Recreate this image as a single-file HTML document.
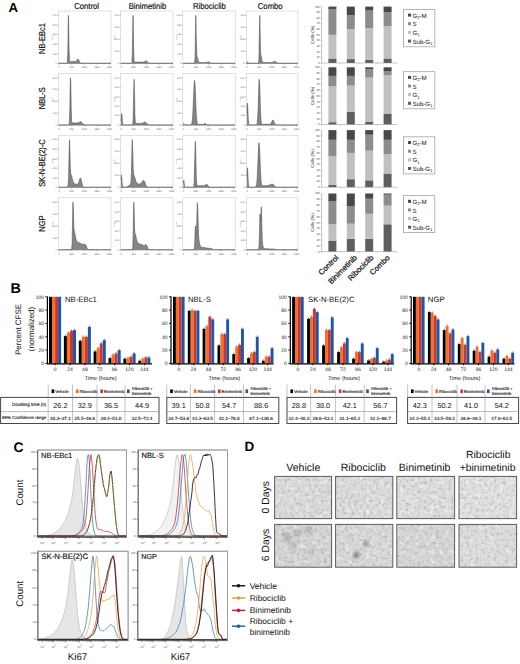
<!DOCTYPE html>
<html><head><meta charset="utf-8"><title>Figure</title>
<style>
html,body{margin:0;padding:0;background:#fff;}
body{width:520px;height:664px;overflow:hidden;}
svg{display:block;font-family:'Liberation Sans', sans-serif;text-rendering:geometricPrecision;}
</style></head><body>
<svg width="520" height="664" viewBox="0 0 520 664">
<defs>
<filter id="blur1"><feGaussianBlur stdDeviation="1.6"/></filter>
</defs>
<rect x="0" y="0" width="520" height="664" fill="#fff"/>
<text x="8.6" y="12.4" font-size="13.2" text-anchor="start" font-weight="bold" fill="#000" >A</text>
<text x="0" y="0" font-size="8.5" text-anchor="middle" font-weight="normal" fill="#111" transform="translate(86.6 8.7) scale(0.905 1)" stroke="#111" stroke-width="0.18">Control</text>
<text x="0" y="0" font-size="8.5" text-anchor="middle" font-weight="normal" fill="#111" transform="translate(147.5 8.7) scale(0.905 1)" stroke="#111" stroke-width="0.18">Binimetinib</text>
<text x="0" y="0" font-size="8.5" text-anchor="middle" font-weight="normal" fill="#111" transform="translate(209.4 8.7) scale(0.905 1)" stroke="#111" stroke-width="0.18">Ribociclib</text>
<text x="0" y="0" font-size="8.5" text-anchor="middle" font-weight="normal" fill="#111" transform="translate(270.2 8.7) scale(0.905 1)" stroke="#111" stroke-width="0.18">Combo</text>
<text x="0" y="0" font-size="8.7" text-anchor="middle" font-weight="normal" fill="#111" transform="translate(44.8 38.6) rotate(-90) scale(0.865 1)" stroke="#111" stroke-width="0.18">NB-EBc1</text>
<text x="0" y="0" font-size="8.7" text-anchor="middle" font-weight="normal" fill="#111" transform="translate(44.8 98.2) rotate(-90) scale(0.865 1)" stroke="#111" stroke-width="0.18">NBL-S</text>
<text x="0" y="0" font-size="8.7" text-anchor="middle" font-weight="normal" fill="#111" transform="translate(44.8 163) rotate(-90) scale(0.865 1)" stroke="#111" stroke-width="0.18">SK-N-BE(2)-C</text>
<text x="0" y="0" font-size="8.7" text-anchor="middle" font-weight="normal" fill="#111" transform="translate(44.8 223.6) rotate(-90) scale(0.865 1)" stroke="#111" stroke-width="0.18">NGP</text>
<rect x="58.5" y="11" width="52.5" height="52.6" fill="#fff" stroke="#c2c2c2" stroke-width="0.5"/>
<path d="M59.1 63.2 L59.1 63.2 L59.5 63.2 L60 63.2 L60.4 63.2 L60.8 63.2 L61.3 63.2 L61.7 63.2 L62.1 63.2 L62.6 63.2 L63 63.2 L63.4 63.2 L63.9 63.2 L64.3 63.2 L64.7 63.2 L65.2 63.2 L65.6 63.2 L66 63.2 L66.5 63.2 L66.9 63.2 L67.3 62.5 L67.8 53.5 L68.2 25.2 L68.4 15.4 L68.6 19.4 L69 47.3 L69.5 60.1 L69.9 61.4 L70.3 61.5 L70.8 61.5 L71.2 61.5 L71.6 61.5 L72.1 61.5 L72.5 61.5 L72.9 61.5 L73.4 61.5 L73.8 61.5 L74.2 61.5 L74.7 61.5 L75.1 61.4 L75.5 61.4 L76 61.2 L76.4 60.9 L76.8 60.4 L77.3 59.8 L77.7 59.1 L78.1 59.1 L78.3 59.2 L78.6 59.6 L79 60.6 L79.4 61.7 L79.9 62.3 L80.3 62.8 L80.7 63.1 L81.2 63.2 L81.6 63.2 L82 63.2 L82.5 63.2 L82.9 63.2 L83.3 63.2 L83.8 63.2 L84.2 63.2 L84.6 63.2 L85 63.2 L85.5 63.2 L85.9 63.2 L86.3 63.2 L86.8 63.2 L87.2 63.2 L87.6 63.2 L88.1 63.2 L88.5 63.2 L88.9 63.2 L89.4 63.2 L89.8 63.2 L90.2 63.2 L90.7 63.2 L91.1 63.2 L91.5 63.2 L92 63.2 L92.4 63.2 L92.8 63.2 L93.3 63.2 L93.7 63.2 L94.1 63.2 L94.6 63.2 L95 63.2 L95.4 63.2 L95.9 63.2 L96.3 63.2 L96.7 63.2 L97.2 63.2 L97.6 63.2 L98 63.2 L98.5 63.2 L98.9 63.2 L99.3 63.2 L99.8 63.2 L100.2 63.2 L100.6 63.2 L101.1 63.2 L101.5 63.2 L101.9 63.2 L102.3 63.2 L102.8 63.2 L103.2 63.2 L103.6 63.2 L104.1 63.2 L104.5 63.2 L104.9 63.2 L105.4 63.2 L105.8 63.2 L106.2 63.2 L106.7 63.2 L107.1 63.2 L107.5 63.2 L108 63.2 L108.4 63.2 L108.8 63.2 L109.3 63.2 L109.7 63.2 L110.1 63.2 L110.6 63.2 L111 63.2 L111 63.2 Z" fill="#858585" stroke="none"/>
<path d="M59.1 63.2 L59.5 63.2 L60 63.2 L60.4 63.2 L60.8 63.2 L61.3 63.2 L61.7 63.2 L62.1 63.2 L62.6 63.2 L63 63.2 L63.4 63.2 L63.9 63.2 L64.3 63.2 L64.7 63.2 L65.2 63.2 L65.6 63.2 L66 63.2 L66.5 63.2 L66.9 63.2 L67.3 62.5 L67.8 53.5 L68.2 25.2 L68.4 15.4 L68.6 19.4 L69 47.3 L69.5 60.1 L69.9 61.4 L70.3 61.5 L70.8 61.5 L71.2 61.5 L71.6 61.5 L72.1 61.5 L72.5 61.5 L72.9 61.5 L73.4 61.5 L73.8 61.5 L74.2 61.5 L74.7 61.5 L75.1 61.4 L75.5 61.4 L76 61.2 L76.4 60.9 L76.8 60.4 L77.3 59.8 L77.7 59.1 L78.1 59.1 L78.3 59.2 L78.6 59.6 L79 60.6 L79.4 61.7 L79.9 62.3 L80.3 62.8 L80.7 63.1 L81.2 63.2 L81.6 63.2 L82 63.2 L82.5 63.2 L82.9 63.2 L83.3 63.2 L83.8 63.2 L84.2 63.2 L84.6 63.2 L85 63.2 L85.5 63.2 L85.9 63.2 L86.3 63.2 L86.8 63.2 L87.2 63.2 L87.6 63.2 L88.1 63.2 L88.5 63.2 L88.9 63.2 L89.4 63.2 L89.8 63.2 L90.2 63.2 L90.7 63.2 L91.1 63.2 L91.5 63.2 L92 63.2 L92.4 63.2 L92.8 63.2 L93.3 63.2 L93.7 63.2 L94.1 63.2 L94.6 63.2 L95 63.2 L95.4 63.2 L95.9 63.2 L96.3 63.2 L96.7 63.2 L97.2 63.2 L97.6 63.2 L98 63.2 L98.5 63.2 L98.9 63.2 L99.3 63.2 L99.8 63.2 L100.2 63.2 L100.6 63.2 L101.1 63.2 L101.5 63.2 L101.9 63.2 L102.3 63.2 L102.8 63.2 L103.2 63.2 L103.6 63.2 L104.1 63.2 L104.5 63.2 L104.9 63.2 L105.4 63.2 L105.8 63.2 L106.2 63.2 L106.7 63.2 L107.1 63.2 L107.5 63.2 L108 63.2 L108.4 63.2 L108.8 63.2 L109.3 63.2 L109.7 63.2 L110.1 63.2 L110.6 63.2 L111 63.2" fill="none" stroke="#4d4d4d" stroke-width="0.55" stroke-linejoin="round"/>
<path d="M58.5 63.4 H111" stroke="#555" stroke-width="0.5"/>
<path d="M58.5 63.2h-1.3M58.5 53.7h-1.3M58.5 44.1h-1.3M58.5 34.6h-1.3M58.5 25h-1.3M58.5 15.4h-1.3M59.1 63.6v1.3M71.7 63.6v1.3M84.3 63.6v1.3M97 63.6v1.3M109.6 63.6v1.3" stroke="#777" stroke-width="0.4" fill="none"/>
<text x="59.1" y="68.2" font-size="2.4" text-anchor="middle" font-weight="normal" fill="#666" >0</text>
<text x="71.7" y="68.2" font-size="2.4" text-anchor="middle" font-weight="normal" fill="#666" >50K</text>
<text x="84.3" y="68.2" font-size="2.4" text-anchor="middle" font-weight="normal" fill="#666" >100K</text>
<text x="97" y="68.2" font-size="2.4" text-anchor="middle" font-weight="normal" fill="#666" >150K</text>
<text x="109.6" y="68.2" font-size="2.4" text-anchor="middle" font-weight="normal" fill="#666" >200K</text>
<text x="56.7" y="64" font-size="2.3" text-anchor="end" font-weight="normal" fill="#666" >0</text>
<text x="56.7" y="54.5" font-size="2.3" text-anchor="end" font-weight="normal" fill="#666" >200</text>
<text x="56.7" y="44.9" font-size="2.3" text-anchor="end" font-weight="normal" fill="#666" >400</text>
<text x="56.7" y="35.4" font-size="2.3" text-anchor="end" font-weight="normal" fill="#666" >600</text>
<text x="56.7" y="25.8" font-size="2.3" text-anchor="end" font-weight="normal" fill="#666" >800</text>
<text x="56.7" y="16.2" font-size="2.3" text-anchor="end" font-weight="normal" fill="#666" >1.0K</text>
<text x="52.9" y="37.3" font-size="2.0" text-anchor="middle" font-weight="normal" fill="#888" transform="rotate(-90 52.9 37.3)" >Count</text>
<rect x="120.5" y="11" width="52.5" height="52.6" fill="#fff" stroke="#c2c2c2" stroke-width="0.5"/>
<path d="M121.1 63.2 L121.1 63.2 L121.5 63.2 L122 63.2 L122.4 63.2 L122.8 63.2 L123.3 63.2 L123.7 63.2 L124.1 63.2 L124.6 63.2 L125 63.2 L125.4 63.2 L125.9 63.2 L126.3 63.2 L126.7 63.2 L127.2 63.2 L127.6 63.2 L128 63.2 L128.5 63.2 L128.9 63.2 L129.3 63.2 L129.8 63.2 L130.2 63.2 L130.6 63.2 L131 63.2 L131.5 63.2 L131.9 62.5 L132.3 53.4 L132.8 25.1 L133 15.4 L133.2 19.6 L133.6 47.9 L134.1 60.8 L134.5 62.1 L134.9 62.1 L135.4 62.1 L135.8 62.1 L136.2 62.1 L136.7 62.1 L137.1 62.1 L137.5 62.1 L138 62.1 L138.4 62.1 L138.8 62.1 L139.3 62.1 L139.7 62.1 L140.1 62.1 L140.6 62.1 L141 62.1 L141.4 62.1 L141.9 62.1 L142.3 62.1 L142.7 62.1 L143.2 62.1 L143.6 62 L144 61.9 L144.5 61.7 L144.9 61.4 L145.3 61.1 L145.8 60.8 L146.2 60.8 L146.5 61 L146.6 61 L147.1 61.5 L147.5 62 L147.9 62.4 L148.3 62.7 L148.8 62.9 L149.2 63.1 L149.6 63.2 L150.1 63.2 L150.5 63.2 L150.9 63.2 L151.4 63.2 L151.8 63.2 L152.2 63.2 L152.7 63.2 L153.1 63.2 L153.5 63.2 L154 63.2 L154.4 63.2 L154.8 63.2 L155.3 63.2 L155.7 63.2 L156.1 63.2 L156.6 63.2 L157 63.2 L157.4 63.2 L157.9 63.2 L158.3 63.2 L158.7 63.2 L159.2 63.2 L159.6 63.2 L160 63.2 L160.5 63.2 L160.9 63.2 L161.3 63.2 L161.8 63.2 L162.2 63.2 L162.6 63.2 L163.1 63.2 L163.5 63.2 L163.9 63.2 L164.3 63.2 L164.8 63.2 L165.2 63.2 L165.6 63.2 L166.1 63.2 L166.5 63.2 L166.9 63.2 L167.4 63.2 L167.8 63.2 L168.2 63.2 L168.7 63.2 L169.1 63.2 L169.5 63.2 L170 63.2 L170.4 63.2 L170.8 63.2 L171.3 63.2 L171.7 63.2 L172.1 63.2 L172.6 63.2 L173 63.2 L173 63.2 Z" fill="#858585" stroke="none"/>
<path d="M121.1 63.2 L121.5 63.2 L122 63.2 L122.4 63.2 L122.8 63.2 L123.3 63.2 L123.7 63.2 L124.1 63.2 L124.6 63.2 L125 63.2 L125.4 63.2 L125.9 63.2 L126.3 63.2 L126.7 63.2 L127.2 63.2 L127.6 63.2 L128 63.2 L128.5 63.2 L128.9 63.2 L129.3 63.2 L129.8 63.2 L130.2 63.2 L130.6 63.2 L131 63.2 L131.5 63.2 L131.9 62.5 L132.3 53.4 L132.8 25.1 L133 15.4 L133.2 19.6 L133.6 47.9 L134.1 60.8 L134.5 62.1 L134.9 62.1 L135.4 62.1 L135.8 62.1 L136.2 62.1 L136.7 62.1 L137.1 62.1 L137.5 62.1 L138 62.1 L138.4 62.1 L138.8 62.1 L139.3 62.1 L139.7 62.1 L140.1 62.1 L140.6 62.1 L141 62.1 L141.4 62.1 L141.9 62.1 L142.3 62.1 L142.7 62.1 L143.2 62.1 L143.6 62 L144 61.9 L144.5 61.7 L144.9 61.4 L145.3 61.1 L145.8 60.8 L146.2 60.8 L146.5 61 L146.6 61 L147.1 61.5 L147.5 62 L147.9 62.4 L148.3 62.7 L148.8 62.9 L149.2 63.1 L149.6 63.2 L150.1 63.2 L150.5 63.2 L150.9 63.2 L151.4 63.2 L151.8 63.2 L152.2 63.2 L152.7 63.2 L153.1 63.2 L153.5 63.2 L154 63.2 L154.4 63.2 L154.8 63.2 L155.3 63.2 L155.7 63.2 L156.1 63.2 L156.6 63.2 L157 63.2 L157.4 63.2 L157.9 63.2 L158.3 63.2 L158.7 63.2 L159.2 63.2 L159.6 63.2 L160 63.2 L160.5 63.2 L160.9 63.2 L161.3 63.2 L161.8 63.2 L162.2 63.2 L162.6 63.2 L163.1 63.2 L163.5 63.2 L163.9 63.2 L164.3 63.2 L164.8 63.2 L165.2 63.2 L165.6 63.2 L166.1 63.2 L166.5 63.2 L166.9 63.2 L167.4 63.2 L167.8 63.2 L168.2 63.2 L168.7 63.2 L169.1 63.2 L169.5 63.2 L170 63.2 L170.4 63.2 L170.8 63.2 L171.3 63.2 L171.7 63.2 L172.1 63.2 L172.6 63.2 L173 63.2" fill="none" stroke="#4d4d4d" stroke-width="0.55" stroke-linejoin="round"/>
<path d="M120.5 63.4 H173" stroke="#555" stroke-width="0.5"/>
<path d="M120.5 63.2h-1.3M120.5 51.3h-1.3M120.5 39.3h-1.3M120.5 27.4h-1.3M120.5 15.4h-1.3M121.1 63.6v1.3M133.7 63.6v1.3M146.3 63.6v1.3M159 63.6v1.3M171.6 63.6v1.3" stroke="#777" stroke-width="0.4" fill="none"/>
<text x="121.1" y="68.2" font-size="2.4" text-anchor="middle" font-weight="normal" fill="#666" >0</text>
<text x="133.7" y="68.2" font-size="2.4" text-anchor="middle" font-weight="normal" fill="#666" >50K</text>
<text x="146.3" y="68.2" font-size="2.4" text-anchor="middle" font-weight="normal" fill="#666" >100K</text>
<text x="159" y="68.2" font-size="2.4" text-anchor="middle" font-weight="normal" fill="#666" >150K</text>
<text x="171.6" y="68.2" font-size="2.4" text-anchor="middle" font-weight="normal" fill="#666" >200K</text>
<text x="118.7" y="64" font-size="2.3" text-anchor="end" font-weight="normal" fill="#666" >0</text>
<text x="118.7" y="52.1" font-size="2.3" text-anchor="end" font-weight="normal" fill="#666" >200</text>
<text x="118.7" y="40.1" font-size="2.3" text-anchor="end" font-weight="normal" fill="#666" >400</text>
<text x="118.7" y="28.2" font-size="2.3" text-anchor="end" font-weight="normal" fill="#666" >600</text>
<text x="118.7" y="16.2" font-size="2.3" text-anchor="end" font-weight="normal" fill="#666" >800</text>
<text x="114.9" y="37.3" font-size="2.0" text-anchor="middle" font-weight="normal" fill="#888" transform="rotate(-90 114.9 37.3)" >Count</text>
<rect x="182.8" y="11" width="52.4" height="52.6" fill="#fff" stroke="#c2c2c2" stroke-width="0.5"/>
<path d="M183.4 63.2 L183.4 63.2 L183.8 63.2 L184.3 63.2 L184.7 63.2 L185.1 63.2 L185.6 63.2 L186 63.2 L186.4 63.2 L186.9 63.2 L187.3 63.2 L187.7 63.2 L188.1 63.2 L188.6 63.2 L189 63.2 L189.4 63.2 L189.9 63.2 L190.3 63.2 L190.7 63.2 L191.2 63.2 L191.6 63.2 L192 63.2 L192.5 63.2 L192.9 63.2 L193.3 63.2 L193.8 63.2 L194.2 63.2 L194.6 62.9 L195.1 56.8 L195.5 31.5 L195.8 15.4 L195.9 16.2 L196.3 40.1 L196.8 55.2 L197.1 56.8 L197.2 57 L197.6 58.1 L198.1 59.9 L198.5 61.4 L198.9 62.1 L199.4 62.4 L199.8 62.5 L200.2 62.5 L200.7 62.5 L201.1 62.5 L201.5 62.5 L202 62.5 L202.4 62.5 L202.8 62.5 L203.3 62.5 L203.7 62.5 L204.1 62.5 L204.6 62.5 L205 62.5 L205.4 62.5 L205.8 62.5 L206.3 62.4 L206.7 62.3 L207.1 62.2 L207.6 62 L208 61.8 L208.4 61.7 L208.8 61.9 L208.9 61.9 L209.3 62.2 L209.7 62.6 L210.2 62.8 L210.6 63 L211 63.1 L211.5 63.2 L211.9 63.2 L212.3 63.2 L212.8 63.2 L213.2 63.2 L213.6 63.2 L214 63.2 L214.5 63.2 L214.9 63.2 L215.3 63.2 L215.8 63.2 L216.2 63.2 L216.6 63.2 L217.1 63.2 L217.5 63.2 L217.9 63.2 L218.4 63.2 L218.8 63.2 L219.2 63.2 L219.7 63.2 L220.1 63.2 L220.5 63.2 L221 63.2 L221.4 63.2 L221.8 63.2 L222.2 63.2 L222.7 63.2 L223.1 63.2 L223.5 63.2 L224 63.2 L224.4 63.2 L224.8 63.2 L225.3 63.2 L225.7 63.2 L226.1 63.2 L226.6 63.2 L227 63.2 L227.4 63.2 L227.9 63.2 L228.3 63.2 L228.7 63.2 L229.2 63.2 L229.6 63.2 L230 63.2 L230.5 63.2 L230.9 63.2 L231.3 63.2 L231.7 63.2 L232.2 63.2 L232.6 63.2 L233 63.2 L233.5 63.2 L233.9 63.2 L234.3 63.2 L234.8 63.2 L235.2 63.2 L235.2 63.2 Z" fill="#858585" stroke="none"/>
<path d="M183.4 63.2 L183.8 63.2 L184.3 63.2 L184.7 63.2 L185.1 63.2 L185.6 63.2 L186 63.2 L186.4 63.2 L186.9 63.2 L187.3 63.2 L187.7 63.2 L188.1 63.2 L188.6 63.2 L189 63.2 L189.4 63.2 L189.9 63.2 L190.3 63.2 L190.7 63.2 L191.2 63.2 L191.6 63.2 L192 63.2 L192.5 63.2 L192.9 63.2 L193.3 63.2 L193.8 63.2 L194.2 63.2 L194.6 62.9 L195.1 56.8 L195.5 31.5 L195.8 15.4 L195.9 16.2 L196.3 40.1 L196.8 55.2 L197.1 56.8 L197.2 57 L197.6 58.1 L198.1 59.9 L198.5 61.4 L198.9 62.1 L199.4 62.4 L199.8 62.5 L200.2 62.5 L200.7 62.5 L201.1 62.5 L201.5 62.5 L202 62.5 L202.4 62.5 L202.8 62.5 L203.3 62.5 L203.7 62.5 L204.1 62.5 L204.6 62.5 L205 62.5 L205.4 62.5 L205.8 62.5 L206.3 62.4 L206.7 62.3 L207.1 62.2 L207.6 62 L208 61.8 L208.4 61.7 L208.8 61.9 L208.9 61.9 L209.3 62.2 L209.7 62.6 L210.2 62.8 L210.6 63 L211 63.1 L211.5 63.2 L211.9 63.2 L212.3 63.2 L212.8 63.2 L213.2 63.2 L213.6 63.2 L214 63.2 L214.5 63.2 L214.9 63.2 L215.3 63.2 L215.8 63.2 L216.2 63.2 L216.6 63.2 L217.1 63.2 L217.5 63.2 L217.9 63.2 L218.4 63.2 L218.8 63.2 L219.2 63.2 L219.7 63.2 L220.1 63.2 L220.5 63.2 L221 63.2 L221.4 63.2 L221.8 63.2 L222.2 63.2 L222.7 63.2 L223.1 63.2 L223.5 63.2 L224 63.2 L224.4 63.2 L224.8 63.2 L225.3 63.2 L225.7 63.2 L226.1 63.2 L226.6 63.2 L227 63.2 L227.4 63.2 L227.9 63.2 L228.3 63.2 L228.7 63.2 L229.2 63.2 L229.6 63.2 L230 63.2 L230.5 63.2 L230.9 63.2 L231.3 63.2 L231.7 63.2 L232.2 63.2 L232.6 63.2 L233 63.2 L233.5 63.2 L233.9 63.2 L234.3 63.2 L234.8 63.2 L235.2 63.2" fill="none" stroke="#4d4d4d" stroke-width="0.55" stroke-linejoin="round"/>
<path d="M182.8 63.4 H235.2" stroke="#555" stroke-width="0.5"/>
<path d="M182.8 63.2h-1.3M182.8 53.7h-1.3M182.8 44.1h-1.3M182.8 34.6h-1.3M182.8 25h-1.3M182.8 15.4h-1.3M183.4 63.6v1.3M196 63.6v1.3M208.6 63.6v1.3M221.2 63.6v1.3M233.8 63.6v1.3" stroke="#777" stroke-width="0.4" fill="none"/>
<text x="183.4" y="68.2" font-size="2.4" text-anchor="middle" font-weight="normal" fill="#666" >0</text>
<text x="196" y="68.2" font-size="2.4" text-anchor="middle" font-weight="normal" fill="#666" >50K</text>
<text x="208.6" y="68.2" font-size="2.4" text-anchor="middle" font-weight="normal" fill="#666" >100K</text>
<text x="221.2" y="68.2" font-size="2.4" text-anchor="middle" font-weight="normal" fill="#666" >150K</text>
<text x="233.8" y="68.2" font-size="2.4" text-anchor="middle" font-weight="normal" fill="#666" >200K</text>
<text x="181" y="64" font-size="2.3" text-anchor="end" font-weight="normal" fill="#666" >0</text>
<text x="181" y="54.5" font-size="2.3" text-anchor="end" font-weight="normal" fill="#666" >200</text>
<text x="181" y="44.9" font-size="2.3" text-anchor="end" font-weight="normal" fill="#666" >400</text>
<text x="181" y="35.4" font-size="2.3" text-anchor="end" font-weight="normal" fill="#666" >600</text>
<text x="181" y="25.8" font-size="2.3" text-anchor="end" font-weight="normal" fill="#666" >800</text>
<text x="181" y="16.2" font-size="2.3" text-anchor="end" font-weight="normal" fill="#666" >1.0K</text>
<text x="177.2" y="37.3" font-size="2.0" text-anchor="middle" font-weight="normal" fill="#888" transform="rotate(-90 177.2 37.3)" >Count</text>
<rect x="246.4" y="11" width="51.6" height="52.6" fill="#fff" stroke="#c2c2c2" stroke-width="0.5"/>
<path d="M247 63.2 L247 62.6 L247.4 61.8 L247.5 61.7 L247.8 62.2 L248.3 63 L248.7 63.2 L249.1 63.2 L249.6 63.2 L250 63.2 L250.4 63.2 L250.8 63.2 L251.2 63.2 L251.7 63.2 L252.1 63.2 L252.5 63.2 L252.9 63.2 L253.4 63.2 L253.8 63.2 L254.2 63.2 L254.7 63.2 L255.1 63.2 L255.5 63.2 L255.9 63.2 L256.4 63.2 L256.8 63.2 L257.2 63.2 L257.6 63.2 L258.1 63.2 L258.5 63.1 L258.9 59.3 L259.3 37.8 L259.8 15.4 L260.2 34.6 L260.6 53 L261 55.3 L261.4 56.9 L261.9 59.8 L262.3 61.7 L262.7 62.3 L263.1 62.5 L263.6 62.5 L264 62.5 L264.4 62.5 L264.9 62.5 L265.3 62.5 L265.7 62.5 L266.1 62.5 L266.6 62.5 L267 62.5 L267.4 62.5 L267.8 62.5 L268.2 62.5 L268.7 62.5 L269.1 62.5 L269.5 62.5 L269.9 62.5 L270.4 62.5 L270.8 62.5 L271.2 62.4 L271.6 62.4 L272.1 62.3 L272.5 62.2 L272.9 62 L273.4 61.8 L273.8 61.5 L274.2 61.3 L274.6 61.2 L275.1 61.4 L275.5 61.6 L275.9 62 L276.3 62.3 L276.8 62.5 L277.2 62.7 L277.6 62.9 L278 63 L278.4 63.1 L278.9 63.2 L279.3 63.2 L279.7 63.2 L280.1 63.2 L280.6 63.2 L281 63.2 L281.4 63.2 L281.9 63.2 L282.3 63.2 L282.7 63.2 L283.1 63.2 L283.6 63.2 L284 63.2 L284.4 63.2 L284.8 63.2 L285.2 63.2 L285.7 63.2 L286.1 63.2 L286.5 63.2 L286.9 63.2 L287.4 63.2 L287.8 63.2 L288.2 63.2 L288.6 63.2 L289.1 63.2 L289.5 63.2 L289.9 63.2 L290.4 63.2 L290.8 63.2 L291.2 63.2 L291.6 63.2 L292.1 63.2 L292.5 63.2 L292.9 63.2 L293.3 63.2 L293.8 63.2 L294.2 63.2 L294.6 63.2 L295 63.2 L295.4 63.2 L295.9 63.2 L296.3 63.2 L296.7 63.2 L297.1 63.2 L297.6 63.2 L298 63.2 L298 63.2 Z" fill="#858585" stroke="none"/>
<path d="M247 62.6 L247.4 61.8 L247.5 61.7 L247.8 62.2 L248.3 63 L248.7 63.2 L249.1 63.2 L249.6 63.2 L250 63.2 L250.4 63.2 L250.8 63.2 L251.2 63.2 L251.7 63.2 L252.1 63.2 L252.5 63.2 L252.9 63.2 L253.4 63.2 L253.8 63.2 L254.2 63.2 L254.7 63.2 L255.1 63.2 L255.5 63.2 L255.9 63.2 L256.4 63.2 L256.8 63.2 L257.2 63.2 L257.6 63.2 L258.1 63.2 L258.5 63.1 L258.9 59.3 L259.3 37.8 L259.8 15.4 L260.2 34.6 L260.6 53 L261 55.3 L261.4 56.9 L261.9 59.8 L262.3 61.7 L262.7 62.3 L263.1 62.5 L263.6 62.5 L264 62.5 L264.4 62.5 L264.9 62.5 L265.3 62.5 L265.7 62.5 L266.1 62.5 L266.6 62.5 L267 62.5 L267.4 62.5 L267.8 62.5 L268.2 62.5 L268.7 62.5 L269.1 62.5 L269.5 62.5 L269.9 62.5 L270.4 62.5 L270.8 62.5 L271.2 62.4 L271.6 62.4 L272.1 62.3 L272.5 62.2 L272.9 62 L273.4 61.8 L273.8 61.5 L274.2 61.3 L274.6 61.2 L275.1 61.4 L275.5 61.6 L275.9 62 L276.3 62.3 L276.8 62.5 L277.2 62.7 L277.6 62.9 L278 63 L278.4 63.1 L278.9 63.2 L279.3 63.2 L279.7 63.2 L280.1 63.2 L280.6 63.2 L281 63.2 L281.4 63.2 L281.9 63.2 L282.3 63.2 L282.7 63.2 L283.1 63.2 L283.6 63.2 L284 63.2 L284.4 63.2 L284.8 63.2 L285.2 63.2 L285.7 63.2 L286.1 63.2 L286.5 63.2 L286.9 63.2 L287.4 63.2 L287.8 63.2 L288.2 63.2 L288.6 63.2 L289.1 63.2 L289.5 63.2 L289.9 63.2 L290.4 63.2 L290.8 63.2 L291.2 63.2 L291.6 63.2 L292.1 63.2 L292.5 63.2 L292.9 63.2 L293.3 63.2 L293.8 63.2 L294.2 63.2 L294.6 63.2 L295 63.2 L295.4 63.2 L295.9 63.2 L296.3 63.2 L296.7 63.2 L297.1 63.2 L297.6 63.2 L298 63.2" fill="none" stroke="#4d4d4d" stroke-width="0.55" stroke-linejoin="round"/>
<path d="M246.4 63.4 H298" stroke="#555" stroke-width="0.5"/>
<path d="M246.4 63.2h-1.3M246.4 51.3h-1.3M246.4 39.3h-1.3M246.4 27.4h-1.3M246.4 15.4h-1.3M247 63.6v1.3M259.4 63.6v1.3M271.8 63.6v1.3M284.2 63.6v1.3M296.6 63.6v1.3" stroke="#777" stroke-width="0.4" fill="none"/>
<text x="247" y="68.2" font-size="2.4" text-anchor="middle" font-weight="normal" fill="#666" >0</text>
<text x="259.4" y="68.2" font-size="2.4" text-anchor="middle" font-weight="normal" fill="#666" >50K</text>
<text x="271.8" y="68.2" font-size="2.4" text-anchor="middle" font-weight="normal" fill="#666" >100K</text>
<text x="284.2" y="68.2" font-size="2.4" text-anchor="middle" font-weight="normal" fill="#666" >150K</text>
<text x="296.6" y="68.2" font-size="2.4" text-anchor="middle" font-weight="normal" fill="#666" >200K</text>
<text x="244.6" y="64" font-size="2.3" text-anchor="end" font-weight="normal" fill="#666" >0</text>
<text x="244.6" y="52.1" font-size="2.3" text-anchor="end" font-weight="normal" fill="#666" >200</text>
<text x="244.6" y="40.1" font-size="2.3" text-anchor="end" font-weight="normal" fill="#666" >400</text>
<text x="244.6" y="28.2" font-size="2.3" text-anchor="end" font-weight="normal" fill="#666" >600</text>
<text x="244.6" y="16.2" font-size="2.3" text-anchor="end" font-weight="normal" fill="#666" >800</text>
<text x="240.8" y="37.3" font-size="2.0" text-anchor="middle" font-weight="normal" fill="#888" transform="rotate(-90 240.8 37.3)" >Count</text>
<rect x="58.5" y="73.4" width="52.5" height="51.9" fill="#fff" stroke="#c2c2c2" stroke-width="0.5"/>
<path d="M59.1 125 L59.1 125 L59.5 125 L60 125 L60.4 125 L60.8 125 L61.3 125 L61.7 125 L62.1 125 L62.6 125 L63 125 L63.4 125 L63.9 125 L64.3 125 L64.7 125 L65.2 125 L65.6 125 L66 125 L66.5 125 L66.9 124.9 L67.3 124.9 L67.8 124.9 L68.2 124.9 L68.6 124.9 L69 124.6 L69.5 121 L69.9 104.7 L70.3 81.2 L70.5 77.8 L70.8 83.7 L71.2 107.3 L71.6 120.4 L72.1 122.8 L72.5 122.9 L72.9 122.9 L73.4 122.9 L73.8 122.9 L74.2 122.9 L74.7 122.9 L75.1 122.9 L75.5 122.9 L76 122.9 L76.4 122.9 L76.8 122.9 L77.3 122.9 L77.7 122.8 L78.1 122.8 L78.6 122.7 L79 122.5 L79.4 122.3 L79.9 122 L80.3 121.8 L80.7 121.6 L81.2 121.8 L81.4 122.1 L81.6 122.3 L82 123 L82.5 123.7 L82.9 124 L83.3 124.2 L83.8 124.5 L84.2 124.6 L84.6 124.8 L85 124.9 L85.5 124.9 L85.9 124.9 L86.3 124.9 L86.8 124.9 L87.2 124.9 L87.6 124.9 L88.1 124.9 L88.5 124.9 L88.9 124.9 L89.4 124.9 L89.8 124.9 L90.2 124.9 L90.7 124.9 L91.1 124.9 L91.5 124.9 L92 124.9 L92.4 124.9 L92.8 124.9 L93.3 124.9 L93.7 124.9 L94.1 125 L94.6 125 L95 125 L95.4 125 L95.9 125 L96.3 125 L96.7 125 L97.2 125 L97.6 125 L98 125 L98.5 125 L98.9 125 L99.3 125 L99.8 125 L100.2 125 L100.6 125 L101.1 125 L101.5 125 L101.9 125 L102.3 125 L102.8 125 L103.2 125 L103.6 125 L104.1 125 L104.5 125 L104.9 125 L105.4 125 L105.8 125 L106.2 125 L106.7 125 L107.1 125 L107.5 125 L108 125 L108.4 125 L108.8 125 L109.3 125 L109.7 125 L110.1 125 L110.6 125 L111 125 L111 125 Z" fill="#858585" stroke="none"/>
<path d="M59.1 125 L59.5 125 L60 125 L60.4 125 L60.8 125 L61.3 125 L61.7 125 L62.1 125 L62.6 125 L63 125 L63.4 125 L63.9 125 L64.3 125 L64.7 125 L65.2 125 L65.6 125 L66 125 L66.5 125 L66.9 124.9 L67.3 124.9 L67.8 124.9 L68.2 124.9 L68.6 124.9 L69 124.6 L69.5 121 L69.9 104.7 L70.3 81.2 L70.5 77.8 L70.8 83.7 L71.2 107.3 L71.6 120.4 L72.1 122.8 L72.5 122.9 L72.9 122.9 L73.4 122.9 L73.8 122.9 L74.2 122.9 L74.7 122.9 L75.1 122.9 L75.5 122.9 L76 122.9 L76.4 122.9 L76.8 122.9 L77.3 122.9 L77.7 122.8 L78.1 122.8 L78.6 122.7 L79 122.5 L79.4 122.3 L79.9 122 L80.3 121.8 L80.7 121.6 L81.2 121.8 L81.4 122.1 L81.6 122.3 L82 123 L82.5 123.7 L82.9 124 L83.3 124.2 L83.8 124.5 L84.2 124.6 L84.6 124.8 L85 124.9 L85.5 124.9 L85.9 124.9 L86.3 124.9 L86.8 124.9 L87.2 124.9 L87.6 124.9 L88.1 124.9 L88.5 124.9 L88.9 124.9 L89.4 124.9 L89.8 124.9 L90.2 124.9 L90.7 124.9 L91.1 124.9 L91.5 124.9 L92 124.9 L92.4 124.9 L92.8 124.9 L93.3 124.9 L93.7 124.9 L94.1 125 L94.6 125 L95 125 L95.4 125 L95.9 125 L96.3 125 L96.7 125 L97.2 125 L97.6 125 L98 125 L98.5 125 L98.9 125 L99.3 125 L99.8 125 L100.2 125 L100.6 125 L101.1 125 L101.5 125 L101.9 125 L102.3 125 L102.8 125 L103.2 125 L103.6 125 L104.1 125 L104.5 125 L104.9 125 L105.4 125 L105.8 125 L106.2 125 L106.7 125 L107.1 125 L107.5 125 L108 125 L108.4 125 L108.8 125 L109.3 125 L109.7 125 L110.1 125 L110.6 125 L111 125" fill="none" stroke="#4d4d4d" stroke-width="0.55" stroke-linejoin="round"/>
<path d="M58.5 125 H111" stroke="#555" stroke-width="0.5"/>
<path d="M58.5 125h-1.3M58.5 113.2h-1.3M58.5 101.4h-1.3M58.5 89.6h-1.3M58.5 77.8h-1.3M59.1 125.3v1.3M71.7 125.3v1.3M84.3 125.3v1.3M97 125.3v1.3M109.6 125.3v1.3" stroke="#777" stroke-width="0.4" fill="none"/>
<text x="59.1" y="129.9" font-size="2.4" text-anchor="middle" font-weight="normal" fill="#666" >0</text>
<text x="71.7" y="129.9" font-size="2.4" text-anchor="middle" font-weight="normal" fill="#666" >50K</text>
<text x="84.3" y="129.9" font-size="2.4" text-anchor="middle" font-weight="normal" fill="#666" >100K</text>
<text x="97" y="129.9" font-size="2.4" text-anchor="middle" font-weight="normal" fill="#666" >150K</text>
<text x="109.6" y="129.9" font-size="2.4" text-anchor="middle" font-weight="normal" fill="#666" >200K</text>
<text x="56.7" y="125.8" font-size="2.3" text-anchor="end" font-weight="normal" fill="#666" >0</text>
<text x="56.7" y="114" font-size="2.3" text-anchor="end" font-weight="normal" fill="#666" >200</text>
<text x="56.7" y="102.2" font-size="2.3" text-anchor="end" font-weight="normal" fill="#666" >400</text>
<text x="56.7" y="90.4" font-size="2.3" text-anchor="end" font-weight="normal" fill="#666" >600</text>
<text x="56.7" y="78.6" font-size="2.3" text-anchor="end" font-weight="normal" fill="#666" >800</text>
<text x="52.9" y="99.3" font-size="2.0" text-anchor="middle" font-weight="normal" fill="#888" transform="rotate(-90 52.9 99.3)" >Count</text>
<rect x="120.5" y="73.4" width="52.5" height="51.9" fill="#fff" stroke="#c2c2c2" stroke-width="0.5"/>
<path d="M121.1 125 L121.1 121.2 L121.5 114.5 L121.7 113.4 L122 115.2 L122.4 121.9 L122.8 124.6 L123.3 124.9 L123.7 124.9 L124.1 124.9 L124.6 124.9 L125 124.9 L125.4 125 L125.9 125 L126.3 125 L126.7 125 L127.2 125 L127.6 125 L128 125 L128.5 125 L128.9 125 L129.3 125 L129.8 125 L130.2 124.9 L130.6 124.9 L131 124.9 L131.5 124.9 L131.9 124.9 L132.3 124.9 L132.8 124 L133.2 116.8 L133.6 95.4 L134.1 79.3 L134.5 94.1 L134.9 115.3 L135.4 122.5 L135.8 123.4 L136.2 123.4 L136.7 123.4 L137.1 123.4 L137.5 123.4 L138 123.4 L138.4 123.4 L138.8 123.4 L139.3 123.4 L139.7 123.4 L140.1 123.4 L140.6 123.4 L141 123.4 L141.4 123.4 L141.9 123.3 L142.3 123.2 L142.7 123.1 L143.2 122.9 L143.6 122.6 L144 122.3 L144.5 122 L144.9 121.8 L145.3 122 L145.5 122.2 L145.8 122.5 L146.2 123 L146.6 123.6 L147.1 123.9 L147.5 124.2 L147.9 124.4 L148.3 124.6 L148.8 124.8 L149.2 124.8 L149.6 124.9 L150.1 124.9 L150.5 124.9 L150.9 124.9 L151.4 124.9 L151.8 124.9 L152.2 124.9 L152.7 124.9 L153.1 124.9 L153.5 124.9 L154 124.9 L154.4 124.9 L154.8 124.9 L155.3 124.9 L155.7 124.9 L156.1 124.9 L156.6 124.9 L157 124.9 L157.4 124.9 L157.9 124.9 L158.3 125 L158.7 125 L159.2 125 L159.6 125 L160 125 L160.5 125 L160.9 125 L161.3 125 L161.8 125 L162.2 125 L162.6 125 L163.1 125 L163.5 125 L163.9 125 L164.3 125 L164.8 125 L165.2 125 L165.6 125 L166.1 125 L166.5 125 L166.9 125 L167.4 125 L167.8 125 L168.2 125 L168.7 125 L169.1 125 L169.5 125 L170 125 L170.4 125 L170.8 125 L171.3 125 L171.7 125 L172.1 125 L172.6 125 L173 125 L173 125 Z" fill="#858585" stroke="none"/>
<path d="M121.1 121.2 L121.5 114.5 L121.7 113.4 L122 115.2 L122.4 121.9 L122.8 124.6 L123.3 124.9 L123.7 124.9 L124.1 124.9 L124.6 124.9 L125 124.9 L125.4 125 L125.9 125 L126.3 125 L126.7 125 L127.2 125 L127.6 125 L128 125 L128.5 125 L128.9 125 L129.3 125 L129.8 125 L130.2 124.9 L130.6 124.9 L131 124.9 L131.5 124.9 L131.9 124.9 L132.3 124.9 L132.8 124 L133.2 116.8 L133.6 95.4 L134.1 79.3 L134.5 94.1 L134.9 115.3 L135.4 122.5 L135.8 123.4 L136.2 123.4 L136.7 123.4 L137.1 123.4 L137.5 123.4 L138 123.4 L138.4 123.4 L138.8 123.4 L139.3 123.4 L139.7 123.4 L140.1 123.4 L140.6 123.4 L141 123.4 L141.4 123.4 L141.9 123.3 L142.3 123.2 L142.7 123.1 L143.2 122.9 L143.6 122.6 L144 122.3 L144.5 122 L144.9 121.8 L145.3 122 L145.5 122.2 L145.8 122.5 L146.2 123 L146.6 123.6 L147.1 123.9 L147.5 124.2 L147.9 124.4 L148.3 124.6 L148.8 124.8 L149.2 124.8 L149.6 124.9 L150.1 124.9 L150.5 124.9 L150.9 124.9 L151.4 124.9 L151.8 124.9 L152.2 124.9 L152.7 124.9 L153.1 124.9 L153.5 124.9 L154 124.9 L154.4 124.9 L154.8 124.9 L155.3 124.9 L155.7 124.9 L156.1 124.9 L156.6 124.9 L157 124.9 L157.4 124.9 L157.9 124.9 L158.3 125 L158.7 125 L159.2 125 L159.6 125 L160 125 L160.5 125 L160.9 125 L161.3 125 L161.8 125 L162.2 125 L162.6 125 L163.1 125 L163.5 125 L163.9 125 L164.3 125 L164.8 125 L165.2 125 L165.6 125 L166.1 125 L166.5 125 L166.9 125 L167.4 125 L167.8 125 L168.2 125 L168.7 125 L169.1 125 L169.5 125 L170 125 L170.4 125 L170.8 125 L171.3 125 L171.7 125 L172.1 125 L172.6 125 L173 125" fill="none" stroke="#4d4d4d" stroke-width="0.55" stroke-linejoin="round"/>
<path d="M120.5 125 H173" stroke="#555" stroke-width="0.5"/>
<path d="M120.5 125h-1.3M120.5 115.5h-1.3M120.5 106.1h-1.3M120.5 96.7h-1.3M120.5 87.2h-1.3M120.5 77.8h-1.3M121.1 125.3v1.3M133.7 125.3v1.3M146.3 125.3v1.3M159 125.3v1.3M171.6 125.3v1.3" stroke="#777" stroke-width="0.4" fill="none"/>
<text x="121.1" y="129.9" font-size="2.4" text-anchor="middle" font-weight="normal" fill="#666" >0</text>
<text x="133.7" y="129.9" font-size="2.4" text-anchor="middle" font-weight="normal" fill="#666" >50K</text>
<text x="146.3" y="129.9" font-size="2.4" text-anchor="middle" font-weight="normal" fill="#666" >100K</text>
<text x="159" y="129.9" font-size="2.4" text-anchor="middle" font-weight="normal" fill="#666" >150K</text>
<text x="171.6" y="129.9" font-size="2.4" text-anchor="middle" font-weight="normal" fill="#666" >200K</text>
<text x="118.7" y="125.8" font-size="2.3" text-anchor="end" font-weight="normal" fill="#666" >0</text>
<text x="118.7" y="116.3" font-size="2.3" text-anchor="end" font-weight="normal" fill="#666" >200</text>
<text x="118.7" y="106.9" font-size="2.3" text-anchor="end" font-weight="normal" fill="#666" >400</text>
<text x="118.7" y="97.5" font-size="2.3" text-anchor="end" font-weight="normal" fill="#666" >600</text>
<text x="118.7" y="88" font-size="2.3" text-anchor="end" font-weight="normal" fill="#666" >800</text>
<text x="118.7" y="78.6" font-size="2.3" text-anchor="end" font-weight="normal" fill="#666" >1.0K</text>
<text x="114.9" y="99.3" font-size="2.0" text-anchor="middle" font-weight="normal" fill="#888" transform="rotate(-90 114.9 99.3)" >Count</text>
<rect x="182.8" y="73.4" width="52.4" height="51.9" fill="#fff" stroke="#c2c2c2" stroke-width="0.5"/>
<path d="M183.4 125 L183.4 123.2 L183.8 123.9 L184.3 124.7 L184.7 124.9 L185.1 124.9 L185.6 124.9 L186 124.9 L186.4 124.9 L186.9 124.9 L187.3 124.9 L187.7 124.9 L188.1 124.9 L188.6 124.9 L189 124.9 L189.4 124.9 L189.9 124.9 L190.3 124.9 L190.7 124.9 L191.2 124.7 L191.6 124.1 L192 122.5 L192.5 118.9 L192.9 112.2 L193.3 102.4 L193.8 91.3 L194.2 82.7 L194.5 80.3 L194.6 80.5 L195.1 85.3 L195.5 95.1 L195.9 106.1 L196.3 114.8 L196.8 120.2 L197.2 122.9 L197.6 123.9 L198.1 124.3 L198.5 124.4 L198.9 124.4 L199.4 124.4 L199.8 124.4 L200.2 124.4 L200.7 124.4 L201.1 124.4 L201.5 124.4 L202 124.4 L202.4 124.4 L202.8 124.4 L203.3 124.3 L203.7 124.1 L204.1 123.8 L204.6 123.6 L205 123.6 L205.2 123.6 L205.4 123.7 L205.8 124 L206.3 124.4 L206.7 124.6 L207.1 124.8 L207.6 124.9 L208 124.9 L208.4 124.9 L208.9 124.9 L209.3 124.9 L209.7 124.9 L210.2 124.9 L210.6 124.9 L211 124.9 L211.5 124.9 L211.9 124.9 L212.3 124.9 L212.8 124.9 L213.2 124.9 L213.6 125 L214 125 L214.5 125 L214.9 125 L215.3 125 L215.8 125 L216.2 125 L216.6 125 L217.1 125 L217.5 125 L217.9 125 L218.4 125 L218.8 125 L219.2 125 L219.7 125 L220.1 125 L220.5 125 L221 125 L221.4 125 L221.8 125 L222.2 125 L222.7 125 L223.1 125 L223.5 125 L224 125 L224.4 125 L224.8 125 L225.3 125 L225.7 125 L226.1 125 L226.6 125 L227 125 L227.4 125 L227.9 125 L228.3 125 L228.7 125 L229.2 125 L229.6 125 L230 125 L230.5 125 L230.9 125 L231.3 125 L231.7 125 L232.2 125 L232.6 125 L233 125 L233.5 125 L233.9 125 L234.3 125 L234.8 125 L235.2 125 L235.2 125 Z" fill="#858585" stroke="none"/>
<path d="M183.4 123.2 L183.8 123.9 L184.3 124.7 L184.7 124.9 L185.1 124.9 L185.6 124.9 L186 124.9 L186.4 124.9 L186.9 124.9 L187.3 124.9 L187.7 124.9 L188.1 124.9 L188.6 124.9 L189 124.9 L189.4 124.9 L189.9 124.9 L190.3 124.9 L190.7 124.9 L191.2 124.7 L191.6 124.1 L192 122.5 L192.5 118.9 L192.9 112.2 L193.3 102.4 L193.8 91.3 L194.2 82.7 L194.5 80.3 L194.6 80.5 L195.1 85.3 L195.5 95.1 L195.9 106.1 L196.3 114.8 L196.8 120.2 L197.2 122.9 L197.6 123.9 L198.1 124.3 L198.5 124.4 L198.9 124.4 L199.4 124.4 L199.8 124.4 L200.2 124.4 L200.7 124.4 L201.1 124.4 L201.5 124.4 L202 124.4 L202.4 124.4 L202.8 124.4 L203.3 124.3 L203.7 124.1 L204.1 123.8 L204.6 123.6 L205 123.6 L205.2 123.6 L205.4 123.7 L205.8 124 L206.3 124.4 L206.7 124.6 L207.1 124.8 L207.6 124.9 L208 124.9 L208.4 124.9 L208.9 124.9 L209.3 124.9 L209.7 124.9 L210.2 124.9 L210.6 124.9 L211 124.9 L211.5 124.9 L211.9 124.9 L212.3 124.9 L212.8 124.9 L213.2 124.9 L213.6 125 L214 125 L214.5 125 L214.9 125 L215.3 125 L215.8 125 L216.2 125 L216.6 125 L217.1 125 L217.5 125 L217.9 125 L218.4 125 L218.8 125 L219.2 125 L219.7 125 L220.1 125 L220.5 125 L221 125 L221.4 125 L221.8 125 L222.2 125 L222.7 125 L223.1 125 L223.5 125 L224 125 L224.4 125 L224.8 125 L225.3 125 L225.7 125 L226.1 125 L226.6 125 L227 125 L227.4 125 L227.9 125 L228.3 125 L228.7 125 L229.2 125 L229.6 125 L230 125 L230.5 125 L230.9 125 L231.3 125 L231.7 125 L232.2 125 L232.6 125 L233 125 L233.5 125 L233.9 125 L234.3 125 L234.8 125 L235.2 125" fill="none" stroke="#4d4d4d" stroke-width="0.55" stroke-linejoin="round"/>
<path d="M182.8 125 H235.2" stroke="#555" stroke-width="0.5"/>
<path d="M182.8 125h-1.3M182.8 113.2h-1.3M182.8 101.4h-1.3M182.8 89.6h-1.3M182.8 77.8h-1.3M183.4 125.3v1.3M196 125.3v1.3M208.6 125.3v1.3M221.2 125.3v1.3M233.8 125.3v1.3" stroke="#777" stroke-width="0.4" fill="none"/>
<text x="183.4" y="129.9" font-size="2.4" text-anchor="middle" font-weight="normal" fill="#666" >0</text>
<text x="196" y="129.9" font-size="2.4" text-anchor="middle" font-weight="normal" fill="#666" >50K</text>
<text x="208.6" y="129.9" font-size="2.4" text-anchor="middle" font-weight="normal" fill="#666" >100K</text>
<text x="221.2" y="129.9" font-size="2.4" text-anchor="middle" font-weight="normal" fill="#666" >150K</text>
<text x="233.8" y="129.9" font-size="2.4" text-anchor="middle" font-weight="normal" fill="#666" >200K</text>
<text x="181" y="125.8" font-size="2.3" text-anchor="end" font-weight="normal" fill="#666" >0</text>
<text x="181" y="114" font-size="2.3" text-anchor="end" font-weight="normal" fill="#666" >200</text>
<text x="181" y="102.2" font-size="2.3" text-anchor="end" font-weight="normal" fill="#666" >400</text>
<text x="181" y="90.4" font-size="2.3" text-anchor="end" font-weight="normal" fill="#666" >600</text>
<text x="181" y="78.6" font-size="2.3" text-anchor="end" font-weight="normal" fill="#666" >800</text>
<text x="177.2" y="99.3" font-size="2.0" text-anchor="middle" font-weight="normal" fill="#888" transform="rotate(-90 177.2 99.3)" >Count</text>
<rect x="246.4" y="73.4" width="51.6" height="51.9" fill="#fff" stroke="#c2c2c2" stroke-width="0.5"/>
<path d="M247 125 L247 113.2 L247.4 103.6 L247.5 103.2 L247.8 108.4 L248.3 119.5 L248.7 124.2 L249.1 124.9 L249.6 124.9 L250 124.9 L250.4 124.9 L250.8 124.9 L251.2 124.9 L251.7 125 L252.1 125 L252.5 124.9 L252.9 124.9 L253.4 124.9 L253.8 124.9 L254.2 124.9 L254.7 124.9 L255.1 124.9 L255.5 124.9 L255.9 124.9 L256.4 124.9 L256.8 124.5 L257.2 122.9 L257.6 118.5 L258.1 109.2 L258.5 95.6 L258.9 83.2 L259.2 79.3 L259.3 79.5 L259.8 86.9 L260.2 100.7 L260.6 113 L261 120.2 L261.4 123.2 L261.9 124.1 L262.3 124.3 L262.7 124.3 L263.1 124.3 L263.6 124.3 L264 124.3 L264.4 124.3 L264.9 124.3 L265.3 124.3 L265.7 124.3 L266.1 124.3 L266.6 124.3 L267 124.3 L267.4 124.3 L267.8 124.3 L268.2 124.3 L268.7 124.3 L269.1 124.3 L269.5 124.3 L269.9 124.2 L270.4 124.1 L270.8 123.7 L271.2 123.1 L271.6 122.2 L272.1 121.1 L272.5 120.2 L272.9 120 L273 120 L273.4 120.3 L273.8 121.2 L274.2 122.4 L274.6 123.3 L275.1 124.1 L275.5 124.5 L275.9 124.8 L276.3 124.9 L276.8 124.9 L277.2 124.9 L277.6 124.9 L278 124.9 L278.4 124.9 L278.9 124.9 L279.3 124.9 L279.7 124.9 L280.1 124.9 L280.6 124.9 L281 124.9 L281.4 124.9 L281.9 124.9 L282.3 125 L282.7 125 L283.1 125 L283.6 125 L284 125 L284.4 125 L284.8 125 L285.2 125 L285.7 125 L286.1 125 L286.5 125 L286.9 125 L287.4 125 L287.8 125 L288.2 125 L288.6 125 L289.1 125 L289.5 125 L289.9 125 L290.4 125 L290.8 125 L291.2 125 L291.6 125 L292.1 125 L292.5 125 L292.9 125 L293.3 125 L293.8 125 L294.2 125 L294.6 125 L295 125 L295.4 125 L295.9 125 L296.3 125 L296.7 125 L297.1 125 L297.6 125 L298 125 L298 125 Z" fill="#858585" stroke="none"/>
<path d="M247 113.2 L247.4 103.6 L247.5 103.2 L247.8 108.4 L248.3 119.5 L248.7 124.2 L249.1 124.9 L249.6 124.9 L250 124.9 L250.4 124.9 L250.8 124.9 L251.2 124.9 L251.7 125 L252.1 125 L252.5 124.9 L252.9 124.9 L253.4 124.9 L253.8 124.9 L254.2 124.9 L254.7 124.9 L255.1 124.9 L255.5 124.9 L255.9 124.9 L256.4 124.9 L256.8 124.5 L257.2 122.9 L257.6 118.5 L258.1 109.2 L258.5 95.6 L258.9 83.2 L259.2 79.3 L259.3 79.5 L259.8 86.9 L260.2 100.7 L260.6 113 L261 120.2 L261.4 123.2 L261.9 124.1 L262.3 124.3 L262.7 124.3 L263.1 124.3 L263.6 124.3 L264 124.3 L264.4 124.3 L264.9 124.3 L265.3 124.3 L265.7 124.3 L266.1 124.3 L266.6 124.3 L267 124.3 L267.4 124.3 L267.8 124.3 L268.2 124.3 L268.7 124.3 L269.1 124.3 L269.5 124.3 L269.9 124.2 L270.4 124.1 L270.8 123.7 L271.2 123.1 L271.6 122.2 L272.1 121.1 L272.5 120.2 L272.9 120 L273 120 L273.4 120.3 L273.8 121.2 L274.2 122.4 L274.6 123.3 L275.1 124.1 L275.5 124.5 L275.9 124.8 L276.3 124.9 L276.8 124.9 L277.2 124.9 L277.6 124.9 L278 124.9 L278.4 124.9 L278.9 124.9 L279.3 124.9 L279.7 124.9 L280.1 124.9 L280.6 124.9 L281 124.9 L281.4 124.9 L281.9 124.9 L282.3 125 L282.7 125 L283.1 125 L283.6 125 L284 125 L284.4 125 L284.8 125 L285.2 125 L285.7 125 L286.1 125 L286.5 125 L286.9 125 L287.4 125 L287.8 125 L288.2 125 L288.6 125 L289.1 125 L289.5 125 L289.9 125 L290.4 125 L290.8 125 L291.2 125 L291.6 125 L292.1 125 L292.5 125 L292.9 125 L293.3 125 L293.8 125 L294.2 125 L294.6 125 L295 125 L295.4 125 L295.9 125 L296.3 125 L296.7 125 L297.1 125 L297.6 125 L298 125" fill="none" stroke="#4d4d4d" stroke-width="0.55" stroke-linejoin="round"/>
<path d="M246.4 125 H298" stroke="#555" stroke-width="0.5"/>
<path d="M246.4 125h-1.3M246.4 115.5h-1.3M246.4 106.1h-1.3M246.4 96.7h-1.3M246.4 87.2h-1.3M246.4 77.8h-1.3M247 125.3v1.3M259.4 125.3v1.3M271.8 125.3v1.3M284.2 125.3v1.3M296.6 125.3v1.3" stroke="#777" stroke-width="0.4" fill="none"/>
<text x="247" y="129.9" font-size="2.4" text-anchor="middle" font-weight="normal" fill="#666" >0</text>
<text x="259.4" y="129.9" font-size="2.4" text-anchor="middle" font-weight="normal" fill="#666" >50K</text>
<text x="271.8" y="129.9" font-size="2.4" text-anchor="middle" font-weight="normal" fill="#666" >100K</text>
<text x="284.2" y="129.9" font-size="2.4" text-anchor="middle" font-weight="normal" fill="#666" >150K</text>
<text x="296.6" y="129.9" font-size="2.4" text-anchor="middle" font-weight="normal" fill="#666" >200K</text>
<text x="244.6" y="125.8" font-size="2.3" text-anchor="end" font-weight="normal" fill="#666" >0</text>
<text x="244.6" y="116.3" font-size="2.3" text-anchor="end" font-weight="normal" fill="#666" >200</text>
<text x="244.6" y="106.9" font-size="2.3" text-anchor="end" font-weight="normal" fill="#666" >400</text>
<text x="244.6" y="97.5" font-size="2.3" text-anchor="end" font-weight="normal" fill="#666" >600</text>
<text x="244.6" y="88" font-size="2.3" text-anchor="end" font-weight="normal" fill="#666" >800</text>
<text x="244.6" y="78.6" font-size="2.3" text-anchor="end" font-weight="normal" fill="#666" >1.0K</text>
<text x="240.8" y="99.3" font-size="2.0" text-anchor="middle" font-weight="normal" fill="#888" transform="rotate(-90 240.8 99.3)" >Count</text>
<rect x="58.5" y="135.2" width="52.5" height="52.4" fill="#fff" stroke="#c2c2c2" stroke-width="0.5"/>
<path d="M59.1 187.2 L59.1 187.2 L59.5 187.2 L60 187.2 L60.4 187.2 L60.8 187.2 L61.3 187.2 L61.7 187.2 L62.1 187.2 L62.6 187.2 L63 187.2 L63.4 187.2 L63.9 187.2 L64.3 187.2 L64.7 187.2 L65.2 187.2 L65.6 187.2 L66 187.2 L66.5 187.1 L66.9 187 L67.3 186.7 L67.8 186.1 L68.2 184.4 L68.6 176.8 L69 156 L69.5 139.6 L69.9 150.1 L70.3 167.7 L70.8 173.7 L71.2 174.9 L71.6 176.1 L72.1 177.7 L72.5 179.5 L72.9 181 L73.4 182.2 L73.8 183.1 L74.2 183.6 L74.7 183.9 L75.1 184.1 L75.5 184.1 L76 184.2 L76.4 184.2 L76.8 184.2 L77.3 184.1 L77.7 184 L78.1 183.6 L78.6 182.9 L79 181.7 L79.4 180.2 L79.9 178.8 L80.3 178.1 L80.4 178.1 L80.7 178.4 L81.2 179.6 L81.6 181.4 L82 183.6 L82.5 185.4 L82.9 186.8 L83.3 187.1 L83.8 187.2 L84.2 187.2 L84.6 187.2 L85 187.2 L85.5 187.2 L85.9 187.2 L86.3 187.2 L86.8 187.2 L87.2 187.2 L87.6 187.2 L88.1 187.2 L88.5 187.2 L88.9 187.2 L89.4 187.2 L89.8 187.2 L90.2 187.2 L90.7 187.2 L91.1 187.2 L91.5 187.2 L92 187.2 L92.4 187.2 L92.8 187.2 L93.3 187.2 L93.7 187.2 L94.1 187.2 L94.6 187.2 L95 187.2 L95.4 187.2 L95.9 187.2 L96.3 187.2 L96.7 187.2 L97.2 187.2 L97.6 187.2 L98 187.2 L98.5 187.2 L98.9 187.2 L99.3 187.2 L99.8 187.2 L100.2 187.2 L100.6 187.2 L101.1 187.2 L101.5 187.2 L101.9 187.2 L102.3 187.2 L102.8 187.2 L103.2 187.2 L103.6 187.2 L104.1 187.2 L104.5 187.2 L104.9 187.2 L105.4 187.2 L105.8 187.2 L106.2 187.2 L106.7 187.2 L107.1 187.2 L107.5 187.2 L108 187.2 L108.4 187.2 L108.8 187.2 L109.3 187.2 L109.7 187.2 L110.1 187.2 L110.6 187.2 L111 187.2 L111 187.2 Z" fill="#858585" stroke="none"/>
<path d="M59.1 187.2 L59.5 187.2 L60 187.2 L60.4 187.2 L60.8 187.2 L61.3 187.2 L61.7 187.2 L62.1 187.2 L62.6 187.2 L63 187.2 L63.4 187.2 L63.9 187.2 L64.3 187.2 L64.7 187.2 L65.2 187.2 L65.6 187.2 L66 187.2 L66.5 187.1 L66.9 187 L67.3 186.7 L67.8 186.1 L68.2 184.4 L68.6 176.8 L69 156 L69.5 139.6 L69.9 150.1 L70.3 167.7 L70.8 173.7 L71.2 174.9 L71.6 176.1 L72.1 177.7 L72.5 179.5 L72.9 181 L73.4 182.2 L73.8 183.1 L74.2 183.6 L74.7 183.9 L75.1 184.1 L75.5 184.1 L76 184.2 L76.4 184.2 L76.8 184.2 L77.3 184.1 L77.7 184 L78.1 183.6 L78.6 182.9 L79 181.7 L79.4 180.2 L79.9 178.8 L80.3 178.1 L80.4 178.1 L80.7 178.4 L81.2 179.6 L81.6 181.4 L82 183.6 L82.5 185.4 L82.9 186.8 L83.3 187.1 L83.8 187.2 L84.2 187.2 L84.6 187.2 L85 187.2 L85.5 187.2 L85.9 187.2 L86.3 187.2 L86.8 187.2 L87.2 187.2 L87.6 187.2 L88.1 187.2 L88.5 187.2 L88.9 187.2 L89.4 187.2 L89.8 187.2 L90.2 187.2 L90.7 187.2 L91.1 187.2 L91.5 187.2 L92 187.2 L92.4 187.2 L92.8 187.2 L93.3 187.2 L93.7 187.2 L94.1 187.2 L94.6 187.2 L95 187.2 L95.4 187.2 L95.9 187.2 L96.3 187.2 L96.7 187.2 L97.2 187.2 L97.6 187.2 L98 187.2 L98.5 187.2 L98.9 187.2 L99.3 187.2 L99.8 187.2 L100.2 187.2 L100.6 187.2 L101.1 187.2 L101.5 187.2 L101.9 187.2 L102.3 187.2 L102.8 187.2 L103.2 187.2 L103.6 187.2 L104.1 187.2 L104.5 187.2 L104.9 187.2 L105.4 187.2 L105.8 187.2 L106.2 187.2 L106.7 187.2 L107.1 187.2 L107.5 187.2 L108 187.2 L108.4 187.2 L108.8 187.2 L109.3 187.2 L109.7 187.2 L110.1 187.2 L110.6 187.2 L111 187.2" fill="none" stroke="#4d4d4d" stroke-width="0.55" stroke-linejoin="round"/>
<path d="M58.5 187.3 H111" stroke="#555" stroke-width="0.5"/>
<path d="M58.5 187.2h-1.3M58.5 177.7h-1.3M58.5 168.2h-1.3M58.5 158.7h-1.3M58.5 149.2h-1.3M58.5 139.6h-1.3M59.1 187.6v1.3M71.7 187.6v1.3M84.3 187.6v1.3M97 187.6v1.3M109.6 187.6v1.3" stroke="#777" stroke-width="0.4" fill="none"/>
<text x="59.1" y="192.2" font-size="2.4" text-anchor="middle" font-weight="normal" fill="#666" >0</text>
<text x="71.7" y="192.2" font-size="2.4" text-anchor="middle" font-weight="normal" fill="#666" >50K</text>
<text x="84.3" y="192.2" font-size="2.4" text-anchor="middle" font-weight="normal" fill="#666" >100K</text>
<text x="97" y="192.2" font-size="2.4" text-anchor="middle" font-weight="normal" fill="#666" >150K</text>
<text x="109.6" y="192.2" font-size="2.4" text-anchor="middle" font-weight="normal" fill="#666" >200K</text>
<text x="56.7" y="188.1" font-size="2.3" text-anchor="end" font-weight="normal" fill="#666" >0</text>
<text x="56.7" y="178.5" font-size="2.3" text-anchor="end" font-weight="normal" fill="#666" >200</text>
<text x="56.7" y="169" font-size="2.3" text-anchor="end" font-weight="normal" fill="#666" >400</text>
<text x="56.7" y="159.5" font-size="2.3" text-anchor="end" font-weight="normal" fill="#666" >600</text>
<text x="56.7" y="150" font-size="2.3" text-anchor="end" font-weight="normal" fill="#666" >800</text>
<text x="56.7" y="140.4" font-size="2.3" text-anchor="end" font-weight="normal" fill="#666" >1.0K</text>
<text x="52.9" y="161.4" font-size="2.0" text-anchor="middle" font-weight="normal" fill="#888" transform="rotate(-90 52.9 161.4)" >Count</text>
<rect x="120.5" y="135.2" width="52.5" height="52.4" fill="#fff" stroke="#c2c2c2" stroke-width="0.5"/>
<path d="M121.1 187.2 L121.1 179.8 L121.5 175 L121.5 175.1 L122 180.5 L122.4 186 L122.8 187.2 L123.3 187.2 L123.7 187.2 L124.1 187.2 L124.6 187.2 L125 187.1 L125.4 187.1 L125.9 187 L126.3 186.9 L126.7 186.7 L127.2 186.5 L127.6 186.3 L128 186.1 L128.5 185.9 L128.9 185.6 L129.3 185.4 L129.8 185.1 L129.9 184.9 L130.2 184.7 L130.6 184 L131 181.4 L131.5 170.7 L131.9 149.5 L132.3 139.6 L132.3 140 L132.8 153.7 L133.2 168.7 L133.6 173.6 L133.6 174.1 L134.1 175.5 L134.5 176.6 L134.9 178 L135.4 179.5 L135.8 180.9 L136.2 182 L136.7 182.8 L137.1 183.3 L137.5 183.6 L138 183.8 L138.4 183.9 L138.8 183.9 L139.3 183.9 L139.7 183.9 L140.1 183.8 L140.6 183.7 L141 183.3 L141.4 182.8 L141.9 182.2 L142.3 181.4 L142.7 180.8 L143.2 180.4 L143.4 180.3 L143.6 180.3 L144 180.7 L144.5 181.3 L144.9 182 L145.3 183.4 L145.8 184.9 L146.2 186.1 L146.6 187.1 L147.1 187.2 L147.5 187.2 L147.9 187.2 L148.3 187.2 L148.8 187.2 L149.2 187.2 L149.6 187.2 L150.1 187.2 L150.5 187.2 L150.9 187.2 L151.4 187.2 L151.8 187.2 L152.2 187.2 L152.7 187.2 L153.1 187.2 L153.5 187.2 L154 187.2 L154.4 187.2 L154.8 187.2 L155.3 187.2 L155.7 187.2 L156.1 187.2 L156.6 187.2 L157 187.2 L157.4 187.2 L157.9 187.2 L158.3 187.2 L158.7 187.2 L159.2 187.2 L159.6 187.2 L160 187.2 L160.5 187.2 L160.9 187.2 L161.3 187.2 L161.8 187.2 L162.2 187.2 L162.6 187.2 L163.1 187.2 L163.5 187.2 L163.9 187.2 L164.3 187.2 L164.8 187.2 L165.2 187.2 L165.6 187.2 L166.1 187.2 L166.5 187.2 L166.9 187.2 L167.4 187.2 L167.8 187.2 L168.2 187.2 L168.7 187.2 L169.1 187.2 L169.5 187.2 L170 187.2 L170.4 187.2 L170.8 187.2 L171.3 187.2 L171.7 187.2 L172.1 187.2 L172.6 187.2 L173 187.2 L173 187.2 Z" fill="#858585" stroke="none"/>
<path d="M121.1 179.8 L121.5 175 L121.5 175.1 L122 180.5 L122.4 186 L122.8 187.2 L123.3 187.2 L123.7 187.2 L124.1 187.2 L124.6 187.2 L125 187.1 L125.4 187.1 L125.9 187 L126.3 186.9 L126.7 186.7 L127.2 186.5 L127.6 186.3 L128 186.1 L128.5 185.9 L128.9 185.6 L129.3 185.4 L129.8 185.1 L129.9 184.9 L130.2 184.7 L130.6 184 L131 181.4 L131.5 170.7 L131.9 149.5 L132.3 139.6 L132.3 140 L132.8 153.7 L133.2 168.7 L133.6 173.6 L133.6 174.1 L134.1 175.5 L134.5 176.6 L134.9 178 L135.4 179.5 L135.8 180.9 L136.2 182 L136.7 182.8 L137.1 183.3 L137.5 183.6 L138 183.8 L138.4 183.9 L138.8 183.9 L139.3 183.9 L139.7 183.9 L140.1 183.8 L140.6 183.7 L141 183.3 L141.4 182.8 L141.9 182.2 L142.3 181.4 L142.7 180.8 L143.2 180.4 L143.4 180.3 L143.6 180.3 L144 180.7 L144.5 181.3 L144.9 182 L145.3 183.4 L145.8 184.9 L146.2 186.1 L146.6 187.1 L147.1 187.2 L147.5 187.2 L147.9 187.2 L148.3 187.2 L148.8 187.2 L149.2 187.2 L149.6 187.2 L150.1 187.2 L150.5 187.2 L150.9 187.2 L151.4 187.2 L151.8 187.2 L152.2 187.2 L152.7 187.2 L153.1 187.2 L153.5 187.2 L154 187.2 L154.4 187.2 L154.8 187.2 L155.3 187.2 L155.7 187.2 L156.1 187.2 L156.6 187.2 L157 187.2 L157.4 187.2 L157.9 187.2 L158.3 187.2 L158.7 187.2 L159.2 187.2 L159.6 187.2 L160 187.2 L160.5 187.2 L160.9 187.2 L161.3 187.2 L161.8 187.2 L162.2 187.2 L162.6 187.2 L163.1 187.2 L163.5 187.2 L163.9 187.2 L164.3 187.2 L164.8 187.2 L165.2 187.2 L165.6 187.2 L166.1 187.2 L166.5 187.2 L166.9 187.2 L167.4 187.2 L167.8 187.2 L168.2 187.2 L168.7 187.2 L169.1 187.2 L169.5 187.2 L170 187.2 L170.4 187.2 L170.8 187.2 L171.3 187.2 L171.7 187.2 L172.1 187.2 L172.6 187.2 L173 187.2" fill="none" stroke="#4d4d4d" stroke-width="0.55" stroke-linejoin="round"/>
<path d="M120.5 187.3 H173" stroke="#555" stroke-width="0.5"/>
<path d="M120.5 187.2h-1.3M120.5 175.3h-1.3M120.5 163.4h-1.3M120.5 151.5h-1.3M120.5 139.6h-1.3M121.1 187.6v1.3M133.7 187.6v1.3M146.3 187.6v1.3M159 187.6v1.3M171.6 187.6v1.3" stroke="#777" stroke-width="0.4" fill="none"/>
<text x="121.1" y="192.2" font-size="2.4" text-anchor="middle" font-weight="normal" fill="#666" >0</text>
<text x="133.7" y="192.2" font-size="2.4" text-anchor="middle" font-weight="normal" fill="#666" >50K</text>
<text x="146.3" y="192.2" font-size="2.4" text-anchor="middle" font-weight="normal" fill="#666" >100K</text>
<text x="159" y="192.2" font-size="2.4" text-anchor="middle" font-weight="normal" fill="#666" >150K</text>
<text x="171.6" y="192.2" font-size="2.4" text-anchor="middle" font-weight="normal" fill="#666" >200K</text>
<text x="118.7" y="188.1" font-size="2.3" text-anchor="end" font-weight="normal" fill="#666" >0</text>
<text x="118.7" y="176.1" font-size="2.3" text-anchor="end" font-weight="normal" fill="#666" >200</text>
<text x="118.7" y="164.2" font-size="2.3" text-anchor="end" font-weight="normal" fill="#666" >400</text>
<text x="118.7" y="152.3" font-size="2.3" text-anchor="end" font-weight="normal" fill="#666" >600</text>
<text x="118.7" y="140.4" font-size="2.3" text-anchor="end" font-weight="normal" fill="#666" >800</text>
<text x="114.9" y="161.4" font-size="2.0" text-anchor="middle" font-weight="normal" fill="#888" transform="rotate(-90 114.9 161.4)" >Count</text>
<rect x="182.8" y="135.2" width="52.4" height="52.4" fill="#fff" stroke="#c2c2c2" stroke-width="0.5"/>
<path d="M183.4 187.2 L183.4 183.5 L183.8 180.1 L183.8 180.1 L184.3 183.9 L184.7 186.9 L185.1 187.2 L185.6 187.2 L186 187.2 L186.4 187.2 L186.9 187.2 L187.3 187.2 L187.7 187.2 L188.1 187.2 L188.6 187.2 L189 187.2 L189.4 187.2 L189.9 187.2 L190.3 187.2 L190.7 187.2 L191.2 187.2 L191.6 187.2 L192 187.2 L192.5 187.2 L192.9 187.2 L193.3 187.1 L193.8 186.1 L194.2 180.7 L194.6 165.3 L195.1 145.9 L195.3 141.2 L195.5 142.8 L195.9 159.6 L196.3 176.9 L196.8 184.1 L197.2 185.5 L197.6 185.7 L198.1 185.7 L198.5 185.7 L198.9 185.7 L199.4 185.7 L199.8 185.7 L200.2 185.7 L200.7 185.7 L201.1 185.7 L201.5 185.7 L202 185.7 L202.4 185.7 L202.8 185.7 L203.3 185.7 L203.7 185.6 L204.1 185.5 L204.6 185.4 L205 185.1 L205.4 184.9 L205.8 184.6 L206.3 184.4 L206.7 184.3 L207.1 184.4 L207.6 184.9 L208 185.6 L208.4 186.3 L208.9 186.9 L209.3 187.1 L209.7 187.2 L210.2 187.2 L210.6 187.2 L211 187.2 L211.5 187.2 L211.9 187.2 L212.3 187.2 L212.8 187.2 L213.2 187.2 L213.6 187.2 L214 187.2 L214.5 187.2 L214.9 187.2 L215.3 187.2 L215.8 187.2 L216.2 187.2 L216.6 187.2 L217.1 187.2 L217.5 187.2 L217.9 187.2 L218.4 187.2 L218.8 187.2 L219.2 187.2 L219.7 187.2 L220.1 187.2 L220.5 187.2 L221 187.2 L221.4 187.2 L221.8 187.2 L222.2 187.2 L222.7 187.2 L223.1 187.2 L223.5 187.2 L224 187.2 L224.4 187.2 L224.8 187.2 L225.3 187.2 L225.7 187.2 L226.1 187.2 L226.6 187.2 L227 187.2 L227.4 187.2 L227.9 187.2 L228.3 187.2 L228.7 187.2 L229.2 187.2 L229.6 187.2 L230 187.2 L230.5 187.2 L230.9 187.2 L231.3 187.2 L231.7 187.2 L232.2 187.2 L232.6 187.2 L233 187.2 L233.5 187.2 L233.9 187.2 L234.3 187.2 L234.8 187.2 L235.2 187.2 L235.2 187.2 Z" fill="#858585" stroke="none"/>
<path d="M183.4 183.5 L183.8 180.1 L183.8 180.1 L184.3 183.9 L184.7 186.9 L185.1 187.2 L185.6 187.2 L186 187.2 L186.4 187.2 L186.9 187.2 L187.3 187.2 L187.7 187.2 L188.1 187.2 L188.6 187.2 L189 187.2 L189.4 187.2 L189.9 187.2 L190.3 187.2 L190.7 187.2 L191.2 187.2 L191.6 187.2 L192 187.2 L192.5 187.2 L192.9 187.2 L193.3 187.1 L193.8 186.1 L194.2 180.7 L194.6 165.3 L195.1 145.9 L195.3 141.2 L195.5 142.8 L195.9 159.6 L196.3 176.9 L196.8 184.1 L197.2 185.5 L197.6 185.7 L198.1 185.7 L198.5 185.7 L198.9 185.7 L199.4 185.7 L199.8 185.7 L200.2 185.7 L200.7 185.7 L201.1 185.7 L201.5 185.7 L202 185.7 L202.4 185.7 L202.8 185.7 L203.3 185.7 L203.7 185.6 L204.1 185.5 L204.6 185.4 L205 185.1 L205.4 184.9 L205.8 184.6 L206.3 184.4 L206.7 184.3 L207.1 184.4 L207.6 184.9 L208 185.6 L208.4 186.3 L208.9 186.9 L209.3 187.1 L209.7 187.2 L210.2 187.2 L210.6 187.2 L211 187.2 L211.5 187.2 L211.9 187.2 L212.3 187.2 L212.8 187.2 L213.2 187.2 L213.6 187.2 L214 187.2 L214.5 187.2 L214.9 187.2 L215.3 187.2 L215.8 187.2 L216.2 187.2 L216.6 187.2 L217.1 187.2 L217.5 187.2 L217.9 187.2 L218.4 187.2 L218.8 187.2 L219.2 187.2 L219.7 187.2 L220.1 187.2 L220.5 187.2 L221 187.2 L221.4 187.2 L221.8 187.2 L222.2 187.2 L222.7 187.2 L223.1 187.2 L223.5 187.2 L224 187.2 L224.4 187.2 L224.8 187.2 L225.3 187.2 L225.7 187.2 L226.1 187.2 L226.6 187.2 L227 187.2 L227.4 187.2 L227.9 187.2 L228.3 187.2 L228.7 187.2 L229.2 187.2 L229.6 187.2 L230 187.2 L230.5 187.2 L230.9 187.2 L231.3 187.2 L231.7 187.2 L232.2 187.2 L232.6 187.2 L233 187.2 L233.5 187.2 L233.9 187.2 L234.3 187.2 L234.8 187.2 L235.2 187.2" fill="none" stroke="#4d4d4d" stroke-width="0.55" stroke-linejoin="round"/>
<path d="M182.8 187.3 H235.2" stroke="#555" stroke-width="0.5"/>
<path d="M182.8 187.2h-1.3M182.8 177.7h-1.3M182.8 168.2h-1.3M182.8 158.7h-1.3M182.8 149.2h-1.3M182.8 139.6h-1.3M183.4 187.6v1.3M196 187.6v1.3M208.6 187.6v1.3M221.2 187.6v1.3M233.8 187.6v1.3" stroke="#777" stroke-width="0.4" fill="none"/>
<text x="183.4" y="192.2" font-size="2.4" text-anchor="middle" font-weight="normal" fill="#666" >0</text>
<text x="196" y="192.2" font-size="2.4" text-anchor="middle" font-weight="normal" fill="#666" >50K</text>
<text x="208.6" y="192.2" font-size="2.4" text-anchor="middle" font-weight="normal" fill="#666" >100K</text>
<text x="221.2" y="192.2" font-size="2.4" text-anchor="middle" font-weight="normal" fill="#666" >150K</text>
<text x="233.8" y="192.2" font-size="2.4" text-anchor="middle" font-weight="normal" fill="#666" >200K</text>
<text x="181" y="188.1" font-size="2.3" text-anchor="end" font-weight="normal" fill="#666" >0</text>
<text x="181" y="178.5" font-size="2.3" text-anchor="end" font-weight="normal" fill="#666" >200</text>
<text x="181" y="169" font-size="2.3" text-anchor="end" font-weight="normal" fill="#666" >400</text>
<text x="181" y="159.5" font-size="2.3" text-anchor="end" font-weight="normal" fill="#666" >600</text>
<text x="181" y="150" font-size="2.3" text-anchor="end" font-weight="normal" fill="#666" >800</text>
<text x="181" y="140.4" font-size="2.3" text-anchor="end" font-weight="normal" fill="#666" >1.0K</text>
<text x="177.2" y="161.4" font-size="2.0" text-anchor="middle" font-weight="normal" fill="#888" transform="rotate(-90 177.2 161.4)" >Count</text>
<rect x="246.4" y="135.2" width="51.6" height="52.4" fill="#fff" stroke="#c2c2c2" stroke-width="0.5"/>
<path d="M247 187.2 L247 176.8 L247.4 168.1 L247.5 167.8 L247.8 172.5 L248.3 182.4 L248.7 186.6 L249.1 187.2 L249.6 187.2 L250 187.2 L250.4 187.2 L250.8 187.2 L251.2 187.2 L251.7 187.2 L252.1 187.2 L252.5 187.2 L252.9 187.2 L253.4 187.2 L253.8 187.2 L254.2 187.2 L254.7 187.2 L255.1 187.2 L255.5 187.1 L255.9 186.8 L256.4 185.7 L256.8 183 L257.2 177.6 L257.6 168.9 L258.1 158 L258.5 147.9 L258.9 142.9 L259 142.7 L259.3 144.6 L259.8 152.1 L260.2 163.2 L260.6 173 L261 179.7 L261.4 183.3 L261.9 184.9 L262.3 185.5 L262.7 185.7 L263.1 185.7 L263.6 185.7 L264 185.7 L264.4 185.7 L264.9 185.7 L265.3 185.7 L265.7 185.7 L266.1 185.7 L266.6 185.7 L267 185.6 L267.4 185.6 L267.8 185.5 L268.2 185.4 L268.7 185.3 L269.1 185.2 L269.5 185 L269.9 184.8 L270.4 184.6 L270.8 184.4 L271.2 184.3 L271.6 184.2 L272 184.2 L272.1 184.2 L272.5 184.2 L272.9 184.3 L273.4 184.5 L273.8 184.9 L274.2 185.5 L274.6 186.2 L275.1 186.8 L275.5 186.9 L275.9 187 L276.3 187.1 L276.8 187.1 L277.2 187.2 L277.6 187.2 L278 187.2 L278.4 187.2 L278.9 187.2 L279.3 187.2 L279.7 187.2 L280.1 187.2 L280.6 187.2 L281 187.2 L281.4 187.2 L281.9 187.2 L282.3 187.2 L282.7 187.2 L283.1 187.2 L283.6 187.2 L284 187.2 L284.4 187.2 L284.8 187.2 L285.2 187.2 L285.7 187.2 L286.1 187.2 L286.5 187.2 L286.9 187.2 L287.4 187.2 L287.8 187.2 L288.2 187.2 L288.6 187.2 L289.1 187.2 L289.5 187.2 L289.9 187.2 L290.4 187.2 L290.8 187.2 L291.2 187.2 L291.6 187.2 L292.1 187.2 L292.5 187.2 L292.9 187.2 L293.3 187.2 L293.8 187.2 L294.2 187.2 L294.6 187.2 L295 187.2 L295.4 187.2 L295.9 187.2 L296.3 187.2 L296.7 187.2 L297.1 187.2 L297.6 187.2 L298 187.2 L298 187.2 Z" fill="#858585" stroke="none"/>
<path d="M247 176.8 L247.4 168.1 L247.5 167.8 L247.8 172.5 L248.3 182.4 L248.7 186.6 L249.1 187.2 L249.6 187.2 L250 187.2 L250.4 187.2 L250.8 187.2 L251.2 187.2 L251.7 187.2 L252.1 187.2 L252.5 187.2 L252.9 187.2 L253.4 187.2 L253.8 187.2 L254.2 187.2 L254.7 187.2 L255.1 187.2 L255.5 187.1 L255.9 186.8 L256.4 185.7 L256.8 183 L257.2 177.6 L257.6 168.9 L258.1 158 L258.5 147.9 L258.9 142.9 L259 142.7 L259.3 144.6 L259.8 152.1 L260.2 163.2 L260.6 173 L261 179.7 L261.4 183.3 L261.9 184.9 L262.3 185.5 L262.7 185.7 L263.1 185.7 L263.6 185.7 L264 185.7 L264.4 185.7 L264.9 185.7 L265.3 185.7 L265.7 185.7 L266.1 185.7 L266.6 185.7 L267 185.6 L267.4 185.6 L267.8 185.5 L268.2 185.4 L268.7 185.3 L269.1 185.2 L269.5 185 L269.9 184.8 L270.4 184.6 L270.8 184.4 L271.2 184.3 L271.6 184.2 L272 184.2 L272.1 184.2 L272.5 184.2 L272.9 184.3 L273.4 184.5 L273.8 184.9 L274.2 185.5 L274.6 186.2 L275.1 186.8 L275.5 186.9 L275.9 187 L276.3 187.1 L276.8 187.1 L277.2 187.2 L277.6 187.2 L278 187.2 L278.4 187.2 L278.9 187.2 L279.3 187.2 L279.7 187.2 L280.1 187.2 L280.6 187.2 L281 187.2 L281.4 187.2 L281.9 187.2 L282.3 187.2 L282.7 187.2 L283.1 187.2 L283.6 187.2 L284 187.2 L284.4 187.2 L284.8 187.2 L285.2 187.2 L285.7 187.2 L286.1 187.2 L286.5 187.2 L286.9 187.2 L287.4 187.2 L287.8 187.2 L288.2 187.2 L288.6 187.2 L289.1 187.2 L289.5 187.2 L289.9 187.2 L290.4 187.2 L290.8 187.2 L291.2 187.2 L291.6 187.2 L292.1 187.2 L292.5 187.2 L292.9 187.2 L293.3 187.2 L293.8 187.2 L294.2 187.2 L294.6 187.2 L295 187.2 L295.4 187.2 L295.9 187.2 L296.3 187.2 L296.7 187.2 L297.1 187.2 L297.6 187.2 L298 187.2" fill="none" stroke="#4d4d4d" stroke-width="0.55" stroke-linejoin="round"/>
<path d="M246.4 187.3 H298" stroke="#555" stroke-width="0.5"/>
<path d="M246.4 187.2h-1.3M246.4 175.3h-1.3M246.4 163.4h-1.3M246.4 151.5h-1.3M246.4 139.6h-1.3M247 187.6v1.3M259.4 187.6v1.3M271.8 187.6v1.3M284.2 187.6v1.3M296.6 187.6v1.3" stroke="#777" stroke-width="0.4" fill="none"/>
<text x="247" y="192.2" font-size="2.4" text-anchor="middle" font-weight="normal" fill="#666" >0</text>
<text x="259.4" y="192.2" font-size="2.4" text-anchor="middle" font-weight="normal" fill="#666" >50K</text>
<text x="271.8" y="192.2" font-size="2.4" text-anchor="middle" font-weight="normal" fill="#666" >100K</text>
<text x="284.2" y="192.2" font-size="2.4" text-anchor="middle" font-weight="normal" fill="#666" >150K</text>
<text x="296.6" y="192.2" font-size="2.4" text-anchor="middle" font-weight="normal" fill="#666" >200K</text>
<text x="244.6" y="188.1" font-size="2.3" text-anchor="end" font-weight="normal" fill="#666" >0</text>
<text x="244.6" y="176.1" font-size="2.3" text-anchor="end" font-weight="normal" fill="#666" >200</text>
<text x="244.6" y="164.2" font-size="2.3" text-anchor="end" font-weight="normal" fill="#666" >400</text>
<text x="244.6" y="152.3" font-size="2.3" text-anchor="end" font-weight="normal" fill="#666" >600</text>
<text x="244.6" y="140.4" font-size="2.3" text-anchor="end" font-weight="normal" fill="#666" >800</text>
<text x="240.8" y="161.4" font-size="2.0" text-anchor="middle" font-weight="normal" fill="#888" transform="rotate(-90 240.8 161.4)" >Count</text>
<rect x="58.5" y="197.8" width="52.5" height="52.2" fill="#fff" stroke="#c2c2c2" stroke-width="0.5"/>
<path d="M59.1 249.7 L59.1 249.7 L59.5 249.7 L60 249.7 L60.4 249.7 L60.8 249.7 L61.3 249.7 L61.7 249.7 L62.1 249.7 L62.6 249.7 L63 249.7 L63.4 249.7 L63.9 249.7 L64.3 249.7 L64.7 249.7 L65.2 249.7 L65.6 249.6 L66 249.6 L66.5 249.6 L66.9 249.6 L67.3 249.6 L67.8 249.6 L68.2 249.6 L68.6 249.6 L69 249.6 L69.5 249.6 L69.9 249.6 L70.3 249.6 L70.8 249.6 L71.2 249.5 L71.6 248.9 L72.1 244.3 L72.5 225.1 L72.9 202.6 L73 202.2 L73.4 209 L73.8 226.4 L74.2 230.3 L74.2 230.7 L74.7 232.3 L75.1 234.6 L75.5 237.1 L76 239.2 L76.4 240.5 L76.8 241.3 L77.3 241.7 L77.7 242 L78.1 242.2 L78.6 242.4 L79 242.6 L79.4 242.8 L79.9 243 L80.3 243.3 L80.7 243.5 L81.2 243.7 L81.6 243.9 L82 244.1 L82.5 244.2 L82.9 244.4 L83.3 244.4 L83.8 244.3 L84.2 244.2 L84.6 244.2 L85 244.3 L85.5 244.6 L85.9 245.1 L86.3 246.1 L86.8 247.3 L87.2 248.5 L87.6 249.6 L88.1 249.6 L88.5 249.6 L88.9 249.6 L89.4 249.6 L89.8 249.6 L90.2 249.6 L90.7 249.6 L91.1 249.6 L91.5 249.6 L92 249.6 L92.4 249.6 L92.8 249.6 L93.3 249.6 L93.7 249.7 L94.1 249.7 L94.6 249.7 L95 249.7 L95.4 249.7 L95.9 249.7 L96.3 249.7 L96.7 249.7 L97.2 249.7 L97.6 249.7 L98 249.7 L98.5 249.7 L98.9 249.7 L99.3 249.7 L99.8 249.7 L100.2 249.7 L100.6 249.7 L101.1 249.7 L101.5 249.7 L101.9 249.7 L102.3 249.7 L102.8 249.7 L103.2 249.7 L103.6 249.7 L104.1 249.7 L104.5 249.7 L104.9 249.7 L105.4 249.7 L105.8 249.7 L106.2 249.7 L106.7 249.7 L107.1 249.7 L107.5 249.7 L108 249.7 L108.4 249.7 L108.8 249.7 L109.3 249.7 L109.7 249.7 L110.1 249.7 L110.6 249.7 L111 249.7 L111 249.7 Z" fill="#858585" stroke="none"/>
<path d="M59.1 249.7 L59.5 249.7 L60 249.7 L60.4 249.7 L60.8 249.7 L61.3 249.7 L61.7 249.7 L62.1 249.7 L62.6 249.7 L63 249.7 L63.4 249.7 L63.9 249.7 L64.3 249.7 L64.7 249.7 L65.2 249.7 L65.6 249.6 L66 249.6 L66.5 249.6 L66.9 249.6 L67.3 249.6 L67.8 249.6 L68.2 249.6 L68.6 249.6 L69 249.6 L69.5 249.6 L69.9 249.6 L70.3 249.6 L70.8 249.6 L71.2 249.5 L71.6 248.9 L72.1 244.3 L72.5 225.1 L72.9 202.6 L73 202.2 L73.4 209 L73.8 226.4 L74.2 230.3 L74.2 230.7 L74.7 232.3 L75.1 234.6 L75.5 237.1 L76 239.2 L76.4 240.5 L76.8 241.3 L77.3 241.7 L77.7 242 L78.1 242.2 L78.6 242.4 L79 242.6 L79.4 242.8 L79.9 243 L80.3 243.3 L80.7 243.5 L81.2 243.7 L81.6 243.9 L82 244.1 L82.5 244.2 L82.9 244.4 L83.3 244.4 L83.8 244.3 L84.2 244.2 L84.6 244.2 L85 244.3 L85.5 244.6 L85.9 245.1 L86.3 246.1 L86.8 247.3 L87.2 248.5 L87.6 249.6 L88.1 249.6 L88.5 249.6 L88.9 249.6 L89.4 249.6 L89.8 249.6 L90.2 249.6 L90.7 249.6 L91.1 249.6 L91.5 249.6 L92 249.6 L92.4 249.6 L92.8 249.6 L93.3 249.6 L93.7 249.7 L94.1 249.7 L94.6 249.7 L95 249.7 L95.4 249.7 L95.9 249.7 L96.3 249.7 L96.7 249.7 L97.2 249.7 L97.6 249.7 L98 249.7 L98.5 249.7 L98.9 249.7 L99.3 249.7 L99.8 249.7 L100.2 249.7 L100.6 249.7 L101.1 249.7 L101.5 249.7 L101.9 249.7 L102.3 249.7 L102.8 249.7 L103.2 249.7 L103.6 249.7 L104.1 249.7 L104.5 249.7 L104.9 249.7 L105.4 249.7 L105.8 249.7 L106.2 249.7 L106.7 249.7 L107.1 249.7 L107.5 249.7 L108 249.7 L108.4 249.7 L108.8 249.7 L109.3 249.7 L109.7 249.7 L110.1 249.7 L110.6 249.7 L111 249.7" fill="none" stroke="#4d4d4d" stroke-width="0.55" stroke-linejoin="round"/>
<path d="M58.5 249.8 H111" stroke="#555" stroke-width="0.5"/>
<path d="M58.5 249.7h-1.3M58.5 237.8h-1.3M58.5 225.9h-1.3M58.5 214.1h-1.3M58.5 202.2h-1.3M59.1 250v1.3M71.7 250v1.3M84.3 250v1.3M97 250v1.3M109.6 250v1.3" stroke="#777" stroke-width="0.4" fill="none"/>
<text x="59.1" y="254.6" font-size="2.4" text-anchor="middle" font-weight="normal" fill="#666" >0</text>
<text x="71.7" y="254.6" font-size="2.4" text-anchor="middle" font-weight="normal" fill="#666" >50K</text>
<text x="84.3" y="254.6" font-size="2.4" text-anchor="middle" font-weight="normal" fill="#666" >100K</text>
<text x="97" y="254.6" font-size="2.4" text-anchor="middle" font-weight="normal" fill="#666" >150K</text>
<text x="109.6" y="254.6" font-size="2.4" text-anchor="middle" font-weight="normal" fill="#666" >200K</text>
<text x="56.7" y="250.5" font-size="2.3" text-anchor="end" font-weight="normal" fill="#666" >0</text>
<text x="56.7" y="238.6" font-size="2.3" text-anchor="end" font-weight="normal" fill="#666" >200</text>
<text x="56.7" y="226.7" font-size="2.3" text-anchor="end" font-weight="normal" fill="#666" >400</text>
<text x="56.7" y="214.9" font-size="2.3" text-anchor="end" font-weight="normal" fill="#666" >600</text>
<text x="56.7" y="203" font-size="2.3" text-anchor="end" font-weight="normal" fill="#666" >800</text>
<text x="52.9" y="223.9" font-size="2.0" text-anchor="middle" font-weight="normal" fill="#888" transform="rotate(-90 52.9 223.9)" >Count</text>
<rect x="120.5" y="197.8" width="52.5" height="52.2" fill="#fff" stroke="#c2c2c2" stroke-width="0.5"/>
<path d="M121.1 249.7 L121.1 249.7 L121.5 249.7 L122 249.7 L122.4 249.7 L122.8 249.7 L123.3 249.7 L123.7 249.7 L124.1 249.7 L124.6 249.7 L125 249.7 L125.4 249.7 L125.9 249.7 L126.3 249.7 L126.7 249.6 L127.2 249.6 L127.6 249.6 L128 249.6 L128.5 249.6 L128.9 249.6 L129.3 249.6 L129.8 249.6 L130.2 249.6 L130.6 249.6 L131 249.6 L131.5 249.6 L131.9 249.6 L132.3 249.4 L132.8 247.2 L133.2 232.4 L133.6 205.4 L133.8 202.2 L134.1 208.6 L134.5 227.8 L134.9 233.3 L135.1 233.6 L135.4 234.1 L135.8 235.7 L136.2 237.9 L136.7 240 L137.1 241.5 L137.5 242.5 L138 243 L138.4 243.3 L138.8 243.5 L139.3 243.7 L139.7 243.9 L140.1 244.1 L140.6 244.3 L141 244.4 L141.4 244.6 L141.9 244.8 L142.3 245 L142.7 245.1 L143.2 245.3 L143.6 245.4 L144 245.5 L144.5 245.4 L144.9 245.1 L145.3 244.8 L145.8 244.6 L146 244.6 L146.2 244.7 L146.6 245.2 L147.1 245.9 L147.5 247.1 L147.9 248.2 L148.3 249.1 L148.8 249.6 L149.2 249.6 L149.6 249.6 L150.1 249.6 L150.5 249.6 L150.9 249.6 L151.4 249.6 L151.8 249.6 L152.2 249.6 L152.7 249.6 L153.1 249.6 L153.5 249.6 L154 249.7 L154.4 249.7 L154.8 249.7 L155.3 249.7 L155.7 249.7 L156.1 249.7 L156.6 249.7 L157 249.7 L157.4 249.7 L157.9 249.7 L158.3 249.7 L158.7 249.7 L159.2 249.7 L159.6 249.7 L160 249.7 L160.5 249.7 L160.9 249.7 L161.3 249.7 L161.8 249.7 L162.2 249.7 L162.6 249.7 L163.1 249.7 L163.5 249.7 L163.9 249.7 L164.3 249.7 L164.8 249.7 L165.2 249.7 L165.6 249.7 L166.1 249.7 L166.5 249.7 L166.9 249.7 L167.4 249.7 L167.8 249.7 L168.2 249.7 L168.7 249.7 L169.1 249.7 L169.5 249.7 L170 249.7 L170.4 249.7 L170.8 249.7 L171.3 249.7 L171.7 249.7 L172.1 249.7 L172.6 249.7 L173 249.7 L173 249.7 Z" fill="#858585" stroke="none"/>
<path d="M121.1 249.7 L121.5 249.7 L122 249.7 L122.4 249.7 L122.8 249.7 L123.3 249.7 L123.7 249.7 L124.1 249.7 L124.6 249.7 L125 249.7 L125.4 249.7 L125.9 249.7 L126.3 249.7 L126.7 249.6 L127.2 249.6 L127.6 249.6 L128 249.6 L128.5 249.6 L128.9 249.6 L129.3 249.6 L129.8 249.6 L130.2 249.6 L130.6 249.6 L131 249.6 L131.5 249.6 L131.9 249.6 L132.3 249.4 L132.8 247.2 L133.2 232.4 L133.6 205.4 L133.8 202.2 L134.1 208.6 L134.5 227.8 L134.9 233.3 L135.1 233.6 L135.4 234.1 L135.8 235.7 L136.2 237.9 L136.7 240 L137.1 241.5 L137.5 242.5 L138 243 L138.4 243.3 L138.8 243.5 L139.3 243.7 L139.7 243.9 L140.1 244.1 L140.6 244.3 L141 244.4 L141.4 244.6 L141.9 244.8 L142.3 245 L142.7 245.1 L143.2 245.3 L143.6 245.4 L144 245.5 L144.5 245.4 L144.9 245.1 L145.3 244.8 L145.8 244.6 L146 244.6 L146.2 244.7 L146.6 245.2 L147.1 245.9 L147.5 247.1 L147.9 248.2 L148.3 249.1 L148.8 249.6 L149.2 249.6 L149.6 249.6 L150.1 249.6 L150.5 249.6 L150.9 249.6 L151.4 249.6 L151.8 249.6 L152.2 249.6 L152.7 249.6 L153.1 249.6 L153.5 249.6 L154 249.7 L154.4 249.7 L154.8 249.7 L155.3 249.7 L155.7 249.7 L156.1 249.7 L156.6 249.7 L157 249.7 L157.4 249.7 L157.9 249.7 L158.3 249.7 L158.7 249.7 L159.2 249.7 L159.6 249.7 L160 249.7 L160.5 249.7 L160.9 249.7 L161.3 249.7 L161.8 249.7 L162.2 249.7 L162.6 249.7 L163.1 249.7 L163.5 249.7 L163.9 249.7 L164.3 249.7 L164.8 249.7 L165.2 249.7 L165.6 249.7 L166.1 249.7 L166.5 249.7 L166.9 249.7 L167.4 249.7 L167.8 249.7 L168.2 249.7 L168.7 249.7 L169.1 249.7 L169.5 249.7 L170 249.7 L170.4 249.7 L170.8 249.7 L171.3 249.7 L171.7 249.7 L172.1 249.7 L172.6 249.7 L173 249.7" fill="none" stroke="#4d4d4d" stroke-width="0.55" stroke-linejoin="round"/>
<path d="M120.5 249.8 H173" stroke="#555" stroke-width="0.5"/>
<path d="M120.5 249.7h-1.3M120.5 240.2h-1.3M120.5 230.7h-1.3M120.5 221.2h-1.3M120.5 211.7h-1.3M120.5 202.2h-1.3M121.1 250v1.3M133.7 250v1.3M146.3 250v1.3M159 250v1.3M171.6 250v1.3" stroke="#777" stroke-width="0.4" fill="none"/>
<text x="121.1" y="254.6" font-size="2.4" text-anchor="middle" font-weight="normal" fill="#666" >0</text>
<text x="133.7" y="254.6" font-size="2.4" text-anchor="middle" font-weight="normal" fill="#666" >50K</text>
<text x="146.3" y="254.6" font-size="2.4" text-anchor="middle" font-weight="normal" fill="#666" >100K</text>
<text x="159" y="254.6" font-size="2.4" text-anchor="middle" font-weight="normal" fill="#666" >150K</text>
<text x="171.6" y="254.6" font-size="2.4" text-anchor="middle" font-weight="normal" fill="#666" >200K</text>
<text x="118.7" y="250.5" font-size="2.3" text-anchor="end" font-weight="normal" fill="#666" >0</text>
<text x="118.7" y="241" font-size="2.3" text-anchor="end" font-weight="normal" fill="#666" >200</text>
<text x="118.7" y="231.5" font-size="2.3" text-anchor="end" font-weight="normal" fill="#666" >400</text>
<text x="118.7" y="222" font-size="2.3" text-anchor="end" font-weight="normal" fill="#666" >600</text>
<text x="118.7" y="212.5" font-size="2.3" text-anchor="end" font-weight="normal" fill="#666" >800</text>
<text x="118.7" y="203" font-size="2.3" text-anchor="end" font-weight="normal" fill="#666" >1.0K</text>
<text x="114.9" y="223.9" font-size="2.0" text-anchor="middle" font-weight="normal" fill="#888" transform="rotate(-90 114.9 223.9)" >Count</text>
<rect x="182.8" y="197.8" width="52.4" height="52.2" fill="#fff" stroke="#c2c2c2" stroke-width="0.5"/>
<path d="M183.4 249.7 L183.4 249.7 L183.8 249.7 L184.3 249.7 L184.7 249.7 L185.1 249.7 L185.6 249.7 L186 249.7 L186.4 249.7 L186.9 249.7 L187.3 249.7 L187.7 249.7 L188.1 249.7 L188.6 249.7 L189 249.7 L189.4 249.7 L189.9 249.7 L190.3 249.7 L190.7 249.7 L191.2 249.7 L191.6 249.7 L192 249.6 L192.5 249.6 L192.9 249.6 L193.3 249.6 L193.8 249.6 L194.2 249.4 L194.6 245.9 L195.1 233.7 L195.4 226 L195.5 226.2 L195.9 235.6 L196.3 236.4 L196.8 220.9 L197.2 205.2 L197.4 202.7 L197.6 204.7 L198.1 219.3 L198.5 233.5 L198.9 239.8 L199.4 242.3 L199.8 244.2 L200.2 245.8 L200.7 246.6 L201.1 247 L201.5 247.2 L202 247.2 L202.4 247.3 L202.8 247.4 L203.3 247.4 L203.7 247.5 L204.1 247.6 L204.6 247.6 L205 247.7 L205.4 247.7 L205.8 247.8 L206.3 247.9 L206.7 247.9 L207.1 248 L207.6 248 L208 248.1 L208.4 248.2 L208.9 248.2 L209.3 248.3 L209.7 248.3 L210.2 248.4 L210.6 248.5 L211 248.5 L211.5 248.6 L211.9 248.7 L212.3 248.9 L212.8 249.2 L213.2 249.5 L213.6 249.7 L214 249.7 L214.5 249.7 L214.9 249.7 L215.3 249.7 L215.8 249.7 L216.2 249.7 L216.6 249.7 L217.1 249.7 L217.5 249.7 L217.9 249.7 L218.4 249.7 L218.8 249.7 L219.2 249.7 L219.7 249.7 L220.1 249.7 L220.5 249.7 L221 249.7 L221.4 249.7 L221.8 249.7 L222.2 249.7 L222.7 249.7 L223.1 249.7 L223.5 249.7 L224 249.7 L224.4 249.7 L224.8 249.7 L225.3 249.7 L225.7 249.7 L226.1 249.7 L226.6 249.7 L227 249.7 L227.4 249.7 L227.9 249.7 L228.3 249.7 L228.7 249.7 L229.2 249.7 L229.6 249.7 L230 249.7 L230.5 249.7 L230.9 249.7 L231.3 249.7 L231.7 249.7 L232.2 249.7 L232.6 249.7 L233 249.7 L233.5 249.7 L233.9 249.7 L234.3 249.7 L234.8 249.7 L235.2 249.7 L235.2 249.7 Z" fill="#858585" stroke="none"/>
<path d="M183.4 249.7 L183.8 249.7 L184.3 249.7 L184.7 249.7 L185.1 249.7 L185.6 249.7 L186 249.7 L186.4 249.7 L186.9 249.7 L187.3 249.7 L187.7 249.7 L188.1 249.7 L188.6 249.7 L189 249.7 L189.4 249.7 L189.9 249.7 L190.3 249.7 L190.7 249.7 L191.2 249.7 L191.6 249.7 L192 249.6 L192.5 249.6 L192.9 249.6 L193.3 249.6 L193.8 249.6 L194.2 249.4 L194.6 245.9 L195.1 233.7 L195.4 226 L195.5 226.2 L195.9 235.6 L196.3 236.4 L196.8 220.9 L197.2 205.2 L197.4 202.7 L197.6 204.7 L198.1 219.3 L198.5 233.5 L198.9 239.8 L199.4 242.3 L199.8 244.2 L200.2 245.8 L200.7 246.6 L201.1 247 L201.5 247.2 L202 247.2 L202.4 247.3 L202.8 247.4 L203.3 247.4 L203.7 247.5 L204.1 247.6 L204.6 247.6 L205 247.7 L205.4 247.7 L205.8 247.8 L206.3 247.9 L206.7 247.9 L207.1 248 L207.6 248 L208 248.1 L208.4 248.2 L208.9 248.2 L209.3 248.3 L209.7 248.3 L210.2 248.4 L210.6 248.5 L211 248.5 L211.5 248.6 L211.9 248.7 L212.3 248.9 L212.8 249.2 L213.2 249.5 L213.6 249.7 L214 249.7 L214.5 249.7 L214.9 249.7 L215.3 249.7 L215.8 249.7 L216.2 249.7 L216.6 249.7 L217.1 249.7 L217.5 249.7 L217.9 249.7 L218.4 249.7 L218.8 249.7 L219.2 249.7 L219.7 249.7 L220.1 249.7 L220.5 249.7 L221 249.7 L221.4 249.7 L221.8 249.7 L222.2 249.7 L222.7 249.7 L223.1 249.7 L223.5 249.7 L224 249.7 L224.4 249.7 L224.8 249.7 L225.3 249.7 L225.7 249.7 L226.1 249.7 L226.6 249.7 L227 249.7 L227.4 249.7 L227.9 249.7 L228.3 249.7 L228.7 249.7 L229.2 249.7 L229.6 249.7 L230 249.7 L230.5 249.7 L230.9 249.7 L231.3 249.7 L231.7 249.7 L232.2 249.7 L232.6 249.7 L233 249.7 L233.5 249.7 L233.9 249.7 L234.3 249.7 L234.8 249.7 L235.2 249.7" fill="none" stroke="#4d4d4d" stroke-width="0.55" stroke-linejoin="round"/>
<path d="M182.8 249.8 H235.2" stroke="#555" stroke-width="0.5"/>
<path d="M182.8 249.7h-1.3M182.8 237.8h-1.3M182.8 225.9h-1.3M182.8 214.1h-1.3M182.8 202.2h-1.3M183.4 250v1.3M196 250v1.3M208.6 250v1.3M221.2 250v1.3M233.8 250v1.3" stroke="#777" stroke-width="0.4" fill="none"/>
<text x="183.4" y="254.6" font-size="2.4" text-anchor="middle" font-weight="normal" fill="#666" >0</text>
<text x="196" y="254.6" font-size="2.4" text-anchor="middle" font-weight="normal" fill="#666" >50K</text>
<text x="208.6" y="254.6" font-size="2.4" text-anchor="middle" font-weight="normal" fill="#666" >100K</text>
<text x="221.2" y="254.6" font-size="2.4" text-anchor="middle" font-weight="normal" fill="#666" >150K</text>
<text x="233.8" y="254.6" font-size="2.4" text-anchor="middle" font-weight="normal" fill="#666" >200K</text>
<text x="181" y="250.5" font-size="2.3" text-anchor="end" font-weight="normal" fill="#666" >0</text>
<text x="181" y="238.6" font-size="2.3" text-anchor="end" font-weight="normal" fill="#666" >200</text>
<text x="181" y="226.7" font-size="2.3" text-anchor="end" font-weight="normal" fill="#666" >400</text>
<text x="181" y="214.9" font-size="2.3" text-anchor="end" font-weight="normal" fill="#666" >600</text>
<text x="181" y="203" font-size="2.3" text-anchor="end" font-weight="normal" fill="#666" >800</text>
<text x="177.2" y="223.9" font-size="2.0" text-anchor="middle" font-weight="normal" fill="#888" transform="rotate(-90 177.2 223.9)" >Count</text>
<rect x="246.4" y="197.8" width="51.6" height="52.2" fill="#fff" stroke="#c2c2c2" stroke-width="0.5"/>
<path d="M247 249.7 L247 249.7 L247.4 249.7 L247.8 249.7 L248.3 249.7 L248.7 249.7 L249.1 249.7 L249.6 249.7 L250 249.7 L250.4 249.7 L250.8 249.7 L251.2 249.7 L251.7 249.7 L252.1 249.7 L252.5 249.7 L252.9 249.7 L253.4 249.7 L253.8 249.7 L254.2 249.7 L254.7 249.7 L255.1 249.7 L255.5 249.7 L255.9 249.7 L256.4 249.6 L256.8 249.6 L257.2 249.6 L257.6 249.6 L258.1 249.6 L258.5 249.5 L258.9 247.7 L259.3 238 L259.8 219.6 L260 213.9 L260.2 214.8 L260.6 220.9 L261 211.3 L261.3 206.8 L261.4 209 L261.9 227.1 L262.3 240.2 L262.7 244.4 L263.1 246.7 L263.6 248 L264 248.5 L264.4 248.6 L264.9 248.6 L265.3 248.6 L265.7 248.7 L266.1 248.7 L266.6 248.7 L267 248.7 L267.4 248.7 L267.8 248.8 L268.2 248.8 L268.7 248.8 L269.1 248.8 L269.5 248.9 L269.9 248.9 L270.4 248.9 L270.8 248.9 L271.2 249 L271.6 249 L272.1 249 L272.5 249 L272.9 249 L273.4 249.1 L273.8 249.1 L274.2 249.1 L274.6 249.1 L275.1 249.2 L275.5 249.3 L275.9 249.4 L276.3 249.6 L276.8 249.7 L277.2 249.7 L277.6 249.7 L278 249.7 L278.4 249.7 L278.9 249.7 L279.3 249.7 L279.7 249.7 L280.1 249.7 L280.6 249.7 L281 249.7 L281.4 249.7 L281.9 249.7 L282.3 249.7 L282.7 249.7 L283.1 249.7 L283.6 249.7 L284 249.7 L284.4 249.7 L284.8 249.7 L285.2 249.7 L285.7 249.7 L286.1 249.7 L286.5 249.7 L286.9 249.7 L287.4 249.7 L287.8 249.7 L288.2 249.7 L288.6 249.7 L289.1 249.7 L289.5 249.7 L289.9 249.7 L290.4 249.7 L290.8 249.7 L291.2 249.7 L291.6 249.7 L292.1 249.7 L292.5 249.7 L292.9 249.7 L293.3 249.7 L293.8 249.7 L294.2 249.7 L294.6 249.7 L295 249.7 L295.4 249.7 L295.9 249.7 L296.3 249.7 L296.7 249.7 L297.1 249.7 L297.6 249.7 L298 249.7 L298 249.7 Z" fill="#858585" stroke="none"/>
<path d="M247 249.7 L247.4 249.7 L247.8 249.7 L248.3 249.7 L248.7 249.7 L249.1 249.7 L249.6 249.7 L250 249.7 L250.4 249.7 L250.8 249.7 L251.2 249.7 L251.7 249.7 L252.1 249.7 L252.5 249.7 L252.9 249.7 L253.4 249.7 L253.8 249.7 L254.2 249.7 L254.7 249.7 L255.1 249.7 L255.5 249.7 L255.9 249.7 L256.4 249.6 L256.8 249.6 L257.2 249.6 L257.6 249.6 L258.1 249.6 L258.5 249.5 L258.9 247.7 L259.3 238 L259.8 219.6 L260 213.9 L260.2 214.8 L260.6 220.9 L261 211.3 L261.3 206.8 L261.4 209 L261.9 227.1 L262.3 240.2 L262.7 244.4 L263.1 246.7 L263.6 248 L264 248.5 L264.4 248.6 L264.9 248.6 L265.3 248.6 L265.7 248.7 L266.1 248.7 L266.6 248.7 L267 248.7 L267.4 248.7 L267.8 248.8 L268.2 248.8 L268.7 248.8 L269.1 248.8 L269.5 248.9 L269.9 248.9 L270.4 248.9 L270.8 248.9 L271.2 249 L271.6 249 L272.1 249 L272.5 249 L272.9 249 L273.4 249.1 L273.8 249.1 L274.2 249.1 L274.6 249.1 L275.1 249.2 L275.5 249.3 L275.9 249.4 L276.3 249.6 L276.8 249.7 L277.2 249.7 L277.6 249.7 L278 249.7 L278.4 249.7 L278.9 249.7 L279.3 249.7 L279.7 249.7 L280.1 249.7 L280.6 249.7 L281 249.7 L281.4 249.7 L281.9 249.7 L282.3 249.7 L282.7 249.7 L283.1 249.7 L283.6 249.7 L284 249.7 L284.4 249.7 L284.8 249.7 L285.2 249.7 L285.7 249.7 L286.1 249.7 L286.5 249.7 L286.9 249.7 L287.4 249.7 L287.8 249.7 L288.2 249.7 L288.6 249.7 L289.1 249.7 L289.5 249.7 L289.9 249.7 L290.4 249.7 L290.8 249.7 L291.2 249.7 L291.6 249.7 L292.1 249.7 L292.5 249.7 L292.9 249.7 L293.3 249.7 L293.8 249.7 L294.2 249.7 L294.6 249.7 L295 249.7 L295.4 249.7 L295.9 249.7 L296.3 249.7 L296.7 249.7 L297.1 249.7 L297.6 249.7 L298 249.7" fill="none" stroke="#4d4d4d" stroke-width="0.55" stroke-linejoin="round"/>
<path d="M246.4 249.8 H298" stroke="#555" stroke-width="0.5"/>
<path d="M246.4 249.7h-1.3M246.4 240.2h-1.3M246.4 230.7h-1.3M246.4 221.2h-1.3M246.4 211.7h-1.3M246.4 202.2h-1.3M247 250v1.3M259.4 250v1.3M271.8 250v1.3M284.2 250v1.3M296.6 250v1.3" stroke="#777" stroke-width="0.4" fill="none"/>
<text x="247" y="254.6" font-size="2.4" text-anchor="middle" font-weight="normal" fill="#666" >0</text>
<text x="259.4" y="254.6" font-size="2.4" text-anchor="middle" font-weight="normal" fill="#666" >50K</text>
<text x="271.8" y="254.6" font-size="2.4" text-anchor="middle" font-weight="normal" fill="#666" >100K</text>
<text x="284.2" y="254.6" font-size="2.4" text-anchor="middle" font-weight="normal" fill="#666" >150K</text>
<text x="296.6" y="254.6" font-size="2.4" text-anchor="middle" font-weight="normal" fill="#666" >200K</text>
<text x="244.6" y="250.5" font-size="2.3" text-anchor="end" font-weight="normal" fill="#666" >0</text>
<text x="244.6" y="241" font-size="2.3" text-anchor="end" font-weight="normal" fill="#666" >200</text>
<text x="244.6" y="231.5" font-size="2.3" text-anchor="end" font-weight="normal" fill="#666" >400</text>
<text x="244.6" y="222" font-size="2.3" text-anchor="end" font-weight="normal" fill="#666" >600</text>
<text x="244.6" y="212.5" font-size="2.3" text-anchor="end" font-weight="normal" fill="#666" >800</text>
<text x="244.6" y="203" font-size="2.3" text-anchor="end" font-weight="normal" fill="#666" >1.0K</text>
<text x="240.8" y="223.9" font-size="2.0" text-anchor="middle" font-weight="normal" fill="#888" transform="rotate(-90 240.8 223.9)" >Count</text>
<rect x="328.4" y="58.5" width="8" height="4.5" fill="#5e5e5e"/>
<rect x="328.4" y="34.8" width="8" height="23.7" fill="#c0c0c0"/>
<rect x="328.4" y="9.4" width="8" height="25.4" fill="#8c8c8c"/>
<rect x="328.4" y="6.6" width="8" height="2.8" fill="#484848"/>
<rect x="346.8" y="59.1" width="8" height="3.9" fill="#5e5e5e"/>
<rect x="346.8" y="29.2" width="8" height="29.9" fill="#c0c0c0"/>
<rect x="346.8" y="15.1" width="8" height="14.1" fill="#8c8c8c"/>
<rect x="346.8" y="6.6" width="8" height="8.5" fill="#484848"/>
<rect x="365.2" y="59.6" width="8" height="3.4" fill="#5e5e5e"/>
<rect x="365.2" y="28" width="8" height="31.6" fill="#c0c0c0"/>
<rect x="365.2" y="10.5" width="8" height="17.5" fill="#8c8c8c"/>
<rect x="365.2" y="6.6" width="8" height="3.9" fill="#484848"/>
<rect x="383.6" y="58.5" width="8" height="4.5" fill="#5e5e5e"/>
<rect x="383.6" y="26.3" width="8" height="32.1" fill="#c0c0c0"/>
<rect x="383.6" y="12.2" width="8" height="14.1" fill="#8c8c8c"/>
<rect x="383.6" y="6.6" width="8" height="5.6" fill="#484848"/>
<path d="M321.6 6.6V63H396.5" stroke="#888" stroke-width="0.5" fill="none"/>
<text x="319.6" y="63.9" font-size="2.8" text-anchor="end" font-weight="normal" fill="#444" >0</text>
<text x="319.6" y="58.3" font-size="2.8" text-anchor="end" font-weight="normal" fill="#444" >10</text>
<text x="319.6" y="52.6" font-size="2.8" text-anchor="end" font-weight="normal" fill="#444" >20</text>
<text x="319.6" y="47" font-size="2.8" text-anchor="end" font-weight="normal" fill="#444" >30</text>
<text x="319.6" y="41.3" font-size="2.8" text-anchor="end" font-weight="normal" fill="#444" >40</text>
<text x="319.6" y="35.7" font-size="2.8" text-anchor="end" font-weight="normal" fill="#444" >50</text>
<text x="319.6" y="30.1" font-size="2.8" text-anchor="end" font-weight="normal" fill="#444" >60</text>
<text x="319.6" y="24.4" font-size="2.8" text-anchor="end" font-weight="normal" fill="#444" >70</text>
<text x="319.6" y="18.8" font-size="2.8" text-anchor="end" font-weight="normal" fill="#444" >80</text>
<text x="319.6" y="13.1" font-size="2.8" text-anchor="end" font-weight="normal" fill="#444" >90</text>
<text x="319.6" y="7.5" font-size="2.8" text-anchor="end" font-weight="normal" fill="#444" >100</text>
<path d="M321.6 63h-1.2M321.6 57.4h-1.2M321.6 51.7h-1.2M321.6 46.1h-1.2M321.6 40.4h-1.2M321.6 34.8h-1.2M321.6 29.2h-1.2M321.6 23.5h-1.2M321.6 17.9h-1.2M321.6 12.2h-1.2M321.6 6.6h-1.2M321.6 63v1.2M340.3 63v1.2M359 63v1.2M377.7 63v1.2M396.4 63v1.2" stroke="#888" stroke-width="0.4" fill="none"/>
<text x="313.6" y="34.8" font-size="4.6" text-anchor="middle" font-weight="normal" fill="#222" transform="rotate(-90 313.6 34.8)" >Cells (%)</text>
<rect x="403.5" y="9.4" width="31.3" height="37.4" fill="#fff" stroke="#a4a4a4" stroke-width="0.8"/>
<rect x="408.0" y="13.6" width="3.0" height="3.0" fill="#484848"/>
<text x="412.5" y="17.7" font-size="6.1" text-anchor="start" font-weight="normal" fill="#111" >G<tspan font-size="4.2" dy="1.2">2</tspan><tspan dy="-1.2">-M</tspan></text>
<rect x="408.0" y="22.2" width="3.0" height="3.0" fill="#8c8c8c"/>
<text x="412.5" y="26.3" font-size="6.1" text-anchor="start" font-weight="normal" fill="#111" >S</text>
<rect x="408.0" y="30.9" width="3.0" height="3.0" fill="#c0c0c0"/>
<text x="412.5" y="35" font-size="6.1" text-anchor="start" font-weight="normal" fill="#111" >G<tspan font-size="4.2" dy="1.2">1</tspan></text>
<rect x="408.0" y="39.6" width="3.0" height="3.0" fill="#5e5e5e"/>
<text x="412.5" y="43.7" font-size="6.1" text-anchor="start" font-weight="normal" fill="#111" >Sub-G<tspan font-size="4.2" dy="1.2">1</tspan></text>
<rect x="328.4" y="122.2" width="8" height="2.3" fill="#5e5e5e"/>
<rect x="328.4" y="86.2" width="8" height="36" fill="#c0c0c0"/>
<rect x="328.4" y="75.9" width="8" height="10.3" fill="#8c8c8c"/>
<rect x="328.4" y="67.3" width="8" height="8.6" fill="#484848"/>
<rect x="346.8" y="111.9" width="8" height="12.6" fill="#5e5e5e"/>
<rect x="346.8" y="85.6" width="8" height="26.3" fill="#c0c0c0"/>
<rect x="346.8" y="75.9" width="8" height="9.7" fill="#8c8c8c"/>
<rect x="346.8" y="67.3" width="8" height="8.6" fill="#484848"/>
<rect x="365.2" y="121.6" width="8" height="2.9" fill="#5e5e5e"/>
<rect x="365.2" y="77.6" width="8" height="44" fill="#c0c0c0"/>
<rect x="365.2" y="69" width="8" height="8.6" fill="#8c8c8c"/>
<rect x="365.2" y="67.3" width="8" height="1.7" fill="#484848"/>
<rect x="383.6" y="113.6" width="8" height="10.9" fill="#5e5e5e"/>
<rect x="383.6" y="75.3" width="8" height="38.3" fill="#c0c0c0"/>
<rect x="383.6" y="71.3" width="8" height="4" fill="#8c8c8c"/>
<rect x="383.6" y="67.3" width="8" height="4" fill="#484848"/>
<path d="M321.6 67.3V124.5H396.5" stroke="#888" stroke-width="0.5" fill="none"/>
<text x="319.6" y="125.4" font-size="2.8" text-anchor="end" font-weight="normal" fill="#444" >0</text>
<text x="319.6" y="119.7" font-size="2.8" text-anchor="end" font-weight="normal" fill="#444" >10</text>
<text x="319.6" y="114" font-size="2.8" text-anchor="end" font-weight="normal" fill="#444" >20</text>
<text x="319.6" y="108.2" font-size="2.8" text-anchor="end" font-weight="normal" fill="#444" >30</text>
<text x="319.6" y="102.5" font-size="2.8" text-anchor="end" font-weight="normal" fill="#444" >40</text>
<text x="319.6" y="96.8" font-size="2.8" text-anchor="end" font-weight="normal" fill="#444" >50</text>
<text x="319.6" y="91.1" font-size="2.8" text-anchor="end" font-weight="normal" fill="#444" >60</text>
<text x="319.6" y="85.4" font-size="2.8" text-anchor="end" font-weight="normal" fill="#444" >70</text>
<text x="319.6" y="79.6" font-size="2.8" text-anchor="end" font-weight="normal" fill="#444" >80</text>
<text x="319.6" y="73.9" font-size="2.8" text-anchor="end" font-weight="normal" fill="#444" >90</text>
<text x="319.6" y="68.2" font-size="2.8" text-anchor="end" font-weight="normal" fill="#444" >100</text>
<path d="M321.6 124.5h-1.2M321.6 118.8h-1.2M321.6 113.1h-1.2M321.6 107.3h-1.2M321.6 101.6h-1.2M321.6 95.9h-1.2M321.6 90.2h-1.2M321.6 84.5h-1.2M321.6 78.7h-1.2M321.6 73h-1.2M321.6 67.3h-1.2M321.6 124.5v1.2M340.3 124.5v1.2M359 124.5v1.2M377.7 124.5v1.2M396.4 124.5v1.2" stroke="#888" stroke-width="0.4" fill="none"/>
<text x="313.6" y="95.9" font-size="4.6" text-anchor="middle" font-weight="normal" fill="#222" transform="rotate(-90 313.6 95.9)" >Cells (%)</text>
<rect x="403.5" y="71.7" width="31.3" height="37.1" fill="#fff" stroke="#a4a4a4" stroke-width="0.8"/>
<rect x="408.0" y="75.9" width="3.0" height="3.0" fill="#484848"/>
<text x="412.5" y="80" font-size="6.1" text-anchor="start" font-weight="normal" fill="#111" >G<tspan font-size="4.2" dy="1.2">2</tspan><tspan dy="-1.2">-M</tspan></text>
<rect x="408.0" y="84.5" width="3.0" height="3.0" fill="#8c8c8c"/>
<text x="412.5" y="88.7" font-size="6.1" text-anchor="start" font-weight="normal" fill="#111" >S</text>
<rect x="408.0" y="93.2" width="3.0" height="3.0" fill="#c0c0c0"/>
<text x="412.5" y="97.3" font-size="6.1" text-anchor="start" font-weight="normal" fill="#111" >G<tspan font-size="4.2" dy="1.2">1</tspan></text>
<rect x="408.0" y="101.8" width="3.0" height="3.0" fill="#5e5e5e"/>
<text x="412.5" y="106" font-size="6.1" text-anchor="start" font-weight="normal" fill="#111" >Sub-G<tspan font-size="4.2" dy="1.2">1</tspan></text>
<rect x="328.4" y="184.9" width="8" height="2.3" fill="#5e5e5e"/>
<rect x="328.4" y="156.4" width="8" height="28.5" fill="#c0c0c0"/>
<rect x="328.4" y="139.8" width="8" height="16.6" fill="#8c8c8c"/>
<rect x="328.4" y="130.1" width="8" height="9.7" fill="#484848"/>
<rect x="346.8" y="179.2" width="8" height="8" fill="#5e5e5e"/>
<rect x="346.8" y="152.9" width="8" height="26.3" fill="#c0c0c0"/>
<rect x="346.8" y="139.8" width="8" height="13.1" fill="#8c8c8c"/>
<rect x="346.8" y="130.1" width="8" height="9.7" fill="#484848"/>
<rect x="365.2" y="180.3" width="8" height="6.9" fill="#5e5e5e"/>
<rect x="365.2" y="150.7" width="8" height="29.7" fill="#c0c0c0"/>
<rect x="365.2" y="134.7" width="8" height="16" fill="#8c8c8c"/>
<rect x="365.2" y="130.1" width="8" height="4.6" fill="#484848"/>
<rect x="383.6" y="173.5" width="8" height="13.7" fill="#5e5e5e"/>
<rect x="383.6" y="154.1" width="8" height="19.4" fill="#c0c0c0"/>
<rect x="383.6" y="139.8" width="8" height="14.3" fill="#8c8c8c"/>
<rect x="383.6" y="130.1" width="8" height="9.7" fill="#484848"/>
<path d="M321.6 130.1V187.2H396.5" stroke="#888" stroke-width="0.5" fill="none"/>
<text x="319.6" y="188.1" font-size="2.8" text-anchor="end" font-weight="normal" fill="#444" >0</text>
<text x="319.6" y="182.4" font-size="2.8" text-anchor="end" font-weight="normal" fill="#444" >10</text>
<text x="319.6" y="176.7" font-size="2.8" text-anchor="end" font-weight="normal" fill="#444" >20</text>
<text x="319.6" y="171" font-size="2.8" text-anchor="end" font-weight="normal" fill="#444" >30</text>
<text x="319.6" y="165.3" font-size="2.8" text-anchor="end" font-weight="normal" fill="#444" >40</text>
<text x="319.6" y="159.5" font-size="2.8" text-anchor="end" font-weight="normal" fill="#444" >50</text>
<text x="319.6" y="153.8" font-size="2.8" text-anchor="end" font-weight="normal" fill="#444" >60</text>
<text x="319.6" y="148.1" font-size="2.8" text-anchor="end" font-weight="normal" fill="#444" >70</text>
<text x="319.6" y="142.4" font-size="2.8" text-anchor="end" font-weight="normal" fill="#444" >80</text>
<text x="319.6" y="136.7" font-size="2.8" text-anchor="end" font-weight="normal" fill="#444" >90</text>
<text x="319.6" y="131" font-size="2.8" text-anchor="end" font-weight="normal" fill="#444" >100</text>
<path d="M321.6 187.2h-1.2M321.6 181.5h-1.2M321.6 175.8h-1.2M321.6 170.1h-1.2M321.6 164.4h-1.2M321.6 158.6h-1.2M321.6 152.9h-1.2M321.6 147.2h-1.2M321.6 141.5h-1.2M321.6 135.8h-1.2M321.6 130.1h-1.2M321.6 187.2v1.2M340.3 187.2v1.2M359 187.2v1.2M377.7 187.2v1.2M396.4 187.2v1.2" stroke="#888" stroke-width="0.4" fill="none"/>
<text x="313.6" y="158.6" font-size="4.6" text-anchor="middle" font-weight="normal" fill="#222" transform="rotate(-90 313.6 158.6)" >Cells (%)</text>
<rect x="403.5" y="136.8" width="31.3" height="37.1" fill="#fff" stroke="#a4a4a4" stroke-width="0.8"/>
<rect x="408.0" y="141" width="3.0" height="3.0" fill="#484848"/>
<text x="412.5" y="145.1" font-size="6.1" text-anchor="start" font-weight="normal" fill="#111" >G<tspan font-size="4.2" dy="1.2">2</tspan><tspan dy="-1.2">-M</tspan></text>
<rect x="408.0" y="149.7" width="3.0" height="3.0" fill="#8c8c8c"/>
<text x="412.5" y="153.8" font-size="6.1" text-anchor="start" font-weight="normal" fill="#111" >S</text>
<rect x="408.0" y="158.3" width="3.0" height="3.0" fill="#c0c0c0"/>
<text x="412.5" y="162.4" font-size="6.1" text-anchor="start" font-weight="normal" fill="#111" >G<tspan font-size="4.2" dy="1.2">1</tspan></text>
<rect x="408.0" y="167" width="3.0" height="3.0" fill="#5e5e5e"/>
<text x="412.5" y="171.1" font-size="6.1" text-anchor="start" font-weight="normal" fill="#111" >Sub-G<tspan font-size="4.2" dy="1.2">1</tspan></text>
<rect x="328.4" y="240.6" width="8" height="11" fill="#5e5e5e"/>
<rect x="328.4" y="224.3" width="8" height="16.3" fill="#c0c0c0"/>
<rect x="328.4" y="201.1" width="8" height="23.2" fill="#8c8c8c"/>
<rect x="328.4" y="193.5" width="8" height="7.6" fill="#484848"/>
<rect x="346.8" y="238.8" width="8" height="12.8" fill="#5e5e5e"/>
<rect x="346.8" y="223.7" width="8" height="15.1" fill="#c0c0c0"/>
<rect x="346.8" y="206.3" width="8" height="17.4" fill="#8c8c8c"/>
<rect x="346.8" y="193.5" width="8" height="12.8" fill="#484848"/>
<rect x="365.2" y="238.8" width="8" height="12.8" fill="#5e5e5e"/>
<rect x="365.2" y="213.8" width="8" height="25" fill="#c0c0c0"/>
<rect x="365.2" y="198.7" width="8" height="15.1" fill="#8c8c8c"/>
<rect x="365.2" y="193.5" width="8" height="5.2" fill="#484848"/>
<rect x="383.6" y="224.3" width="8" height="27.3" fill="#5e5e5e"/>
<rect x="383.6" y="205.7" width="8" height="18.6" fill="#c0c0c0"/>
<rect x="383.6" y="194.7" width="8" height="11" fill="#8c8c8c"/>
<rect x="383.6" y="193.5" width="8" height="1.2" fill="#484848"/>
<path d="M321.6 193.5V251.6H396.5" stroke="#888" stroke-width="0.5" fill="none"/>
<text x="319.6" y="252.5" font-size="2.8" text-anchor="end" font-weight="normal" fill="#444" >0</text>
<text x="319.6" y="246.7" font-size="2.8" text-anchor="end" font-weight="normal" fill="#444" >10</text>
<text x="319.6" y="240.9" font-size="2.8" text-anchor="end" font-weight="normal" fill="#444" >20</text>
<text x="319.6" y="235.1" font-size="2.8" text-anchor="end" font-weight="normal" fill="#444" >30</text>
<text x="319.6" y="229.3" font-size="2.8" text-anchor="end" font-weight="normal" fill="#444" >40</text>
<text x="319.6" y="223.5" font-size="2.8" text-anchor="end" font-weight="normal" fill="#444" >50</text>
<text x="319.6" y="217.6" font-size="2.8" text-anchor="end" font-weight="normal" fill="#444" >60</text>
<text x="319.6" y="211.8" font-size="2.8" text-anchor="end" font-weight="normal" fill="#444" >70</text>
<text x="319.6" y="206" font-size="2.8" text-anchor="end" font-weight="normal" fill="#444" >80</text>
<text x="319.6" y="200.2" font-size="2.8" text-anchor="end" font-weight="normal" fill="#444" >90</text>
<text x="319.6" y="194.4" font-size="2.8" text-anchor="end" font-weight="normal" fill="#444" >100</text>
<path d="M321.6 251.6h-1.2M321.6 245.8h-1.2M321.6 240h-1.2M321.6 234.2h-1.2M321.6 228.4h-1.2M321.6 222.6h-1.2M321.6 216.7h-1.2M321.6 210.9h-1.2M321.6 205.1h-1.2M321.6 199.3h-1.2M321.6 193.5h-1.2M321.6 251.6v1.2M340.3 251.6v1.2M359 251.6v1.2M377.7 251.6v1.2M396.4 251.6v1.2" stroke="#888" stroke-width="0.4" fill="none"/>
<text x="313.6" y="222.6" font-size="4.6" text-anchor="middle" font-weight="normal" fill="#222" transform="rotate(-90 313.6 222.6)" >Cells (%)</text>
<rect x="403.5" y="195.6" width="31.3" height="37" fill="#fff" stroke="#a4a4a4" stroke-width="0.8"/>
<rect x="408.0" y="199.8" width="3.0" height="3.0" fill="#484848"/>
<text x="412.5" y="203.9" font-size="6.1" text-anchor="start" font-weight="normal" fill="#111" >G<tspan font-size="4.2" dy="1.2">2</tspan><tspan dy="-1.2">-M</tspan></text>
<rect x="408.0" y="208.4" width="3.0" height="3.0" fill="#8c8c8c"/>
<text x="412.5" y="212.5" font-size="6.1" text-anchor="start" font-weight="normal" fill="#111" >S</text>
<rect x="408.0" y="217.1" width="3.0" height="3.0" fill="#c0c0c0"/>
<text x="412.5" y="221.2" font-size="6.1" text-anchor="start" font-weight="normal" fill="#111" >G<tspan font-size="4.2" dy="1.2">1</tspan></text>
<rect x="408.0" y="225.7" width="3.0" height="3.0" fill="#5e5e5e"/>
<text x="412.5" y="229.8" font-size="6.1" text-anchor="start" font-weight="normal" fill="#111" >Sub-G<tspan font-size="4.2" dy="1.2">1</tspan></text>
<text x="338.9" y="258.2" font-size="7.6" text-anchor="end" font-weight="normal" fill="#111" transform="rotate(-45 338.9 258.2)" stroke="#111" stroke-width="0.25">Control</text>
<text x="357.6" y="258.2" font-size="7.6" text-anchor="end" font-weight="normal" fill="#111" transform="rotate(-45 357.6 258.2)" stroke="#111" stroke-width="0.25">Binimetinib</text>
<text x="373.9" y="258.2" font-size="7.6" text-anchor="end" font-weight="normal" fill="#111" transform="rotate(-45 373.9 258.2)" stroke="#111" stroke-width="0.25">Ribociclib</text>
<text x="390.2" y="258.2" font-size="7.6" text-anchor="end" font-weight="normal" fill="#111" transform="rotate(-45 390.2 258.2)" stroke="#111" stroke-width="0.25">Combo</text>
<text x="10.6" y="293.2" font-size="14.3" text-anchor="start" font-weight="bold" fill="#000" >B</text>
<rect x="49" y="296.8" width="3" height="66.6" fill="#000000"/>
<rect x="52" y="296.8" width="3" height="66.6" fill="#f3702a"/>
<rect x="55.1" y="296.8" width="3" height="66.6" fill="#cf352b"/>
<rect x="58.1" y="296.8" width="3" height="66.6" fill="#1d57a8"/>
<rect x="63.9" y="336.1" width="3" height="27.3" fill="#000000"/>
<path d="M65.4 336.1v-0.9M64.8 335.2h1.2" stroke="#222" stroke-width="0.4" fill="none"/>
<rect x="66.9" y="332.8" width="3" height="30.6" fill="#f3702a"/>
<path d="M68.5 332.8v-0.9M67.9 331.9h1.2" stroke="#222" stroke-width="0.4" fill="none"/>
<rect x="70" y="330.8" width="3" height="32.6" fill="#cf352b"/>
<path d="M71.5 330.8v-0.9M70.9 329.9h1.2" stroke="#222" stroke-width="0.4" fill="none"/>
<rect x="73" y="330.1" width="3" height="33.3" fill="#1d57a8"/>
<path d="M74.6 330.1v-0.9M74 329.2h1.2" stroke="#17407e" stroke-width="0.4" fill="none"/>
<rect x="78.8" y="340.8" width="3" height="22.6" fill="#000000"/>
<path d="M80.3 340.8v-0.9M79.7 339.9h1.2" stroke="#222" stroke-width="0.4" fill="none"/>
<rect x="81.8" y="336.8" width="3" height="26.6" fill="#f3702a"/>
<path d="M83.3 336.8v-0.9M82.7 335.9h1.2" stroke="#222" stroke-width="0.4" fill="none"/>
<rect x="84.9" y="336.8" width="3" height="26.6" fill="#cf352b"/>
<path d="M86.4 336.8v-0.9M85.8 335.9h1.2" stroke="#222" stroke-width="0.4" fill="none"/>
<rect x="87.9" y="326.8" width="3" height="36.6" fill="#1d57a8"/>
<path d="M89.4 326.8v-0.9M88.8 325.9h1.2" stroke="#17407e" stroke-width="0.4" fill="none"/>
<rect x="93.6" y="351.4" width="3" height="12" fill="#000000"/>
<path d="M95.2 351.4v-0.9M94.6 350.5h1.2" stroke="#222" stroke-width="0.4" fill="none"/>
<rect x="96.7" y="348.1" width="3" height="15.3" fill="#f3702a"/>
<path d="M98.2 348.1v-0.9M97.6 347.2h1.2" stroke="#222" stroke-width="0.4" fill="none"/>
<rect x="99.7" y="343.4" width="3" height="20" fill="#cf352b"/>
<path d="M101.3 343.4v-0.9M100.7 342.5h1.2" stroke="#222" stroke-width="0.4" fill="none"/>
<rect x="102.8" y="340.1" width="3" height="23.3" fill="#1d57a8"/>
<path d="M104.3 340.1v-0.9M103.7 339.2h1.2" stroke="#17407e" stroke-width="0.4" fill="none"/>
<rect x="108.5" y="358.1" width="3" height="5.3" fill="#000000"/>
<path d="M110 358.1v-0.9M109.4 357.2h1.2" stroke="#222" stroke-width="0.4" fill="none"/>
<rect x="111.6" y="354.7" width="3" height="8.7" fill="#f3702a"/>
<path d="M113.1 354.7v-0.9M112.5 353.8h1.2" stroke="#222" stroke-width="0.4" fill="none"/>
<rect x="114.6" y="353.4" width="3" height="10" fill="#cf352b"/>
<path d="M116.1 353.4v-0.9M115.5 352.5h1.2" stroke="#222" stroke-width="0.4" fill="none"/>
<rect x="117.7" y="350.1" width="3" height="13.3" fill="#1d57a8"/>
<path d="M119.2 350.1v-0.9M118.6 349.2h1.2" stroke="#17407e" stroke-width="0.4" fill="none"/>
<rect x="123.4" y="358.7" width="3" height="4.7" fill="#000000"/>
<path d="M124.9 358.7v-0.9M124.3 357.8h1.2" stroke="#222" stroke-width="0.4" fill="none"/>
<rect x="126.5" y="358.1" width="3" height="5.3" fill="#f3702a"/>
<path d="M128 358.1v-0.9M127.4 357.2h1.2" stroke="#222" stroke-width="0.4" fill="none"/>
<rect x="129.5" y="356.7" width="3" height="6.7" fill="#cf352b"/>
<path d="M131 356.7v-0.9M130.4 355.8h1.2" stroke="#222" stroke-width="0.4" fill="none"/>
<rect x="132.6" y="353.4" width="3" height="10" fill="#1d57a8"/>
<path d="M134.1 353.4v-0.9M133.5 352.5h1.2" stroke="#17407e" stroke-width="0.4" fill="none"/>
<rect x="138.3" y="360.7" width="3" height="2.7" fill="#000000"/>
<path d="M139.8 360.7v-0.9M139.2 359.8h1.2" stroke="#222" stroke-width="0.4" fill="none"/>
<rect x="141.3" y="358.7" width="3" height="4.7" fill="#f3702a"/>
<path d="M142.9 358.7v-0.9M142.3 357.8h1.2" stroke="#222" stroke-width="0.4" fill="none"/>
<rect x="144.4" y="357.4" width="3" height="6" fill="#cf352b"/>
<path d="M145.9 357.4v-0.9M145.3 356.5h1.2" stroke="#222" stroke-width="0.4" fill="none"/>
<rect x="147.4" y="357.4" width="3" height="6" fill="#1d57a8"/>
<path d="M149 357.4v-0.9M148.4 356.5h1.2" stroke="#17407e" stroke-width="0.4" fill="none"/>
<path d="M47.4 296.4V363.8H152" stroke="#000" stroke-width="1.2" fill="none"/>
<text x="44" y="365.2" font-size="5.0" text-anchor="end" font-weight="normal" fill="#111" >0</text>
<text x="44" y="351.9" font-size="5.0" text-anchor="end" font-weight="normal" fill="#111" >20</text>
<text x="44" y="338.6" font-size="5.0" text-anchor="end" font-weight="normal" fill="#111" >40</text>
<text x="44" y="325.2" font-size="5.0" text-anchor="end" font-weight="normal" fill="#111" >60</text>
<text x="44" y="311.9" font-size="5.0" text-anchor="end" font-weight="normal" fill="#111" >80</text>
<text x="44" y="298.6" font-size="5.0" text-anchor="end" font-weight="normal" fill="#111" >100</text>
<text x="55.1" y="370.6" font-size="5.0" text-anchor="middle" font-weight="normal" fill="#111" >0</text>
<text x="70" y="370.6" font-size="5.0" text-anchor="middle" font-weight="normal" fill="#111" >24</text>
<text x="84.9" y="370.6" font-size="5.0" text-anchor="middle" font-weight="normal" fill="#111" >48</text>
<text x="99.7" y="370.6" font-size="5.0" text-anchor="middle" font-weight="normal" fill="#111" >72</text>
<text x="114.6" y="370.6" font-size="5.0" text-anchor="middle" font-weight="normal" fill="#111" >96</text>
<text x="129.5" y="370.6" font-size="5.0" text-anchor="middle" font-weight="normal" fill="#111" >120</text>
<text x="144.4" y="370.6" font-size="5.0" text-anchor="middle" font-weight="normal" fill="#111" >144</text>
<path d="M47.4 363.4h-2M47.4 350.1h-2M47.4 336.8h-2M47.4 323.4h-2M47.4 310.1h-2M47.4 296.8h-2M55.1 363.4v2M70 363.4v2M84.9 363.4v2M99.7 363.4v2M114.6 363.4v2M129.5 363.4v2M144.4 363.4v2" stroke="#000" stroke-width="0.9" fill="none"/>
<text x="65" y="301.9" font-size="7.75" text-anchor="start" font-weight="normal" fill="#111" >NB-EBc1</text>
<text x="100.7" y="380.4" font-size="5.65" text-anchor="middle" font-weight="normal" fill="#111" >Time (hours)</text>
<rect x="173" y="296.8" width="2.9" height="66.6" fill="#000000"/>
<rect x="175.9" y="296.8" width="2.9" height="66.6" fill="#f3702a"/>
<rect x="178.8" y="296.8" width="2.9" height="66.6" fill="#cf352b"/>
<rect x="181.7" y="296.8" width="2.9" height="66.6" fill="#1d57a8"/>
<rect x="187.8" y="310.8" width="2.9" height="52.6" fill="#000000"/>
<path d="M189.3 310.8v-0.9M188.7 309.9h1.2" stroke="#222" stroke-width="0.4" fill="none"/>
<rect x="190.7" y="310.1" width="2.9" height="53.3" fill="#f3702a"/>
<path d="M192.2 310.1v-0.9M191.6 309.2h1.2" stroke="#222" stroke-width="0.4" fill="none"/>
<rect x="193.6" y="310.8" width="2.9" height="52.6" fill="#cf352b"/>
<path d="M195.1 310.8v-0.9M194.5 309.9h1.2" stroke="#222" stroke-width="0.4" fill="none"/>
<rect x="196.5" y="310.8" width="2.9" height="52.6" fill="#1d57a8"/>
<path d="M198 310.8v-0.9M197.4 309.9h1.2" stroke="#17407e" stroke-width="0.4" fill="none"/>
<rect x="202.6" y="328.8" width="2.9" height="34.6" fill="#000000"/>
<path d="M204.1 328.8v-0.9M203.5 327.9h1.2" stroke="#222" stroke-width="0.4" fill="none"/>
<rect x="205.5" y="326.1" width="2.9" height="37.3" fill="#f3702a"/>
<path d="M207 326.1v-0.9M206.4 325.2h1.2" stroke="#222" stroke-width="0.4" fill="none"/>
<rect x="208.4" y="316.8" width="2.9" height="46.6" fill="#cf352b"/>
<path d="M209.9 316.8v-0.9M209.3 315.9h1.2" stroke="#222" stroke-width="0.4" fill="none"/>
<rect x="211.3" y="319.4" width="2.9" height="44" fill="#1d57a8"/>
<path d="M212.8 319.4v-0.9M212.2 318.5h1.2" stroke="#17407e" stroke-width="0.4" fill="none"/>
<rect x="217.5" y="345.4" width="2.9" height="18" fill="#000000"/>
<path d="M218.9 345.4v-0.9M218.3 344.5h1.2" stroke="#222" stroke-width="0.4" fill="none"/>
<rect x="220.4" y="334.1" width="2.9" height="29.3" fill="#f3702a"/>
<path d="M221.8 334.1v-0.9M221.2 333.2h1.2" stroke="#222" stroke-width="0.4" fill="none"/>
<rect x="223.3" y="334.1" width="2.9" height="29.3" fill="#cf352b"/>
<path d="M224.7 334.1v-0.9M224.1 333.2h1.2" stroke="#222" stroke-width="0.4" fill="none"/>
<rect x="226.2" y="319.4" width="2.9" height="44" fill="#1d57a8"/>
<path d="M227.6 319.4v-0.9M227 318.5h1.2" stroke="#17407e" stroke-width="0.4" fill="none"/>
<rect x="232.3" y="354.1" width="2.9" height="9.3" fill="#000000"/>
<path d="M233.7 354.1v-0.9M233.1 353.2h1.2" stroke="#222" stroke-width="0.4" fill="none"/>
<rect x="235.2" y="346.8" width="2.9" height="16.6" fill="#f3702a"/>
<path d="M236.6 346.8v-0.9M236 345.9h1.2" stroke="#222" stroke-width="0.4" fill="none"/>
<rect x="238.1" y="344.8" width="2.9" height="18.6" fill="#cf352b"/>
<path d="M239.5 344.8v-0.9M238.9 343.9h1.2" stroke="#222" stroke-width="0.4" fill="none"/>
<rect x="241" y="328.8" width="2.9" height="34.6" fill="#1d57a8"/>
<path d="M242.4 328.8v-0.9M241.8 327.9h1.2" stroke="#17407e" stroke-width="0.4" fill="none"/>
<rect x="247.1" y="358.1" width="2.9" height="5.3" fill="#000000"/>
<path d="M248.5 358.1v-0.9M247.9 357.2h1.2" stroke="#222" stroke-width="0.4" fill="none"/>
<rect x="250" y="353.4" width="2.9" height="10" fill="#f3702a"/>
<path d="M251.4 353.4v-0.9M250.8 352.5h1.2" stroke="#222" stroke-width="0.4" fill="none"/>
<rect x="252.9" y="352.1" width="2.9" height="11.3" fill="#cf352b"/>
<path d="M254.3 352.1v-0.9M253.8 351.2h1.2" stroke="#222" stroke-width="0.4" fill="none"/>
<rect x="255.8" y="336.8" width="2.9" height="26.6" fill="#1d57a8"/>
<path d="M257.2 336.8v-0.9M256.6 335.9h1.2" stroke="#17407e" stroke-width="0.4" fill="none"/>
<rect x="261.9" y="360.7" width="2.9" height="2.7" fill="#000000"/>
<path d="M263.4 360.7v-0.9M262.8 359.8h1.2" stroke="#222" stroke-width="0.4" fill="none"/>
<rect x="264.8" y="356.7" width="2.9" height="6.7" fill="#f3702a"/>
<path d="M266.3 356.7v-0.9M265.7 355.8h1.2" stroke="#222" stroke-width="0.4" fill="none"/>
<rect x="267.7" y="356.7" width="2.9" height="6.7" fill="#cf352b"/>
<path d="M269.2 356.7v-0.9M268.6 355.8h1.2" stroke="#222" stroke-width="0.4" fill="none"/>
<rect x="270.6" y="348.1" width="2.9" height="15.3" fill="#1d57a8"/>
<path d="M272.1 348.1v-0.9M271.5 347.2h1.2" stroke="#17407e" stroke-width="0.4" fill="none"/>
<path d="M171 296.4V363.8H273.5" stroke="#000" stroke-width="1.2" fill="none"/>
<text x="167.6" y="365.2" font-size="5.0" text-anchor="end" font-weight="normal" fill="#111" >0</text>
<text x="167.6" y="351.9" font-size="5.0" text-anchor="end" font-weight="normal" fill="#111" >20</text>
<text x="167.6" y="338.6" font-size="5.0" text-anchor="end" font-weight="normal" fill="#111" >40</text>
<text x="167.6" y="325.2" font-size="5.0" text-anchor="end" font-weight="normal" fill="#111" >60</text>
<text x="167.6" y="311.9" font-size="5.0" text-anchor="end" font-weight="normal" fill="#111" >80</text>
<text x="167.6" y="298.6" font-size="5.0" text-anchor="end" font-weight="normal" fill="#111" >100</text>
<text x="178.8" y="370.6" font-size="5.0" text-anchor="middle" font-weight="normal" fill="#111" >0</text>
<text x="193.6" y="370.6" font-size="5.0" text-anchor="middle" font-weight="normal" fill="#111" >24</text>
<text x="208.4" y="370.6" font-size="5.0" text-anchor="middle" font-weight="normal" fill="#111" >48</text>
<text x="223.3" y="370.6" font-size="5.0" text-anchor="middle" font-weight="normal" fill="#111" >72</text>
<text x="238.1" y="370.6" font-size="5.0" text-anchor="middle" font-weight="normal" fill="#111" >96</text>
<text x="252.9" y="370.6" font-size="5.0" text-anchor="middle" font-weight="normal" fill="#111" >120</text>
<text x="267.7" y="370.6" font-size="5.0" text-anchor="middle" font-weight="normal" fill="#111" >144</text>
<path d="M171 363.4h-2M171 350.1h-2M171 336.8h-2M171 323.4h-2M171 310.1h-2M171 296.8h-2M178.8 363.4v2M193.6 363.4v2M208.4 363.4v2M223.3 363.4v2M238.1 363.4v2M252.9 363.4v2M267.7 363.4v2" stroke="#000" stroke-width="0.9" fill="none"/>
<text x="188" y="301.9" font-size="7.75" text-anchor="start" font-weight="normal" fill="#111" >NBL-S</text>
<text x="224.3" y="380.4" font-size="5.65" text-anchor="middle" font-weight="normal" fill="#111" >Time (hours)</text>
<rect x="292.1" y="296.8" width="2.9" height="66.6" fill="#000000"/>
<rect x="295" y="296.8" width="2.9" height="66.6" fill="#f3702a"/>
<rect x="297.9" y="296.8" width="2.9" height="66.6" fill="#cf352b"/>
<rect x="300.8" y="296.8" width="2.9" height="66.6" fill="#1d57a8"/>
<rect x="307.1" y="318.8" width="2.9" height="44.6" fill="#000000"/>
<path d="M308.5 318.8v-0.9M307.9 317.9h1.2" stroke="#222" stroke-width="0.4" fill="none"/>
<rect x="310" y="316.8" width="2.9" height="46.6" fill="#f3702a"/>
<path d="M311.4 316.8v-0.9M310.8 315.9h1.2" stroke="#222" stroke-width="0.4" fill="none"/>
<rect x="312.9" y="308.8" width="2.9" height="54.6" fill="#cf352b"/>
<path d="M314.3 308.8v-0.9M313.7 307.9h1.2" stroke="#222" stroke-width="0.4" fill="none"/>
<rect x="315.8" y="312.1" width="2.9" height="51.3" fill="#1d57a8"/>
<path d="M317.2 312.1v-0.9M316.6 311.2h1.2" stroke="#17407e" stroke-width="0.4" fill="none"/>
<rect x="322.1" y="345.4" width="2.9" height="18" fill="#000000"/>
<path d="M323.5 345.4v-0.9M322.9 344.5h1.2" stroke="#222" stroke-width="0.4" fill="none"/>
<rect x="325" y="330.1" width="2.9" height="33.3" fill="#f3702a"/>
<path d="M326.4 330.1v-0.9M325.8 329.2h1.2" stroke="#222" stroke-width="0.4" fill="none"/>
<rect x="327.9" y="330.1" width="2.9" height="33.3" fill="#cf352b"/>
<path d="M329.3 330.1v-0.9M328.7 329.2h1.2" stroke="#222" stroke-width="0.4" fill="none"/>
<rect x="330.8" y="317.4" width="2.9" height="46" fill="#1d57a8"/>
<path d="M332.2 317.4v-0.9M331.6 316.5h1.2" stroke="#17407e" stroke-width="0.4" fill="none"/>
<rect x="337.1" y="352.1" width="2.9" height="11.3" fill="#000000"/>
<path d="M338.5 352.1v-0.9M337.9 351.2h1.2" stroke="#222" stroke-width="0.4" fill="none"/>
<rect x="340" y="347.4" width="2.9" height="16" fill="#f3702a"/>
<path d="M341.4 347.4v-0.9M340.8 346.5h1.2" stroke="#222" stroke-width="0.4" fill="none"/>
<rect x="342.9" y="343.4" width="2.9" height="20" fill="#cf352b"/>
<path d="M344.3 343.4v-0.9M343.7 342.5h1.2" stroke="#222" stroke-width="0.4" fill="none"/>
<rect x="345.8" y="338.1" width="2.9" height="25.3" fill="#1d57a8"/>
<path d="M347.2 338.1v-0.9M346.6 337.2h1.2" stroke="#17407e" stroke-width="0.4" fill="none"/>
<rect x="352.1" y="358.7" width="2.9" height="4.7" fill="#000000"/>
<path d="M353.5 358.7v-0.9M352.9 357.8h1.2" stroke="#222" stroke-width="0.4" fill="none"/>
<rect x="355" y="352.1" width="2.9" height="11.3" fill="#f3702a"/>
<path d="M356.4 352.1v-0.9M355.8 351.2h1.2" stroke="#222" stroke-width="0.4" fill="none"/>
<rect x="357.9" y="352.1" width="2.9" height="11.3" fill="#cf352b"/>
<path d="M359.3 352.1v-0.9M358.7 351.2h1.2" stroke="#222" stroke-width="0.4" fill="none"/>
<rect x="360.8" y="343.4" width="2.9" height="20" fill="#1d57a8"/>
<path d="M362.2 343.4v-0.9M361.6 342.5h1.2" stroke="#17407e" stroke-width="0.4" fill="none"/>
<rect x="367.1" y="360.5" width="2.9" height="2.9" fill="#000000"/>
<path d="M368.5 360.5v-0.9M367.9 359.6h1.2" stroke="#222" stroke-width="0.4" fill="none"/>
<rect x="370" y="359.1" width="2.9" height="4.3" fill="#f3702a"/>
<path d="M371.4 359.1v-0.9M370.8 358.2h1.2" stroke="#222" stroke-width="0.4" fill="none"/>
<rect x="372.9" y="357.7" width="2.9" height="5.7" fill="#cf352b"/>
<path d="M374.3 357.7v-0.9M373.7 356.8h1.2" stroke="#222" stroke-width="0.4" fill="none"/>
<rect x="375.8" y="348.1" width="2.9" height="15.3" fill="#1d57a8"/>
<path d="M377.2 348.1v-0.9M376.6 347.2h1.2" stroke="#17407e" stroke-width="0.4" fill="none"/>
<rect x="382.1" y="361.7" width="2.9" height="1.7" fill="#000000"/>
<path d="M383.5 361.7v-0.9M382.9 360.8h1.2" stroke="#222" stroke-width="0.4" fill="none"/>
<rect x="385" y="360.7" width="2.9" height="2.7" fill="#f3702a"/>
<path d="M386.4 360.7v-0.9M385.8 359.8h1.2" stroke="#222" stroke-width="0.4" fill="none"/>
<rect x="387.9" y="359.6" width="2.9" height="3.8" fill="#cf352b"/>
<path d="M389.3 359.6v-0.9M388.7 358.7h1.2" stroke="#222" stroke-width="0.4" fill="none"/>
<rect x="390.8" y="354.1" width="2.9" height="9.3" fill="#1d57a8"/>
<path d="M392.2 354.1v-0.9M391.6 353.2h1.2" stroke="#17407e" stroke-width="0.4" fill="none"/>
<path d="M290.3 296.4V363.8H394.1" stroke="#000" stroke-width="1.2" fill="none"/>
<text x="286.9" y="365.2" font-size="5.0" text-anchor="end" font-weight="normal" fill="#111" >0</text>
<text x="286.9" y="351.9" font-size="5.0" text-anchor="end" font-weight="normal" fill="#111" >20</text>
<text x="286.9" y="338.6" font-size="5.0" text-anchor="end" font-weight="normal" fill="#111" >40</text>
<text x="286.9" y="325.2" font-size="5.0" text-anchor="end" font-weight="normal" fill="#111" >60</text>
<text x="286.9" y="311.9" font-size="5.0" text-anchor="end" font-weight="normal" fill="#111" >80</text>
<text x="286.9" y="298.6" font-size="5.0" text-anchor="end" font-weight="normal" fill="#111" >100</text>
<text x="297.9" y="370.6" font-size="5.0" text-anchor="middle" font-weight="normal" fill="#111" >0</text>
<text x="312.9" y="370.6" font-size="5.0" text-anchor="middle" font-weight="normal" fill="#111" >24</text>
<text x="327.9" y="370.6" font-size="5.0" text-anchor="middle" font-weight="normal" fill="#111" >48</text>
<text x="342.9" y="370.6" font-size="5.0" text-anchor="middle" font-weight="normal" fill="#111" >72</text>
<text x="357.9" y="370.6" font-size="5.0" text-anchor="middle" font-weight="normal" fill="#111" >96</text>
<text x="372.9" y="370.6" font-size="5.0" text-anchor="middle" font-weight="normal" fill="#111" >120</text>
<text x="387.9" y="370.6" font-size="5.0" text-anchor="middle" font-weight="normal" fill="#111" >144</text>
<path d="M290.3 363.4h-2M290.3 350.1h-2M290.3 336.8h-2M290.3 323.4h-2M290.3 310.1h-2M290.3 296.8h-2M297.9 363.4v2M312.9 363.4v2M327.9 363.4v2M342.9 363.4v2M357.9 363.4v2M372.9 363.4v2M387.9 363.4v2" stroke="#000" stroke-width="0.9" fill="none"/>
<text x="308" y="301.9" font-size="7.75" text-anchor="start" font-weight="normal" fill="#111" >SK-N-BE(2)C</text>
<text x="343.9" y="380.4" font-size="5.65" text-anchor="middle" font-weight="normal" fill="#111" >Time (hours)</text>
<rect x="413" y="296.8" width="2.9" height="66.6" fill="#000000"/>
<rect x="415.9" y="296.8" width="2.9" height="66.6" fill="#f3702a"/>
<rect x="418.8" y="296.8" width="2.9" height="66.6" fill="#cf352b"/>
<rect x="421.7" y="296.8" width="2.9" height="66.6" fill="#1d57a8"/>
<rect x="427.9" y="312.1" width="2.9" height="51.3" fill="#000000"/>
<path d="M429.4 312.1v-0.9M428.8 311.2h1.2" stroke="#222" stroke-width="0.4" fill="none"/>
<rect x="430.8" y="312.8" width="2.9" height="50.6" fill="#f3702a"/>
<path d="M432.3 312.8v-0.9M431.7 311.9h1.2" stroke="#222" stroke-width="0.4" fill="none"/>
<rect x="433.7" y="316.1" width="2.9" height="47.3" fill="#cf352b"/>
<path d="M435.2 316.1v-0.9M434.6 315.2h1.2" stroke="#222" stroke-width="0.4" fill="none"/>
<rect x="436.6" y="319.4" width="2.9" height="44" fill="#1d57a8"/>
<path d="M438.1 319.4v-0.9M437.5 318.5h1.2" stroke="#17407e" stroke-width="0.4" fill="none"/>
<rect x="442.8" y="330.1" width="2.9" height="33.3" fill="#000000"/>
<path d="M444.3 330.1v-0.9M443.7 329.2h1.2" stroke="#222" stroke-width="0.4" fill="none"/>
<rect x="445.7" y="326.1" width="2.9" height="37.3" fill="#f3702a"/>
<path d="M447.2 326.1v-0.9M446.6 325.2h1.2" stroke="#222" stroke-width="0.4" fill="none"/>
<rect x="448.6" y="333.4" width="2.9" height="30" fill="#cf352b"/>
<path d="M450.1 333.4v-0.9M449.5 332.5h1.2" stroke="#222" stroke-width="0.4" fill="none"/>
<rect x="451.5" y="329.4" width="2.9" height="34" fill="#1d57a8"/>
<path d="M453 329.4v-0.9M452.4 328.5h1.2" stroke="#17407e" stroke-width="0.4" fill="none"/>
<rect x="457.8" y="344.1" width="2.9" height="19.3" fill="#000000"/>
<path d="M459.2 344.1v-0.9M458.6 343.2h1.2" stroke="#222" stroke-width="0.4" fill="none"/>
<rect x="460.7" y="338.1" width="2.9" height="25.3" fill="#f3702a"/>
<path d="M462.1 338.1v-0.9M461.5 337.2h1.2" stroke="#222" stroke-width="0.4" fill="none"/>
<rect x="463.6" y="344.8" width="2.9" height="18.6" fill="#cf352b"/>
<path d="M465 344.8v-0.9M464.4 343.9h1.2" stroke="#222" stroke-width="0.4" fill="none"/>
<rect x="466.5" y="336.1" width="2.9" height="27.3" fill="#1d57a8"/>
<path d="M467.9 336.1v-0.9M467.3 335.2h1.2" stroke="#17407e" stroke-width="0.4" fill="none"/>
<rect x="472.7" y="350.7" width="2.9" height="12.7" fill="#000000"/>
<path d="M474.1 350.7v-0.9M473.5 349.8h1.2" stroke="#222" stroke-width="0.4" fill="none"/>
<rect x="475.6" y="346.8" width="2.9" height="16.6" fill="#f3702a"/>
<path d="M477 346.8v-0.9M476.4 345.9h1.2" stroke="#222" stroke-width="0.4" fill="none"/>
<rect x="478.5" y="352.1" width="2.9" height="11.3" fill="#cf352b"/>
<path d="M479.9 352.1v-0.9M479.3 351.2h1.2" stroke="#222" stroke-width="0.4" fill="none"/>
<rect x="481.4" y="342.8" width="2.9" height="20.6" fill="#1d57a8"/>
<path d="M482.8 342.8v-0.9M482.2 341.9h1.2" stroke="#17407e" stroke-width="0.4" fill="none"/>
<rect x="487.6" y="356.7" width="2.9" height="6.7" fill="#000000"/>
<path d="M489 356.7v-0.9M488.4 355.8h1.2" stroke="#222" stroke-width="0.4" fill="none"/>
<rect x="490.5" y="350.7" width="2.9" height="12.7" fill="#f3702a"/>
<path d="M491.9 350.7v-0.9M491.3 349.8h1.2" stroke="#222" stroke-width="0.4" fill="none"/>
<rect x="493.4" y="352.7" width="2.9" height="10.7" fill="#cf352b"/>
<path d="M494.8 352.7v-0.9M494.2 351.8h1.2" stroke="#222" stroke-width="0.4" fill="none"/>
<rect x="496.3" y="349.4" width="2.9" height="14" fill="#1d57a8"/>
<path d="M497.7 349.4v-0.9M497.1 348.5h1.2" stroke="#17407e" stroke-width="0.4" fill="none"/>
<rect x="502.5" y="358.7" width="2.9" height="4.7" fill="#000000"/>
<path d="M504 358.7v-0.9M503.4 357.8h1.2" stroke="#222" stroke-width="0.4" fill="none"/>
<rect x="505.4" y="356.1" width="2.9" height="7.3" fill="#f3702a"/>
<path d="M506.9 356.1v-0.9M506.3 355.2h1.2" stroke="#222" stroke-width="0.4" fill="none"/>
<rect x="508.3" y="358.7" width="2.9" height="4.7" fill="#cf352b"/>
<path d="M509.8 358.7v-0.9M509.2 357.8h1.2" stroke="#222" stroke-width="0.4" fill="none"/>
<rect x="511.2" y="352.7" width="2.9" height="10.7" fill="#1d57a8"/>
<path d="M512.7 352.7v-0.9M512.1 351.8h1.2" stroke="#17407e" stroke-width="0.4" fill="none"/>
<path d="M411.2 296.4V363.8H514.5" stroke="#000" stroke-width="1.2" fill="none"/>
<text x="407.8" y="365.2" font-size="5.0" text-anchor="end" font-weight="normal" fill="#111" >0</text>
<text x="407.8" y="351.9" font-size="5.0" text-anchor="end" font-weight="normal" fill="#111" >20</text>
<text x="407.8" y="338.6" font-size="5.0" text-anchor="end" font-weight="normal" fill="#111" >40</text>
<text x="407.8" y="325.2" font-size="5.0" text-anchor="end" font-weight="normal" fill="#111" >60</text>
<text x="407.8" y="311.9" font-size="5.0" text-anchor="end" font-weight="normal" fill="#111" >80</text>
<text x="407.8" y="298.6" font-size="5.0" text-anchor="end" font-weight="normal" fill="#111" >100</text>
<text x="418.8" y="370.6" font-size="5.0" text-anchor="middle" font-weight="normal" fill="#111" >0</text>
<text x="433.7" y="370.6" font-size="5.0" text-anchor="middle" font-weight="normal" fill="#111" >24</text>
<text x="448.6" y="370.6" font-size="5.0" text-anchor="middle" font-weight="normal" fill="#111" >48</text>
<text x="463.6" y="370.6" font-size="5.0" text-anchor="middle" font-weight="normal" fill="#111" >72</text>
<text x="478.5" y="370.6" font-size="5.0" text-anchor="middle" font-weight="normal" fill="#111" >96</text>
<text x="493.4" y="370.6" font-size="5.0" text-anchor="middle" font-weight="normal" fill="#111" >120</text>
<text x="508.3" y="370.6" font-size="5.0" text-anchor="middle" font-weight="normal" fill="#111" >144</text>
<path d="M411.2 363.4h-2M411.2 350.1h-2M411.2 336.8h-2M411.2 323.4h-2M411.2 310.1h-2M411.2 296.8h-2M418.8 363.4v2M433.7 363.4v2M448.6 363.4v2M463.6 363.4v2M478.5 363.4v2M493.4 363.4v2M508.3 363.4v2" stroke="#000" stroke-width="0.9" fill="none"/>
<text x="427.8" y="301.9" font-size="7.75" text-anchor="start" font-weight="normal" fill="#111" >NGP</text>
<text x="464.6" y="380.4" font-size="5.65" text-anchor="middle" font-weight="normal" fill="#111" >Time (hours)</text>
<text x="20.8" y="329.4" font-size="8.0" text-anchor="middle" font-weight="normal" fill="#111" transform="rotate(-90 20.8 329.4)" >Percent CFSE</text>
<text x="33.6" y="329" font-size="8.0" text-anchor="middle" font-weight="normal" fill="#111" transform="rotate(-90 33.6 329)" >(normalized)</text>
<rect x="0.6" y="397.4" width="158.4" height="26.1" fill="#fff" stroke="#484848" stroke-width="1.0"/>
<path d="M0.6 411.6H159" stroke="#777" stroke-width="0.5"/>
<path d="M48.2 384.6V423.5M72.5 384.6V423.5M97 384.6V423.5M125 384.6V423.5" stroke="#888" stroke-width="0.5" fill="none"/>
<text x="46.3" y="406.4" font-size="4.5" text-anchor="end" font-weight="normal" fill="#111" stroke="#222" stroke-width="0.12">Doubling time (h)</text>
<text x="46.3" y="419.4" font-size="4.35" text-anchor="end" font-weight="normal" fill="#111" stroke="#222" stroke-width="0.12">95% Confidence range</text>
<text x="60.4" y="407.7" font-size="7.3" text-anchor="middle" font-weight="normal" fill="#111" >26.2</text>
<text x="60.4" y="419.6" font-size="4.7" text-anchor="middle" font-weight="normal" fill="#111" stroke="#222" stroke-width="0.12">20.3–37.1</text>
<rect x="51.6" y="389.4" width="2.6" height="3.7" fill="#000000"/>
<text x="55.2" y="392.8" font-size="4.2" text-anchor="start" font-weight="normal" fill="#111" stroke="#222" stroke-width="0.12">Vehicle</text>
<text x="84.8" y="407.7" font-size="7.3" text-anchor="middle" font-weight="normal" fill="#111" >32.9</text>
<text x="84.8" y="419.6" font-size="4.7" text-anchor="middle" font-weight="normal" fill="#111" stroke="#222" stroke-width="0.12">25.5–46.6</text>
<rect x="75.9" y="389.4" width="2.6" height="3.7" fill="#f3702a"/>
<text x="79.5" y="392.8" font-size="4.2" text-anchor="start" font-weight="normal" fill="#111" stroke="#222" stroke-width="0.12">Ribociclib</text>
<text x="111" y="407.7" font-size="7.3" text-anchor="middle" font-weight="normal" fill="#111" >36.5</text>
<text x="111" y="419.6" font-size="4.7" text-anchor="middle" font-weight="normal" fill="#111" stroke="#222" stroke-width="0.12">28.4–51.0</text>
<rect x="100.4" y="389.4" width="2.6" height="3.7" fill="#cf352b"/>
<text x="104" y="392.8" font-size="4.2" text-anchor="start" font-weight="normal" fill="#111" stroke="#222" stroke-width="0.12">Binimetinib</text>
<text x="142" y="407.7" font-size="7.3" text-anchor="middle" font-weight="normal" fill="#111" >44.9</text>
<text x="142" y="419.6" font-size="4.7" text-anchor="middle" font-weight="normal" fill="#111" stroke="#222" stroke-width="0.12">32.5–72.4</text>
<rect x="127" y="389.4" width="2.6" height="3.7" fill="#1d57a8"/>
<text x="132" y="390.3" font-size="4.0" text-anchor="start" font-weight="normal" fill="#111" stroke="#222" stroke-width="0.12">Ribociclib +</text>
<text x="132" y="394.9" font-size="4.0" text-anchor="start" font-weight="normal" fill="#111" stroke="#222" stroke-width="0.12">binimetinib</text>
<rect x="166.8" y="397.4" width="112" height="26.1" fill="#fff" stroke="#484848" stroke-width="1.0"/>
<path d="M166.8 411.6H278.8" stroke="#777" stroke-width="0.5"/>
<path d="M166.8 384.6V397.4M190.4 384.6V423.5M214.6 384.6V423.5M243.5 384.6V423.5" stroke="#888" stroke-width="0.5" fill="none"/>
<text x="178.6" y="407.7" font-size="7.3" text-anchor="middle" font-weight="normal" fill="#111" >39.1</text>
<text x="178.6" y="419.6" font-size="4.7" text-anchor="middle" font-weight="normal" fill="#111" stroke="#222" stroke-width="0.12">33.7–53.8</text>
<rect x="170.2" y="389.4" width="2.6" height="3.7" fill="#000000"/>
<text x="173.8" y="392.8" font-size="4.2" text-anchor="start" font-weight="normal" fill="#111" stroke="#222" stroke-width="0.12">Vehicle</text>
<text x="202.5" y="407.7" font-size="7.3" text-anchor="middle" font-weight="normal" fill="#111" >50.8</text>
<text x="202.5" y="419.6" font-size="4.7" text-anchor="middle" font-weight="normal" fill="#111" stroke="#222" stroke-width="0.12">42.3–63.5</text>
<rect x="193.8" y="389.4" width="2.6" height="3.7" fill="#f3702a"/>
<text x="197.4" y="392.8" font-size="4.2" text-anchor="start" font-weight="normal" fill="#111" stroke="#222" stroke-width="0.12">Ribociclib</text>
<text x="229.1" y="407.7" font-size="7.3" text-anchor="middle" font-weight="normal" fill="#111" >54.7</text>
<text x="229.1" y="419.6" font-size="4.7" text-anchor="middle" font-weight="normal" fill="#111" stroke="#222" stroke-width="0.12">42.1–78.0</text>
<rect x="218" y="389.4" width="2.6" height="3.7" fill="#cf352b"/>
<text x="221.6" y="392.8" font-size="4.2" text-anchor="start" font-weight="normal" fill="#111" stroke="#222" stroke-width="0.12">Binimetinib</text>
<text x="261.1" y="407.7" font-size="7.3" text-anchor="middle" font-weight="normal" fill="#111" >88.6</text>
<text x="261.1" y="419.6" font-size="4.7" text-anchor="middle" font-weight="normal" fill="#111" stroke="#222" stroke-width="0.12">67.1–130.6</text>
<rect x="245.5" y="389.4" width="2.6" height="3.7" fill="#1d57a8"/>
<text x="250.5" y="390.3" font-size="4.0" text-anchor="start" font-weight="normal" fill="#111" stroke="#222" stroke-width="0.12">Ribociclib +</text>
<text x="250.5" y="394.9" font-size="4.0" text-anchor="start" font-weight="normal" fill="#111" stroke="#222" stroke-width="0.12">binimetinib</text>
<rect x="287" y="397.4" width="109.6" height="26.1" fill="#fff" stroke="#484848" stroke-width="1.0"/>
<path d="M287 411.6H396.6" stroke="#777" stroke-width="0.5"/>
<path d="M287 384.6V397.4M310.7 384.6V423.5M335.4 384.6V423.5M364.2 384.6V423.5" stroke="#888" stroke-width="0.5" fill="none"/>
<text x="298.9" y="407.7" font-size="7.3" text-anchor="middle" font-weight="normal" fill="#111" >28.8</text>
<text x="298.9" y="419.6" font-size="4.7" text-anchor="middle" font-weight="normal" fill="#111" stroke="#222" stroke-width="0.12">22.4–40.3</text>
<rect x="290.4" y="389.4" width="2.6" height="3.7" fill="#000000"/>
<text x="294" y="392.8" font-size="4.2" text-anchor="start" font-weight="normal" fill="#111" stroke="#222" stroke-width="0.12">Vehicle</text>
<text x="323" y="407.7" font-size="7.3" text-anchor="middle" font-weight="normal" fill="#111" >38.0</text>
<text x="323" y="419.6" font-size="4.7" text-anchor="middle" font-weight="normal" fill="#111" stroke="#222" stroke-width="0.12">29.6–53.1</text>
<rect x="314.1" y="389.4" width="2.6" height="3.7" fill="#f3702a"/>
<text x="317.7" y="392.8" font-size="4.2" text-anchor="start" font-weight="normal" fill="#111" stroke="#222" stroke-width="0.12">Ribociclib</text>
<text x="349.8" y="407.7" font-size="7.3" text-anchor="middle" font-weight="normal" fill="#111" >42.1</text>
<text x="349.8" y="419.6" font-size="4.7" text-anchor="middle" font-weight="normal" fill="#111" stroke="#222" stroke-width="0.12">31.1–65.2</text>
<rect x="338.8" y="389.4" width="2.6" height="3.7" fill="#cf352b"/>
<text x="342.4" y="392.8" font-size="4.2" text-anchor="start" font-weight="normal" fill="#111" stroke="#222" stroke-width="0.12">Binimetinib</text>
<text x="380.4" y="407.7" font-size="7.3" text-anchor="middle" font-weight="normal" fill="#111" >56.7</text>
<text x="380.4" y="419.6" font-size="4.7" text-anchor="middle" font-weight="normal" fill="#111" stroke="#222" stroke-width="0.12">42.1–86.7</text>
<rect x="366.2" y="389.4" width="2.6" height="3.7" fill="#1d57a8"/>
<text x="371.2" y="390.3" font-size="4.0" text-anchor="start" font-weight="normal" fill="#111" stroke="#222" stroke-width="0.12">Ribociclib +</text>
<text x="371.2" y="394.9" font-size="4.0" text-anchor="start" font-weight="normal" fill="#111" stroke="#222" stroke-width="0.12">binimetinib</text>
<rect x="407.6" y="397.4" width="111" height="26.1" fill="#fff" stroke="#484848" stroke-width="1.0"/>
<path d="M407.6 411.6H518.6" stroke="#777" stroke-width="0.5"/>
<path d="M407.6 384.6V397.4M432 384.6V423.5M457 384.6V423.5M485 384.6V423.5" stroke="#888" stroke-width="0.5" fill="none"/>
<text x="419.8" y="407.7" font-size="7.3" text-anchor="middle" font-weight="normal" fill="#111" >42.3</text>
<text x="419.8" y="419.6" font-size="4.7" text-anchor="middle" font-weight="normal" fill="#111" stroke="#222" stroke-width="0.12">34.2–55.4</text>
<rect x="411" y="389.4" width="2.6" height="3.7" fill="#000000"/>
<text x="414.6" y="392.8" font-size="4.2" text-anchor="start" font-weight="normal" fill="#111" stroke="#222" stroke-width="0.12">Vehicle</text>
<text x="444.5" y="407.7" font-size="7.3" text-anchor="middle" font-weight="normal" fill="#111" >50.2</text>
<text x="444.5" y="419.6" font-size="4.7" text-anchor="middle" font-weight="normal" fill="#111" stroke="#222" stroke-width="0.12">43.5–59.2</text>
<rect x="435.4" y="389.4" width="2.6" height="3.7" fill="#f3702a"/>
<text x="439" y="392.8" font-size="4.2" text-anchor="start" font-weight="normal" fill="#111" stroke="#222" stroke-width="0.12">Ribociclib</text>
<text x="471" y="407.7" font-size="7.3" text-anchor="middle" font-weight="normal" fill="#111" >41.0</text>
<text x="471" y="419.6" font-size="4.7" text-anchor="middle" font-weight="normal" fill="#111" stroke="#222" stroke-width="0.12">36.9–46.1</text>
<rect x="460.4" y="389.4" width="2.6" height="3.7" fill="#cf352b"/>
<text x="464" y="392.8" font-size="4.2" text-anchor="start" font-weight="normal" fill="#111" stroke="#222" stroke-width="0.12">Binimetinib</text>
<text x="501.8" y="407.7" font-size="7.3" text-anchor="middle" font-weight="normal" fill="#111" >54.2</text>
<text x="501.8" y="419.6" font-size="4.7" text-anchor="middle" font-weight="normal" fill="#111" stroke="#222" stroke-width="0.12">47.6–62.5</text>
<rect x="487" y="389.4" width="2.6" height="3.7" fill="#1d57a8"/>
<text x="492" y="390.3" font-size="4.0" text-anchor="start" font-weight="normal" fill="#111" stroke="#222" stroke-width="0.12">Ribociclib +</text>
<text x="492" y="394.9" font-size="4.0" text-anchor="start" font-weight="normal" fill="#111" stroke="#222" stroke-width="0.12">binimetinib</text>
<text x="13.6" y="451.6" font-size="13.8" text-anchor="start" font-weight="bold" fill="#000" >C</text>
<rect x="37.7" y="450" width="88.9" height="87.2" fill="#fff" stroke="#9a9a9a" stroke-width="0.8"/>
<path d="M38.2 536 L38.7 536 L39.2 535.9 L39.7 535.9 L40.2 535.9 L40.6 535.9 L41.1 535.9 L41.6 535.9 L42.1 535.8 L42.6 535.8 L43.1 535.8 L43.6 535.7 L44.1 535.7 L44.5 535.7 L45 535.6 L45.5 535.6 L46 535.5 L46.5 535.4 L47 535.3 L47.5 535.3 L48 535.2 L48.5 535.1 L48.9 534.9 L49.4 534.8 L49.9 534.7 L50.4 534.5 L50.9 534.4 L51.4 534.2 L51.9 534 L52.4 533.8 L52.9 533.6 L53.3 533.3 L53.8 533.1 L54.3 532.8 L54.8 532.5 L55.3 532.3 L55.8 531.9 L56.3 531.6 L56.8 531.2 L57.2 530.9 L57.7 530.4 L58.2 530 L58.7 529.6 L59.2 529.1 L59.7 528.6 L60.2 528.1 L60.7 527.5 L61.2 526.9 L61.6 526.2 L62.1 525.6 L62.6 524.9 L63.1 524.1 L63.6 523.2 L64.1 522.3 L64.6 521.4 L65.1 520.4 L65.5 519.5 L66 518.4 L66.5 517.1 L67 515.9 L67.5 514.7 L68 513.3 L68.5 511.8 L69 510.2 L69.5 508.7 L69.9 507 L70.4 505.2 L70.9 502.9 L71.4 500.6 L71.9 498.1 L72.4 495 L72.9 492 L73.4 488.4 L73.8 483.9 L74.3 479 L74.8 474.5 L75.3 470.3 L75.8 466.7 L76.3 463.2 L76.8 460 L77.3 458.4 L77.8 458.4 L78.2 459.3 L78.7 462.4 L79.2 466.2 L79.7 470.5 L80.2 476.1 L80.7 482.3 L81.2 488.7 L81.7 494.7 L82.2 500.2 L82.6 505.9 L83.1 510.5 L83.6 514.6 L84.1 518.1 L84.6 521.2 L85.1 523.7 L85.6 525.8 L86.1 527.5 L86.5 528.9 L87 530.1 L87.5 531 L88 531.8 L88.5 532.5 L89 533.1 L89.5 533.6 L90 534 L90.5 534.3 L90.9 534.6 L91.4 534.8 L91.9 535.1 L92.4 535.2 L92.9 535.4 L93.4 535.5 L93.9 535.6 L94.4 535.7 L94.8 535.7 L95.3 535.8 L95.8 535.8 L96.3 535.9 L96.8 535.9 L97.3 535.9 L97.8 535.9 L98.3 535.9 L98.8 536 L99.2 536 L99.7 536 L100.2 536 L100.7 536 L101.2 536 L101.7 536 L102.2 536 L102.7 536 L103.1 536 L103.6 536 L104.1 536 L104.6 536 L105.1 536 L105.6 536 L106.1 536 L106.6 536 L107.1 536 L107.5 536 L108 536 L108.5 536 L109 536 L109.5 536 L110 536 L110.5 536 L111 536 L111.5 536 L111.9 536 L112.4 536 L112.9 536 L113.4 536 L113.9 536 L114.4 536 L114.9 536 L115.4 536 L115.8 536 L116.3 536 L116.8 536 L117.3 536 L117.8 536 L118.3 536 L118.8 536 L119.3 536 L119.8 536 L120.2 536 L120.7 536 L121.2 536 L121.7 536 L122.2 536 L122.7 536 L123.2 536 L123.7 536 L124.1 536 L124.6 536 L125.1 536 L125.6 536 L126.1 536 L126.1 536 L38.2 536 Z" fill="#e6e6e6" stroke="none"/>
<path d="M38.2 536 L38.7 536 L39.2 535.9 L39.7 535.9 L40.2 535.9 L40.6 535.9 L41.1 535.9 L41.6 535.9 L42.1 535.8 L42.6 535.8 L43.1 535.8 L43.6 535.7 L44.1 535.7 L44.5 535.7 L45 535.6 L45.5 535.6 L46 535.5 L46.5 535.4 L47 535.3 L47.5 535.3 L48 535.2 L48.5 535.1 L48.9 534.9 L49.4 534.8 L49.9 534.7 L50.4 534.5 L50.9 534.4 L51.4 534.2 L51.9 534 L52.4 533.8 L52.9 533.6 L53.3 533.3 L53.8 533.1 L54.3 532.8 L54.8 532.5 L55.3 532.3 L55.8 531.9 L56.3 531.6 L56.8 531.2 L57.2 530.9 L57.7 530.4 L58.2 530 L58.7 529.6 L59.2 529.1 L59.7 528.6 L60.2 528.1 L60.7 527.5 L61.2 526.9 L61.6 526.2 L62.1 525.6 L62.6 524.9 L63.1 524.1 L63.6 523.2 L64.1 522.3 L64.6 521.4 L65.1 520.4 L65.5 519.5 L66 518.4 L66.5 517.1 L67 515.9 L67.5 514.7 L68 513.3 L68.5 511.8 L69 510.2 L69.5 508.7 L69.9 507 L70.4 505.2 L70.9 502.9 L71.4 500.6 L71.9 498.1 L72.4 495 L72.9 492 L73.4 488.4 L73.8 483.9 L74.3 479 L74.8 474.5 L75.3 470.3 L75.8 466.7 L76.3 463.2 L76.8 460 L77.3 458.4 L77.8 458.4 L78.2 459.3 L78.7 462.4 L79.2 466.2 L79.7 470.5 L80.2 476.1 L80.7 482.3 L81.2 488.7 L81.7 494.7 L82.2 500.2 L82.6 505.9 L83.1 510.5 L83.6 514.6 L84.1 518.1 L84.6 521.2 L85.1 523.7 L85.6 525.8 L86.1 527.5 L86.5 528.9 L87 530.1 L87.5 531 L88 531.8 L88.5 532.5 L89 533.1 L89.5 533.6 L90 534 L90.5 534.3 L90.9 534.6 L91.4 534.8 L91.9 535.1 L92.4 535.2 L92.9 535.4 L93.4 535.5 L93.9 535.6 L94.4 535.7 L94.8 535.7 L95.3 535.8 L95.8 535.8 L96.3 535.9 L96.8 535.9 L97.3 535.9 L97.8 535.9 L98.3 535.9 L98.8 536 L99.2 536 L99.7 536 L100.2 536 L100.7 536 L101.2 536 L101.7 536 L102.2 536 L102.7 536 L103.1 536 L103.6 536 L104.1 536 L104.6 536 L105.1 536 L105.6 536 L106.1 536 L106.6 536 L107.1 536 L107.5 536 L108 536 L108.5 536 L109 536 L109.5 536 L110 536 L110.5 536 L111 536 L111.5 536 L111.9 536 L112.4 536 L112.9 536 L113.4 536 L113.9 536 L114.4 536 L114.9 536 L115.4 536 L115.8 536 L116.3 536 L116.8 536 L117.3 536 L117.8 536 L118.3 536 L118.8 536 L119.3 536 L119.8 536 L120.2 536 L120.7 536 L121.2 536 L121.7 536 L122.2 536 L122.7 536 L123.2 536 L123.7 536 L124.1 536 L124.6 536 L125.1 536 L125.6 536 L126.1 536" fill="none" stroke="#b4b4b4" stroke-width="0.6" stroke-linejoin="round"/>
<path d="M38.2 536 L38.7 536 L39.2 536 L39.7 536 L40.2 536 L40.6 536 L41.1 536 L41.6 536 L42.1 536 L42.6 536 L43.1 536 L43.6 536 L44.1 536 L44.5 536 L45 536 L45.5 536 L46 536 L46.5 536 L47 536 L47.5 536 L48 536 L48.5 536 L48.9 536 L49.4 536 L49.9 536 L50.4 536 L50.9 536 L51.4 536 L51.9 536 L52.4 536 L52.9 536 L53.3 536 L53.8 536 L54.3 536 L54.8 536 L55.3 536 L55.8 536 L56.3 536 L56.8 536 L57.2 536 L57.7 536 L58.2 536 L58.7 536 L59.2 536 L59.7 536 L60.2 536 L60.7 536 L61.2 536 L61.6 536 L62.1 536 L62.6 536 L63.1 536 L63.6 536 L64.1 536 L64.6 536 L65.1 536 L65.5 536 L66 536 L66.5 536 L67 536 L67.5 536 L68 536 L68.5 536 L69 536 L69.5 536 L69.9 536 L70.4 535.9 L70.9 535.9 L71.4 535.9 L71.9 535.8 L72.4 535.8 L72.9 535.7 L73.4 535.6 L73.8 535.5 L74.3 535.4 L74.8 535.2 L75.3 535 L75.8 534.8 L76.3 534.5 L76.8 534.2 L77.3 533.8 L77.8 533.4 L78.2 533 L78.7 532.5 L79.2 532 L79.7 531.5 L80.2 530.9 L80.7 530.3 L81.2 529.5 L81.7 528.5 L82.2 527.1 L82.6 525.3 L83.1 522.8 L83.6 518.8 L84.1 514 L84.6 507.3 L85.1 499.2 L85.6 490.7 L86.1 481.4 L86.5 472.2 L87 463.8 L87.5 457.7 L88 454.6 L88.5 454.7 L89 457.5 L89.5 464.5 L90 473.7 L90.5 483.4 L90.9 494.1 L91.4 503.8 L91.9 511.8 L92.4 518.8 L92.9 524.3 L93.4 528.4 L93.9 531.1 L94.4 532.9 L94.8 534.2 L95.3 534.9 L95.8 535.3 L96.3 535.6 L96.8 535.7 L97.3 535.8 L97.8 535.9 L98.3 535.9 L98.8 535.9 L99.2 536 L99.7 536 L100.2 536 L100.7 536 L101.2 536 L101.7 536 L102.2 536 L102.7 536 L103.1 536 L103.6 536 L104.1 536 L104.6 536 L105.1 536 L105.6 536 L106.1 536 L106.6 536 L107.1 536 L107.5 536 L108 536 L108.5 536 L109 536 L109.5 536 L110 536 L110.5 536 L111 536 L111.5 536 L111.9 536 L112.4 536 L112.9 536 L113.4 536 L113.9 536 L114.4 536 L114.9 536 L115.4 536 L115.8 536 L116.3 536 L116.8 536 L117.3 536 L117.8 536 L118.3 536 L118.8 536 L119.3 536 L119.8 536 L120.2 536 L120.7 536 L121.2 536 L121.7 536 L122.2 536 L122.7 536 L123.2 536 L123.7 536 L124.1 536 L124.6 536 L125.1 536 L125.6 536 L126.1 536" fill="none" stroke="#2f78c0" stroke-width="0.75" stroke-linejoin="round"/>
<path d="M38.2 536 L38.7 536 L39.2 536 L39.7 536 L40.2 536 L40.6 536 L41.1 536 L41.6 536 L42.1 536 L42.6 536 L43.1 536 L43.6 536 L44.1 536 L44.5 536 L45 536 L45.5 536 L46 536 L46.5 536 L47 536 L47.5 536 L48 536 L48.5 536 L48.9 536 L49.4 536 L49.9 536 L50.4 536 L50.9 536 L51.4 536 L51.9 536 L52.4 536 L52.9 536 L53.3 536 L53.8 536 L54.3 536 L54.8 536 L55.3 536 L55.8 536 L56.3 536 L56.8 536 L57.2 536 L57.7 536 L58.2 536 L58.7 536 L59.2 536 L59.7 536 L60.2 536 L60.7 536 L61.2 536 L61.6 536 L62.1 536 L62.6 536 L63.1 536 L63.6 536 L64.1 536 L64.6 536 L65.1 536 L65.5 536 L66 536 L66.5 536 L67 536 L67.5 536 L68 536 L68.5 536 L69 536 L69.5 536 L69.9 536 L70.4 536 L70.9 535.9 L71.4 535.9 L71.9 535.9 L72.4 535.9 L72.9 535.8 L73.4 535.8 L73.8 535.7 L74.3 535.6 L74.8 535.5 L75.3 535.4 L75.8 535.2 L76.3 535 L76.8 534.8 L77.3 534.6 L77.8 534.3 L78.2 534 L78.7 533.6 L79.2 533.2 L79.7 532.7 L80.2 532.3 L80.7 531.7 L81.2 531.2 L81.7 530.7 L82.2 530.1 L82.6 529.4 L83.1 528.7 L83.6 527.6 L84.1 526.5 L84.6 525.1 L85.1 523.1 L85.6 520.3 L86.1 516.3 L86.5 511.5 L87 505.6 L87.5 498.8 L88 489.9 L88.5 481.5 L89 473.5 L89.5 466.5 L90 460.9 L90.5 457 L90.9 454.6 L91.4 456.7 L91.9 461.4 L92.4 467.3 L92.9 475.5 L93.4 483.3 L93.9 493.1 L94.4 501.5 L94.8 508.8 L95.3 515.3 L95.8 520 L96.3 523.8 L96.8 526.4 L97.3 528 L97.8 529 L98.3 529.4 L98.8 529.6 L99.2 529.5 L99.7 529.5 L100.2 529.5 L100.7 529.7 L101.2 529.9 L101.7 530.1 L102.2 530.3 L102.7 530.6 L103.1 530.8 L103.6 531.1 L104.1 531.3 L104.6 531.3 L105.1 531.4 L105.6 531.4 L106.1 531.5 L106.6 531.4 L107.1 531.4 L107.5 531.5 L108 531.5 L108.5 531.6 L109 531.8 L109.5 532 L110 532.2 L110.5 532.4 L111 532.7 L111.5 533 L111.9 533.3 L112.4 533.7 L112.9 534 L113.4 534.3 L113.9 534.5 L114.4 534.8 L114.9 535 L115.4 535.2 L115.8 535.4 L116.3 535.5 L116.8 535.6 L117.3 535.7 L117.8 535.8 L118.3 535.8 L118.8 535.9 L119.3 535.9 L119.8 535.9 L120.2 536 L120.7 536 L121.2 536 L121.7 536 L122.2 536 L122.7 536 L123.2 536 L123.7 536 L124.1 536 L124.6 536 L125.1 536 L125.6 536 L126.1 536" fill="none" stroke="#cc2a2a" stroke-width="0.75" stroke-linejoin="round"/>
<path d="M38.2 536 L38.7 536 L39.2 536 L39.7 536 L40.2 536 L40.6 536 L41.1 536 L41.6 536 L42.1 536 L42.6 536 L43.1 536 L43.6 536 L44.1 536 L44.5 536 L45 536 L45.5 536 L46 536 L46.5 536 L47 536 L47.5 536 L48 536 L48.5 536 L48.9 536 L49.4 536 L49.9 536 L50.4 536 L50.9 536 L51.4 536 L51.9 536 L52.4 536 L52.9 536 L53.3 536 L53.8 536 L54.3 536 L54.8 536 L55.3 536 L55.8 536 L56.3 536 L56.8 536 L57.2 536 L57.7 536 L58.2 536 L58.7 536 L59.2 536 L59.7 536 L60.2 536 L60.7 536 L61.2 536 L61.6 536 L62.1 536 L62.6 536 L63.1 536 L63.6 536 L64.1 536 L64.6 536 L65.1 536 L65.5 536 L66 536 L66.5 536 L67 536 L67.5 536 L68 536 L68.5 536 L69 536 L69.5 536 L69.9 536 L70.4 536 L70.9 536 L71.4 536 L71.9 536 L72.4 536 L72.9 536 L73.4 536 L73.8 536 L74.3 536 L74.8 536 L75.3 536 L75.8 536 L76.3 536 L76.8 536 L77.3 536 L77.8 536 L78.2 536 L78.7 536 L79.2 536 L79.7 535.9 L80.2 535.9 L80.7 535.9 L81.2 535.8 L81.7 535.7 L82.2 535.6 L82.6 535.5 L83.1 535.3 L83.6 535 L84.1 534.7 L84.6 534.4 L85.1 533.9 L85.6 533.2 L86.1 532.6 L86.5 531.8 L87 530.8 L87.5 529.7 L88 528.5 L88.5 527.1 L89 525.5 L89.5 523.5 L90 521.5 L90.5 519.1 L90.9 516.7 L91.4 513.2 L91.9 510 L92.4 505.9 L92.9 501.1 L93.4 496.6 L93.9 490.8 L94.4 484.6 L94.8 478.9 L95.3 473 L95.8 468.7 L96.3 464.1 L96.8 460.8 L97.3 456.9 L97.8 455.7 L98.3 455.2 L98.8 454.6 L99.2 456 L99.7 458.1 L100.2 462.1 L100.7 466.1 L101.2 469.5 L101.7 473.4 L102.2 477.2 L102.7 480.3 L103.1 483.5 L103.6 485.9 L104.1 487.4 L104.6 489.2 L105.1 491.4 L105.6 493.6 L106.1 495.3 L106.6 496.5 L107.1 496.3 L107.5 494.3 L108 491.2 L108.5 487.9 L109 483.1 L109.5 478.3 L110 474.4 L110.5 471.9 L111 471.1 L111.5 473.1 L111.9 476.3 L112.4 481.8 L112.9 487.7 L113.4 493.6 L113.9 499.7 L114.4 505.9 L114.9 511 L115.4 516.1 L115.8 520.9 L116.3 525.2 L116.8 528.6 L117.3 531.3 L117.8 533.2 L118.3 534.5 L118.8 535.2 L119.3 535.6 L119.8 535.8 L120.2 535.9 L120.7 536 L121.2 536 L121.7 536 L122.2 536 L122.7 536 L123.2 536 L123.7 536 L124.1 536 L124.6 536 L125.1 536 L125.6 536 L126.1 536" fill="none" stroke="#111111" stroke-width="0.85" stroke-linejoin="round"/>
<path d="M38.2 536 L38.7 536 L39.2 536 L39.7 536 L40.2 536 L40.6 536 L41.1 536 L41.6 536 L42.1 536 L42.6 536 L43.1 536 L43.6 536 L44.1 536 L44.5 536 L45 536 L45.5 536 L46 536 L46.5 536 L47 536 L47.5 536 L48 536 L48.5 536 L48.9 536 L49.4 536 L49.9 536 L50.4 536 L50.9 536 L51.4 536 L51.9 536 L52.4 536 L52.9 536 L53.3 536 L53.8 536 L54.3 536 L54.8 536 L55.3 536 L55.8 536 L56.3 536 L56.8 536 L57.2 536 L57.7 536 L58.2 536 L58.7 536 L59.2 536 L59.7 536 L60.2 536 L60.7 536 L61.2 536 L61.6 536 L62.1 536 L62.6 536 L63.1 536 L63.6 536 L64.1 536 L64.6 536 L65.1 536 L65.5 536 L66 536 L66.5 536 L67 536 L67.5 536 L68 536 L68.5 536 L69 536 L69.5 536 L69.9 536 L70.4 536 L70.9 536 L71.4 536 L71.9 536 L72.4 536 L72.9 536 L73.4 536 L73.8 536 L74.3 536 L74.8 536 L75.3 536 L75.8 536 L76.3 536 L76.8 536 L77.3 536 L77.8 536 L78.2 536 L78.7 536 L79.2 536 L79.7 535.9 L80.2 535.9 L80.7 535.9 L81.2 535.8 L81.7 535.7 L82.2 535.6 L82.6 535.5 L83.1 535.3 L83.6 535 L84.1 534.7 L84.6 534.4 L85.1 533.9 L85.6 533.3 L86.1 532.6 L86.5 531.8 L87 530.9 L87.5 529.7 L88 528.6 L88.5 527.2 L89 525.5 L89.5 523.8 L90 522 L90.5 519.8 L90.9 517.3 L91.4 514.6 L91.9 511.4 L92.4 507.8 L92.9 503.2 L93.4 498.8 L93.9 493.5 L94.4 487.6 L94.8 481.6 L95.3 476.6 L95.8 471.2 L96.3 466.9 L96.8 462.8 L97.3 459.5 L97.8 456.5 L98.3 454.6 L98.8 455.6 L99.2 458 L99.7 459.7 L100.2 463 L100.7 466.6 L101.2 468.7 L101.7 472.6 L102.2 475.1 L102.7 478.3 L103.1 480.3 L103.6 482.7 L104.1 486.3 L104.6 489.1 L105.1 490.7 L105.6 492.7 L106.1 494.6 L106.6 495.2 L107.1 494.9 L107.5 494 L108 491.7 L108.5 488.8 L109 484.7 L109.5 480.7 L110 476.5 L110.5 473.8 L111 473.8 L111.5 474.7 L111.9 478.6 L112.4 483.7 L112.9 488.8 L113.4 494.7 L113.9 500.2 L114.4 506 L114.9 511.3 L115.4 516.6 L115.8 521 L116.3 525.2 L116.8 528.6 L117.3 531.2 L117.8 533.1 L118.3 534.4 L118.8 535.2 L119.3 535.6 L119.8 535.8 L120.2 535.9 L120.7 536 L121.2 536 L121.7 536 L122.2 536 L122.7 536 L123.2 536 L123.7 536 L124.1 536 L124.6 536 L125.1 536 L125.6 536 L126.1 536" fill="none" stroke="#e9a23b" stroke-width="0.75" stroke-linejoin="round" stroke-dasharray="2.2 1.3"/>
<rect x="37.7" y="450" width="88.9" height="87.2" fill="none" stroke="#9a9a9a" stroke-width="0.8"/>
<text x="35.3" y="536.9" font-size="2.8" text-anchor="end" font-weight="normal" fill="#555" >0</text>
<text x="35.3" y="520.1" font-size="2.8" text-anchor="end" font-weight="normal" fill="#555" >20</text>
<text x="35.3" y="503.3" font-size="2.8" text-anchor="end" font-weight="normal" fill="#555" >40</text>
<text x="35.3" y="486.6" font-size="2.8" text-anchor="end" font-weight="normal" fill="#555" >60</text>
<text x="35.3" y="469.8" font-size="2.8" text-anchor="end" font-weight="normal" fill="#555" >80</text>
<text x="35.3" y="453" font-size="2.8" text-anchor="end" font-weight="normal" fill="#555" >100</text>
<text x="42.4" y="544.2" font-size="3.0" text-anchor="middle" font-weight="normal" fill="#666" >10<tspan font-size="2.2" dy="-1.3">0</tspan></text>
<text x="53.5" y="544.2" font-size="3.0" text-anchor="middle" font-weight="normal" fill="#666" >10<tspan font-size="2.2" dy="-1.3">1</tspan></text>
<text x="66" y="544.2" font-size="3.0" text-anchor="middle" font-weight="normal" fill="#666" >10<tspan font-size="2.2" dy="-1.3">2</tspan></text>
<text x="79.4" y="544.2" font-size="3.0" text-anchor="middle" font-weight="normal" fill="#666" >10<tspan font-size="2.2" dy="-1.3">3</tspan></text>
<text x="91.5" y="544.2" font-size="3.0" text-anchor="middle" font-weight="normal" fill="#666" >10<tspan font-size="2.2" dy="-1.3">4</tspan></text>
<text x="104.3" y="544.2" font-size="3.0" text-anchor="middle" font-weight="normal" fill="#666" >10<tspan font-size="2.2" dy="-1.3">5</tspan></text>
<text x="117" y="544.2" font-size="3.0" text-anchor="middle" font-weight="normal" fill="#666" >10<tspan font-size="2.2" dy="-1.3">6</tspan></text>
<path d="M38.1 536.2H126.2" stroke="#2a2a2a" stroke-width="0.9" fill="none"/>
<path d="M37.7 450V537.2H126.6" stroke="#555" stroke-width="0.7" fill="none"/>
<path d="M37.7 536h-1.6M37.7 519.2h-1.6M37.7 502.4h-1.6M37.7 485.7h-1.6M37.7 468.9h-1.6M37.7 452.1h-1.6M42.1 537.2v1.8M45.4 537.2v0.9M47.4 537.2v0.9M48.8 537.2v0.9M49.9 537.2v0.9M50.8 537.2v0.9M51.5 537.2v0.9M52.2 537.2v0.9M52.8 537.2v0.9M53.2 537.2v1.8M57 537.2v0.9M59.2 537.2v0.9M60.7 537.2v0.9M62 537.2v0.9M63 537.2v0.9M63.8 537.2v0.9M64.6 537.2v0.9M65.2 537.2v0.9M65.7 537.2v1.8M69.7 537.2v0.9M72.1 537.2v0.9M73.7 537.2v0.9M75.1 537.2v0.9M76.2 537.2v0.9M77.1 537.2v0.9M77.9 537.2v0.9M78.6 537.2v0.9M79.1 537.2v1.8M82.7 537.2v0.9M84.9 537.2v0.9M86.4 537.2v0.9M87.6 537.2v0.9M88.5 537.2v0.9M89.4 537.2v0.9M90.1 537.2v0.9M90.7 537.2v0.9M91.2 537.2v1.8M95 537.2v0.9M97.3 537.2v0.9M98.9 537.2v0.9M100.2 537.2v0.9M101.2 537.2v0.9M102.1 537.2v0.9M102.8 537.2v0.9M103.5 537.2v0.9M104 537.2v1.8M107.8 537.2v0.9M110.1 537.2v0.9M111.6 537.2v0.9M112.9 537.2v0.9M113.9 537.2v0.9M114.8 537.2v0.9M115.6 537.2v0.9M116.2 537.2v0.9M116.7 537.2v1.8" stroke="#333" stroke-width="0.5" fill="none"/>
<text x="41.1" y="457.6" font-size="7.6" text-anchor="start" font-weight="normal" fill="#111" stroke="#111" stroke-width="0.15">NB-EBc1</text>
<rect x="138.2" y="450" width="89.2" height="87.2" fill="#fff" stroke="#9a9a9a" stroke-width="0.8"/>
<path d="M138.7 535.9 L139.2 535.9 L139.7 535.9 L140.2 535.9 L140.7 535.9 L141.1 535.9 L141.6 535.9 L142.1 535.8 L142.6 535.8 L143.1 535.8 L143.6 535.7 L144.1 535.7 L144.6 535.6 L145.1 535.6 L145.6 535.5 L146 535.5 L146.5 535.4 L147 535.3 L147.5 535.2 L148 535.1 L148.5 535 L149 534.9 L149.5 534.8 L150 534.6 L150.5 534.4 L150.9 534.3 L151.4 534.1 L151.9 533.9 L152.4 533.7 L152.9 533.4 L153.4 533.2 L153.9 532.9 L154.4 532.6 L154.9 532.3 L155.4 532 L155.8 531.7 L156.3 531.3 L156.8 530.9 L157.3 530.5 L157.8 530 L158.3 529.6 L158.8 529.1 L159.3 528.7 L159.8 528.1 L160.3 527.5 L160.8 526.9 L161.2 526.3 L161.7 525.5 L162.2 524.8 L162.7 524 L163.2 523.2 L163.7 522.2 L164.2 521.3 L164.7 520.2 L165.2 519.2 L165.7 517.9 L166.1 516.6 L166.6 515.4 L167.1 514.1 L167.6 512.5 L168.1 511 L168.6 509.6 L169.1 508 L169.6 506.3 L170.1 504.1 L170.5 502.1 L171 499.3 L171.5 496.6 L172 493.1 L172.5 489.6 L173 485.2 L173.5 480.7 L174 476.1 L174.5 471.4 L175 466.7 L175.4 462.4 L175.9 459.2 L176.4 457 L176.9 455.4 L177.4 454.6 L177.9 456 L178.4 459.4 L178.9 462.9 L179.4 467.8 L179.9 473.3 L180.3 480.2 L180.8 486.5 L181.3 493.2 L181.8 499 L182.3 504.6 L182.8 509.6 L183.3 513.7 L183.8 517.5 L184.3 520.5 L184.8 523 L185.2 525.2 L185.7 527 L186.2 528.4 L186.7 529.6 L187.2 530.6 L187.7 531.5 L188.2 532.2 L188.7 532.8 L189.2 533.3 L189.7 533.8 L190.2 534.1 L190.6 534.5 L191.1 534.7 L191.6 535 L192.1 535.2 L192.6 535.3 L193.1 535.4 L193.6 535.5 L194.1 535.6 L194.6 535.7 L195.1 535.8 L195.5 535.8 L196 535.8 L196.5 535.9 L197 535.9 L197.5 535.9 L198 535.9 L198.5 536 L199 536 L199.5 536 L199.9 536 L200.4 536 L200.9 536 L201.4 536 L201.9 536 L202.4 536 L202.9 536 L203.4 536 L203.9 536 L204.4 536 L204.8 536 L205.3 536 L205.8 536 L206.3 536 L206.8 536 L207.3 536 L207.8 536 L208.3 536 L208.8 536 L209.3 536 L209.8 536 L210.2 536 L210.7 536 L211.2 536 L211.7 536 L212.2 536 L212.7 536 L213.2 536 L213.7 536 L214.2 536 L214.7 536 L215.1 536 L215.6 536 L216.1 536 L216.6 536 L217.1 536 L217.6 536 L218.1 536 L218.6 536 L219.1 536 L219.6 536 L220 536 L220.5 536 L221 536 L221.5 536 L222 536 L222.5 536 L223 536 L223.5 536 L224 536 L224.4 536 L224.9 536 L225.4 536 L225.9 536 L226.4 536 L226.9 536 L226.9 536 L138.7 536 Z" fill="#f2f2f2" stroke="none"/>
<path d="M138.7 535.9 L139.2 535.9 L139.7 535.9 L140.2 535.9 L140.7 535.9 L141.1 535.9 L141.6 535.9 L142.1 535.8 L142.6 535.8 L143.1 535.8 L143.6 535.7 L144.1 535.7 L144.6 535.6 L145.1 535.6 L145.6 535.5 L146 535.5 L146.5 535.4 L147 535.3 L147.5 535.2 L148 535.1 L148.5 535 L149 534.9 L149.5 534.8 L150 534.6 L150.5 534.4 L150.9 534.3 L151.4 534.1 L151.9 533.9 L152.4 533.7 L152.9 533.4 L153.4 533.2 L153.9 532.9 L154.4 532.6 L154.9 532.3 L155.4 532 L155.8 531.7 L156.3 531.3 L156.8 530.9 L157.3 530.5 L157.8 530 L158.3 529.6 L158.8 529.1 L159.3 528.7 L159.8 528.1 L160.3 527.5 L160.8 526.9 L161.2 526.3 L161.7 525.5 L162.2 524.8 L162.7 524 L163.2 523.2 L163.7 522.2 L164.2 521.3 L164.7 520.2 L165.2 519.2 L165.7 517.9 L166.1 516.6 L166.6 515.4 L167.1 514.1 L167.6 512.5 L168.1 511 L168.6 509.6 L169.1 508 L169.6 506.3 L170.1 504.1 L170.5 502.1 L171 499.3 L171.5 496.6 L172 493.1 L172.5 489.6 L173 485.2 L173.5 480.7 L174 476.1 L174.5 471.4 L175 466.7 L175.4 462.4 L175.9 459.2 L176.4 457 L176.9 455.4 L177.4 454.6 L177.9 456 L178.4 459.4 L178.9 462.9 L179.4 467.8 L179.9 473.3 L180.3 480.2 L180.8 486.5 L181.3 493.2 L181.8 499 L182.3 504.6 L182.8 509.6 L183.3 513.7 L183.8 517.5 L184.3 520.5 L184.8 523 L185.2 525.2 L185.7 527 L186.2 528.4 L186.7 529.6 L187.2 530.6 L187.7 531.5 L188.2 532.2 L188.7 532.8 L189.2 533.3 L189.7 533.8 L190.2 534.1 L190.6 534.5 L191.1 534.7 L191.6 535 L192.1 535.2 L192.6 535.3 L193.1 535.4 L193.6 535.5 L194.1 535.6 L194.6 535.7 L195.1 535.8 L195.5 535.8 L196 535.8 L196.5 535.9 L197 535.9 L197.5 535.9 L198 535.9 L198.5 536 L199 536 L199.5 536 L199.9 536 L200.4 536 L200.9 536 L201.4 536 L201.9 536 L202.4 536 L202.9 536 L203.4 536 L203.9 536 L204.4 536 L204.8 536 L205.3 536 L205.8 536 L206.3 536 L206.8 536 L207.3 536 L207.8 536 L208.3 536 L208.8 536 L209.3 536 L209.8 536 L210.2 536 L210.7 536 L211.2 536 L211.7 536 L212.2 536 L212.7 536 L213.2 536 L213.7 536 L214.2 536 L214.7 536 L215.1 536 L215.6 536 L216.1 536 L216.6 536 L217.1 536 L217.6 536 L218.1 536 L218.6 536 L219.1 536 L219.6 536 L220 536 L220.5 536 L221 536 L221.5 536 L222 536 L222.5 536 L223 536 L223.5 536 L224 536 L224.4 536 L224.9 536 L225.4 536 L225.9 536 L226.4 536 L226.9 536" fill="none" stroke="#b4b4b4" stroke-width="0.6" stroke-linejoin="round"/>
<path d="M138.7 536 L139.2 536 L139.7 536 L140.2 536 L140.7 536 L141.1 536 L141.6 536 L142.1 536 L142.6 536 L143.1 536 L143.6 536 L144.1 536 L144.6 536 L145.1 536 L145.6 536 L146 536 L146.5 536 L147 536 L147.5 536 L148 536 L148.5 536 L149 536 L149.5 536 L150 536 L150.5 536 L150.9 536 L151.4 536 L151.9 536 L152.4 536 L152.9 536 L153.4 536 L153.9 536 L154.4 536 L154.9 536 L155.4 536 L155.8 536 L156.3 536 L156.8 536 L157.3 536 L157.8 536 L158.3 536 L158.8 536 L159.3 536 L159.8 536 L160.3 536 L160.8 536 L161.2 536 L161.7 535.9 L162.2 535.9 L162.7 535.9 L163.2 535.9 L163.7 535.8 L164.2 535.8 L164.7 535.7 L165.2 535.7 L165.7 535.6 L166.1 535.5 L166.6 535.4 L167.1 535.2 L167.6 535.1 L168.1 534.9 L168.6 534.7 L169.1 534.4 L169.6 534.1 L170.1 533.8 L170.5 533.5 L171 533.1 L171.5 532.7 L172 532.2 L172.5 531.8 L173 531.2 L173.5 530.6 L174 529.9 L174.5 529.2 L175 528.5 L175.4 527.4 L175.9 526.4 L176.4 525 L176.9 523.5 L177.4 521.2 L177.9 518.6 L178.4 515.5 L178.9 512 L179.4 507.4 L179.9 502.3 L180.3 496.4 L180.8 490.3 L181.3 483.3 L181.8 476.9 L182.3 470.8 L182.8 465.4 L183.3 459.6 L183.8 456.6 L184.3 454.7 L184.8 454.6 L185.2 454.8 L185.7 457.3 L186.2 461.5 L186.7 468.1 L187.2 474.4 L187.7 481.5 L188.2 489.2 L188.7 496.6 L189.2 502.5 L189.7 509 L190.2 514.5 L190.6 519.1 L191.1 522.9 L191.6 526.2 L192.1 528.6 L192.6 530.5 L193.1 531.9 L193.6 533.1 L194.1 533.9 L194.6 534.4 L195.1 534.8 L195.5 535.1 L196 535.3 L196.5 535.5 L197 535.6 L197.5 535.7 L198 535.8 L198.5 535.8 L199 535.9 L199.5 535.9 L199.9 535.9 L200.4 535.9 L200.9 536 L201.4 536 L201.9 536 L202.4 536 L202.9 536 L203.4 536 L203.9 536 L204.4 536 L204.8 536 L205.3 536 L205.8 536 L206.3 536 L206.8 536 L207.3 536 L207.8 536 L208.3 536 L208.8 536 L209.3 536 L209.8 536 L210.2 536 L210.7 536 L211.2 536 L211.7 536 L212.2 536 L212.7 536 L213.2 536 L213.7 536 L214.2 536 L214.7 536 L215.1 536 L215.6 536 L216.1 536 L216.6 536 L217.1 536 L217.6 536 L218.1 536 L218.6 536 L219.1 536 L219.6 536 L220 536 L220.5 536 L221 536 L221.5 536 L222 536 L222.5 536 L223 536 L223.5 536 L224 536 L224.4 536 L224.9 536 L225.4 536 L225.9 536 L226.4 536 L226.9 536" fill="none" stroke="#2f78c0" stroke-width="0.75" stroke-linejoin="round"/>
<path d="M138.7 536 L139.2 536 L139.7 536 L140.2 536 L140.7 536 L141.1 536 L141.6 536 L142.1 536 L142.6 536 L143.1 536 L143.6 536 L144.1 536 L144.6 536 L145.1 536 L145.6 536 L146 536 L146.5 536 L147 536 L147.5 536 L148 536 L148.5 536 L149 536 L149.5 536 L150 536 L150.5 536 L150.9 536 L151.4 536 L151.9 536 L152.4 536 L152.9 536 L153.4 536 L153.9 536 L154.4 536 L154.9 536 L155.4 536 L155.8 536 L156.3 536 L156.8 536 L157.3 536 L157.8 536 L158.3 535.9 L158.8 535.9 L159.3 535.9 L159.8 535.9 L160.3 535.9 L160.8 535.8 L161.2 535.8 L161.7 535.7 L162.2 535.6 L162.7 535.6 L163.2 535.5 L163.7 535.4 L164.2 535.2 L164.7 535.1 L165.2 534.9 L165.7 534.7 L166.1 534.4 L166.6 534.1 L167.1 533.8 L167.6 533.5 L168.1 533.1 L168.6 532.7 L169.1 532.3 L169.6 531.8 L170.1 531.3 L170.5 530.8 L171 530.1 L171.5 529.4 L172 528.8 L172.5 528.1 L173 527.1 L173.5 526.1 L174 524.9 L174.5 523.3 L175 521.1 L175.4 518.9 L175.9 516 L176.4 512.5 L176.9 507.9 L177.4 503.4 L177.9 498.1 L178.4 492.3 L178.9 485.6 L179.4 479 L179.9 473.1 L180.3 467.3 L180.8 463.1 L181.3 459.2 L181.8 455.3 L182.3 454.6 L182.8 456.3 L183.3 458 L183.8 462.8 L184.3 468.9 L184.8 475.9 L185.2 483 L185.7 490.1 L186.2 497.1 L186.7 503.1 L187.2 509.4 L187.7 514.9 L188.2 519.3 L188.7 523 L189.2 526.3 L189.7 528.7 L190.2 530.7 L190.6 532.1 L191.1 533.2 L191.6 534 L192.1 534.5 L192.6 535 L193.1 535.2 L193.6 535.5 L194.1 535.6 L194.6 535.7 L195.1 535.8 L195.5 535.8 L196 535.9 L196.5 535.9 L197 535.9 L197.5 535.9 L198 536 L198.5 536 L199 536 L199.5 536 L199.9 536 L200.4 536 L200.9 536 L201.4 536 L201.9 536 L202.4 536 L202.9 536 L203.4 536 L203.9 536 L204.4 536 L204.8 536 L205.3 536 L205.8 536 L206.3 536 L206.8 536 L207.3 536 L207.8 536 L208.3 536 L208.8 536 L209.3 536 L209.8 536 L210.2 536 L210.7 536 L211.2 536 L211.7 536 L212.2 536 L212.7 536 L213.2 536 L213.7 536 L214.2 536 L214.7 536 L215.1 536 L215.6 536 L216.1 536 L216.6 536 L217.1 536 L217.6 536 L218.1 536 L218.6 536 L219.1 536 L219.6 536 L220 536 L220.5 536 L221 536 L221.5 536 L222 536 L222.5 536 L223 536 L223.5 536 L224 536 L224.4 536 L224.9 536 L225.4 536 L225.9 536 L226.4 536 L226.9 536" fill="none" stroke="#cc2a2a" stroke-width="0.75" stroke-linejoin="round"/>
<path d="M138.7 536 L139.1 536 L139.6 536 L140 536 L140.5 536 L140.9 536 L141.3 536 L141.8 536 L142.2 536 L142.7 536 L143.1 536 L143.6 536 L144 536 L144.4 536 L144.9 536 L145.3 536 L145.8 536 L146.2 536 L146.6 536 L147.1 536 L147.5 536 L148 536 L148.4 536 L148.8 536 L149.3 536 L149.7 536 L150.2 536 L150.6 536 L151 536 L151.5 536 L151.9 536 L152.4 536 L152.8 536 L153.3 536 L153.7 536 L154.1 536 L154.6 536 L155 536 L155.5 536 L155.9 536 L156.3 536 L156.8 536 L157.2 536 L157.7 536 L158.1 536 L158.5 536 L159 536 L159.4 536 L159.9 536 L160.3 536 L160.8 536 L161.2 536 L161.6 536 L162.1 536 L162.5 536 L163 536 L163.4 536 L163.8 536 L164.3 536 L164.7 536 L165.2 536 L165.6 536 L166 536 L166.5 536 L166.9 536 L167.4 536 L167.8 536 L168.2 536 L168.7 536 L169.1 536 L169.6 536 L170 536 L170.5 536 L170.9 536 L171.3 536 L171.8 536 L172.2 536 L172.7 536 L173.1 536 L173.5 536 L174 536 L174.4 536 L174.9 536 L175.3 536 L175.7 536 L176.2 536 L176.6 535.9 L177.1 535.8 L177.5 535.6 L177.9 535.3 L178.4 535 L178.8 534.7 L179.3 534.3 L179.7 533.8 L180.2 533.3 L180.6 532.7 L181 531.8 L181.5 530.7 L181.9 529.4 L182.4 528 L182.8 526.2 L183.2 524.2 L183.7 521.9 L184.1 518.7 L184.6 515.9 L185 511.2 L185.4 506.6 L185.9 501.5 L186.3 496.2 L186.8 491.2 L187.2 484.6 L187.7 476.4 L188.1 470.3 L188.5 464.7 L189 461.1 L189.4 458.4 L189.9 456.2 L190.3 454.6 L190.7 454.7 L191.2 456.6 L191.6 459.3 L192.1 461.7 L192.5 463.5 L192.9 466.6 L193.4 471 L193.8 473.7 L194.3 477.4 L194.7 481.6 L195.1 484.8 L195.6 489.1 L196 492.7 L196.5 495 L196.9 496.4 L197.4 498.2 L197.8 499.9 L198.2 500.8 L198.7 502.4 L199.1 503 L199.6 504.7 L200 504.8 L200.4 506 L200.9 506.2 L201.3 506.2 L201.8 506.7 L202.2 507.2 L202.6 507.7 L203.1 507.8 L203.5 508.6 L204 509.4 L204.4 509.4 L204.8 509.6 L205.3 510.4 L205.7 510.4 L206.2 510.5 L206.6 511.2 L207.1 510.9 L207.5 510.7 L207.9 511.4 L208.4 511 L208.8 510.8 L209.3 511.2 L209.7 512.1 L210.1 513 L210.6 514 L211 515.3 L211.5 516.6 L211.9 520.2 L212.3 522.3 L212.8 524.7 L213.2 527.2 L213.7 529.8 L214.1 531.5 L214.6 532.8 L215 533.8 L215.4 534.6 L215.9 535.1 L216.3 535.2 L216.8 535.3 L217.2 535.3 L217.6 535.4 L218.1 535.4 L218.5 535.5 L219 535.6 L219.4 535.6 L219.8 535.6 L220.3 535.6 L220.7 535.7 L221.2 535.7 L221.6 535.7 L222 535.7 L222.5 535.8 L222.9 535.8 L223.4 535.8 L223.8 535.8 L224.3 535.8 L224.7 535.8 L225.1 535.9 L225.6 535.9 L226 535.9 L226.5 535.9 L226.9 535.9" fill="none" stroke="#e9a23b" stroke-width="0.75" stroke-linejoin="round"/>
<path d="M138.7 536 L139.1 536 L139.6 536 L140 536 L140.5 536 L140.9 536 L141.3 536 L141.8 536 L142.2 536 L142.7 536 L143.1 536 L143.6 536 L144 536 L144.4 536 L144.9 536 L145.3 536 L145.8 536 L146.2 536 L146.6 536 L147.1 536 L147.5 536 L148 536 L148.4 536 L148.8 536 L149.3 536 L149.7 536 L150.2 536 L150.6 536 L151 536 L151.5 536 L151.9 536 L152.4 536 L152.8 536 L153.3 536 L153.7 536 L154.1 536 L154.6 536 L155 536 L155.5 536 L155.9 536 L156.3 536 L156.8 536 L157.2 536 L157.7 536 L158.1 536 L158.5 536 L159 536 L159.4 536 L159.9 536 L160.3 536 L160.8 536 L161.2 536 L161.6 536 L162.1 536 L162.5 536 L163 536 L163.4 536 L163.8 536 L164.3 536 L164.7 536 L165.2 536 L165.6 536 L166 536 L166.5 536 L166.9 536 L167.4 536 L167.8 536 L168.2 536 L168.7 536 L169.1 536 L169.6 536 L170 536 L170.5 536 L170.9 536 L171.3 536 L171.8 536 L172.2 536 L172.7 536 L173.1 536 L173.5 536 L174 536 L174.4 536 L174.9 536 L175.3 536 L175.7 536 L176.2 536 L176.6 536 L177.1 536 L177.5 536 L177.9 536 L178.4 536 L178.8 535.9 L179.3 535.9 L179.7 535.8 L180.2 535.7 L180.6 535.5 L181 535.3 L181.5 535.1 L181.9 534.8 L182.4 534.7 L182.8 534.5 L183.2 534.2 L183.7 533.8 L184.1 533.3 L184.6 532.5 L185 531.4 L185.4 530.7 L185.9 529.3 L186.3 527.9 L186.8 526.5 L187.2 525.1 L187.7 523.4 L188.1 520.5 L188.5 517.2 L189 513.4 L189.4 511.3 L189.9 507.8 L190.3 505.3 L190.7 501.5 L191.2 498.1 L191.6 494.8 L192.1 491.2 L192.5 485.2 L192.9 482.5 L193.4 480.1 L193.8 478.8 L194.3 478.4 L194.7 477.7 L195.1 477.5 L195.6 477.1 L196 477.8 L196.5 476.6 L196.9 475.6 L197.4 474.5 L197.8 474.7 L198.2 473.6 L198.7 471.1 L199.1 469 L199.6 468.7 L200 467 L200.4 465.8 L200.9 463.1 L201.3 461.6 L201.8 460.1 L202.2 459.2 L202.6 457.7 L203.1 456.1 L203.5 455.4 L204 456 L204.4 455.7 L204.8 454.8 L205.3 455.9 L205.7 454.2 L206.2 455.7 L206.6 454.9 L207.1 455.8 L207.5 454.1 L207.9 454 L208.4 455.2 L208.8 455.2 L209.3 454.4 L209.7 454 L210.1 454.6 L210.6 455.5 L211 456.6 L211.5 457.7 L211.9 460.5 L212.3 463 L212.8 465.8 L213.2 472.1 L213.7 480.3 L214.1 487.6 L214.6 497.4 L215 506.5 L215.4 514.4 L215.9 522.8 L216.3 529.9 L216.8 532 L217.2 532.5 L217.6 533.1 L218.1 533.3 L218.5 533.5 L219 533.6 L219.4 533.9 L219.8 534.1 L220.3 534.2 L220.7 534.4 L221.2 535.1 L221.6 535.7 L222 536 L222.5 536 L222.9 536 L223.4 536 L223.8 536 L224.3 536 L224.7 536 L225.1 536 L225.6 536 L226 536 L226.5 536 L226.9 536" fill="none" stroke="#111111" stroke-width="0.85" stroke-linejoin="round"/>
<rect x="138.2" y="450" width="89.2" height="87.2" fill="none" stroke="#9a9a9a" stroke-width="0.8"/>
<text x="135.8" y="536.9" font-size="2.8" text-anchor="end" font-weight="normal" fill="#555" >0</text>
<text x="135.8" y="520.1" font-size="2.8" text-anchor="end" font-weight="normal" fill="#555" >20</text>
<text x="135.8" y="503.3" font-size="2.8" text-anchor="end" font-weight="normal" fill="#555" >40</text>
<text x="135.8" y="486.6" font-size="2.8" text-anchor="end" font-weight="normal" fill="#555" >60</text>
<text x="135.8" y="469.8" font-size="2.8" text-anchor="end" font-weight="normal" fill="#555" >80</text>
<text x="135.8" y="453" font-size="2.8" text-anchor="end" font-weight="normal" fill="#555" >100</text>
<text x="142.9" y="544.2" font-size="3.0" text-anchor="middle" font-weight="normal" fill="#666" >10<tspan font-size="2.2" dy="-1.3">0</tspan></text>
<text x="154" y="544.2" font-size="3.0" text-anchor="middle" font-weight="normal" fill="#666" >10<tspan font-size="2.2" dy="-1.3">1</tspan></text>
<text x="166.5" y="544.2" font-size="3.0" text-anchor="middle" font-weight="normal" fill="#666" >10<tspan font-size="2.2" dy="-1.3">2</tspan></text>
<text x="179.9" y="544.2" font-size="3.0" text-anchor="middle" font-weight="normal" fill="#666" >10<tspan font-size="2.2" dy="-1.3">3</tspan></text>
<text x="192" y="544.2" font-size="3.0" text-anchor="middle" font-weight="normal" fill="#666" >10<tspan font-size="2.2" dy="-1.3">4</tspan></text>
<text x="204.8" y="544.2" font-size="3.0" text-anchor="middle" font-weight="normal" fill="#666" >10<tspan font-size="2.2" dy="-1.3">5</tspan></text>
<text x="217.5" y="544.2" font-size="3.0" text-anchor="middle" font-weight="normal" fill="#666" >10<tspan font-size="2.2" dy="-1.3">6</tspan></text>
<path d="M138.6 536.2H227" stroke="#2a2a2a" stroke-width="0.9" fill="none"/>
<path d="M138.2 450V537.2H227.4" stroke="#555" stroke-width="0.7" fill="none"/>
<path d="M138.2 536h-1.6M138.2 519.2h-1.6M138.2 502.4h-1.6M138.2 485.7h-1.6M138.2 468.9h-1.6M138.2 452.1h-1.6M142.6 537.2v1.8M145.9 537.2v0.9M147.9 537.2v0.9M149.3 537.2v0.9M150.4 537.2v0.9M151.3 537.2v0.9M152 537.2v0.9M152.7 537.2v0.9M153.3 537.2v0.9M153.7 537.2v1.8M157.4 537.2v0.9M159.7 537.2v0.9M161.2 537.2v0.9M162.4 537.2v0.9M163.4 537.2v0.9M164.3 537.2v0.9M165.1 537.2v0.9M165.7 537.2v0.9M166.2 537.2v1.8M170.2 537.2v0.9M172.6 537.2v0.9M174.2 537.2v0.9M175.6 537.2v0.9M176.7 537.2v0.9M177.6 537.2v0.9M178.4 537.2v0.9M179.1 537.2v0.9M179.6 537.2v1.8M183.2 537.2v0.9M185.4 537.2v0.9M186.9 537.2v0.9M188.1 537.2v0.9M189 537.2v0.9M189.9 537.2v0.9M190.6 537.2v0.9M191.2 537.2v0.9M191.7 537.2v1.8M195.5 537.2v0.9M197.8 537.2v0.9M199.4 537.2v0.9M200.7 537.2v0.9M201.7 537.2v0.9M202.6 537.2v0.9M203.3 537.2v0.9M204 537.2v0.9M204.5 537.2v1.8M208.3 537.2v0.9M210.6 537.2v0.9M212.1 537.2v0.9M213.4 537.2v0.9M214.4 537.2v0.9M215.3 537.2v0.9M216.1 537.2v0.9M216.7 537.2v0.9M217.2 537.2v1.8" stroke="#333" stroke-width="0.5" fill="none"/>
<text x="141.6" y="457.6" font-size="7.5" text-anchor="start" font-weight="normal" fill="#111" stroke="#111" stroke-width="0.15">NBL-S</text>
<rect x="37.9" y="551.2" width="90.2" height="89.4" fill="#fff" stroke="#9a9a9a" stroke-width="0.8"/>
<path d="M38.4 639.2 L38.9 639.1 L39.4 639.1 L39.9 639 L40.4 639 L40.9 638.9 L41.4 638.8 L41.9 638.7 L42.4 638.7 L42.9 638.6 L43.4 638.4 L43.9 638.3 L44.3 638.2 L44.8 638.1 L45.3 637.9 L45.8 637.7 L46.3 637.5 L46.8 637.3 L47.3 637.1 L47.8 636.9 L48.3 636.7 L48.8 636.4 L49.3 636.1 L49.8 635.9 L50.3 635.6 L50.8 635.3 L51.3 634.9 L51.8 634.6 L52.3 634.2 L52.8 633.8 L53.3 633.3 L53.8 632.9 L54.3 632.5 L54.8 632 L55.2 631.5 L55.7 630.9 L56.2 630.3 L56.7 629.8 L57.2 629.2 L57.7 628.5 L58.2 627.7 L58.7 626.9 L59.2 626 L59.7 625.1 L60.2 624 L60.7 623 L61.2 621.8 L61.7 620.5 L62.2 619.2 L62.7 617.6 L63.2 616.2 L63.7 614.5 L64.2 612.8 L64.7 611 L65.2 609.1 L65.7 607.3 L66.2 604.8 L66.6 601.9 L67.1 598.8 L67.6 595.4 L68.1 591.3 L68.6 587.2 L69.1 582.1 L69.6 577.2 L70.1 572.6 L70.6 568.5 L71.1 564 L71.6 560.7 L72.1 560 L72.6 559.8 L73.1 561.8 L73.6 565.6 L74.1 570.4 L74.6 575.8 L75.1 582 L75.6 589.4 L76.1 596 L76.6 602.8 L77.1 608.5 L77.5 613.8 L78 618.2 L78.5 621.9 L79 625.1 L79.5 627.6 L80 629.8 L80.5 631.6 L81 632.9 L81.5 634 L82 635 L82.5 635.7 L83 636.3 L83.5 636.9 L84 637.3 L84.5 637.7 L85 638 L85.5 638.2 L86 638.4 L86.5 638.6 L87 638.8 L87.5 638.9 L88 639 L88.5 639.1 L88.9 639.1 L89.4 639.2 L89.9 639.2 L90.4 639.3 L90.9 639.3 L91.4 639.3 L91.9 639.3 L92.4 639.3 L92.9 639.4 L93.4 639.4 L93.9 639.4 L94.4 639.4 L94.9 639.4 L95.4 639.4 L95.9 639.4 L96.4 639.4 L96.9 639.4 L97.4 639.4 L97.9 639.4 L98.4 639.4 L98.9 639.4 L99.4 639.4 L99.8 639.4 L100.3 639.4 L100.8 639.4 L101.3 639.4 L101.8 639.4 L102.3 639.4 L102.8 639.4 L103.3 639.4 L103.8 639.4 L104.3 639.4 L104.8 639.4 L105.3 639.4 L105.8 639.4 L106.3 639.4 L106.8 639.4 L107.3 639.4 L107.8 639.4 L108.3 639.4 L108.8 639.4 L109.3 639.4 L109.8 639.4 L110.3 639.4 L110.8 639.4 L111.2 639.4 L111.7 639.4 L112.2 639.4 L112.7 639.4 L113.2 639.4 L113.7 639.4 L114.2 639.4 L114.7 639.4 L115.2 639.4 L115.7 639.4 L116.2 639.4 L116.7 639.4 L117.2 639.4 L117.7 639.4 L118.2 639.4 L118.7 639.4 L119.2 639.4 L119.7 639.4 L120.2 639.4 L120.7 639.4 L121.2 639.4 L121.7 639.4 L122.1 639.4 L122.6 639.4 L123.1 639.4 L123.6 639.4 L124.1 639.4 L124.6 639.4 L125.1 639.4 L125.6 639.4 L126.1 639.4 L126.6 639.4 L127.1 639.4 L127.6 639.4 L127.6 639.4 L38.4 639.4 Z" fill="#e6e6e6" stroke="none"/>
<path d="M38.4 639.2 L38.9 639.1 L39.4 639.1 L39.9 639 L40.4 639 L40.9 638.9 L41.4 638.8 L41.9 638.7 L42.4 638.7 L42.9 638.6 L43.4 638.4 L43.9 638.3 L44.3 638.2 L44.8 638.1 L45.3 637.9 L45.8 637.7 L46.3 637.5 L46.8 637.3 L47.3 637.1 L47.8 636.9 L48.3 636.7 L48.8 636.4 L49.3 636.1 L49.8 635.9 L50.3 635.6 L50.8 635.3 L51.3 634.9 L51.8 634.6 L52.3 634.2 L52.8 633.8 L53.3 633.3 L53.8 632.9 L54.3 632.5 L54.8 632 L55.2 631.5 L55.7 630.9 L56.2 630.3 L56.7 629.8 L57.2 629.2 L57.7 628.5 L58.2 627.7 L58.7 626.9 L59.2 626 L59.7 625.1 L60.2 624 L60.7 623 L61.2 621.8 L61.7 620.5 L62.2 619.2 L62.7 617.6 L63.2 616.2 L63.7 614.5 L64.2 612.8 L64.7 611 L65.2 609.1 L65.7 607.3 L66.2 604.8 L66.6 601.9 L67.1 598.8 L67.6 595.4 L68.1 591.3 L68.6 587.2 L69.1 582.1 L69.6 577.2 L70.1 572.6 L70.6 568.5 L71.1 564 L71.6 560.7 L72.1 560 L72.6 559.8 L73.1 561.8 L73.6 565.6 L74.1 570.4 L74.6 575.8 L75.1 582 L75.6 589.4 L76.1 596 L76.6 602.8 L77.1 608.5 L77.5 613.8 L78 618.2 L78.5 621.9 L79 625.1 L79.5 627.6 L80 629.8 L80.5 631.6 L81 632.9 L81.5 634 L82 635 L82.5 635.7 L83 636.3 L83.5 636.9 L84 637.3 L84.5 637.7 L85 638 L85.5 638.2 L86 638.4 L86.5 638.6 L87 638.8 L87.5 638.9 L88 639 L88.5 639.1 L88.9 639.1 L89.4 639.2 L89.9 639.2 L90.4 639.3 L90.9 639.3 L91.4 639.3 L91.9 639.3 L92.4 639.3 L92.9 639.4 L93.4 639.4 L93.9 639.4 L94.4 639.4 L94.9 639.4 L95.4 639.4 L95.9 639.4 L96.4 639.4 L96.9 639.4 L97.4 639.4 L97.9 639.4 L98.4 639.4 L98.9 639.4 L99.4 639.4 L99.8 639.4 L100.3 639.4 L100.8 639.4 L101.3 639.4 L101.8 639.4 L102.3 639.4 L102.8 639.4 L103.3 639.4 L103.8 639.4 L104.3 639.4 L104.8 639.4 L105.3 639.4 L105.8 639.4 L106.3 639.4 L106.8 639.4 L107.3 639.4 L107.8 639.4 L108.3 639.4 L108.8 639.4 L109.3 639.4 L109.8 639.4 L110.3 639.4 L110.8 639.4 L111.2 639.4 L111.7 639.4 L112.2 639.4 L112.7 639.4 L113.2 639.4 L113.7 639.4 L114.2 639.4 L114.7 639.4 L115.2 639.4 L115.7 639.4 L116.2 639.4 L116.7 639.4 L117.2 639.4 L117.7 639.4 L118.2 639.4 L118.7 639.4 L119.2 639.4 L119.7 639.4 L120.2 639.4 L120.7 639.4 L121.2 639.4 L121.7 639.4 L122.1 639.4 L122.6 639.4 L123.1 639.4 L123.6 639.4 L124.1 639.4 L124.6 639.4 L125.1 639.4 L125.6 639.4 L126.1 639.4 L126.6 639.4 L127.1 639.4 L127.6 639.4" fill="none" stroke="#b4b4b4" stroke-width="0.6" stroke-linejoin="round"/>
<path d="M38.4 639.4 L38.8 639.4 L39.3 639.4 L39.7 639.4 L40.2 639.4 L40.6 639.4 L41.1 639.4 L41.5 639.4 L42 639.4 L42.4 639.4 L42.9 639.4 L43.3 639.4 L43.8 639.4 L44.2 639.4 L44.6 639.4 L45.1 639.4 L45.5 639.4 L46 639.4 L46.4 639.4 L46.9 639.4 L47.3 639.4 L47.8 639.4 L48.2 639.4 L48.7 639.4 L49.1 639.4 L49.5 639.4 L50 639.4 L50.4 639.4 L50.9 639.4 L51.3 639.4 L51.8 639.4 L52.2 639.4 L52.7 639.4 L53.1 639.4 L53.6 639.4 L54 639.4 L54.5 639.4 L54.9 639.4 L55.3 639.4 L55.8 639.4 L56.2 639.4 L56.7 639.4 L57.1 639.4 L57.6 639.4 L58 639.4 L58.5 639.4 L58.9 639.4 L59.4 639.4 L59.8 639.4 L60.3 639.4 L60.7 639.4 L61.1 639.4 L61.6 639.4 L62 639.4 L62.5 639.4 L62.9 639.4 L63.4 639.4 L63.8 639.4 L64.3 639.4 L64.7 639.4 L65.2 639.4 L65.6 639.4 L66.1 639.4 L66.5 639.4 L66.9 639.4 L67.4 639.4 L67.8 639.4 L68.3 639.4 L68.7 639.4 L69.2 639.4 L69.6 639.4 L70.1 639.4 L70.5 639.4 L71 639.4 L71.4 639.4 L71.8 639.4 L72.3 639.4 L72.7 639.4 L73.2 639.4 L73.6 639.4 L74.1 639.4 L74.5 639.4 L75 639.4 L75.4 639.4 L75.9 639.4 L76.3 639.4 L76.8 639.3 L77.2 639.2 L77.6 639 L78.1 638.8 L78.5 638.6 L79 638.3 L79.4 638 L79.9 637.7 L80.3 637.3 L80.8 636.9 L81.2 636.5 L81.7 635.9 L82.1 635.2 L82.6 634.4 L83 633.5 L83.4 632.5 L83.9 631.4 L84.3 630.1 L84.8 628.7 L85.2 627.2 L85.7 625.2 L86.1 622.8 L86.6 619.8 L87 616.9 L87.5 613.7 L87.9 610 L88.4 606.4 L88.8 601.6 L89.2 596.8 L89.7 591.7 L90.1 585.8 L90.6 580.1 L91 573.5 L91.5 568.6 L91.9 563.6 L92.4 558.7 L92.8 556.2 L93.3 557.2 L93.7 561.1 L94.1 566 L94.6 573.1 L95 583 L95.5 591.6 L95.9 598.6 L96.4 606 L96.8 611.5 L97.3 616.4 L97.7 620.1 L98.2 623.5 L98.6 625.7 L99.1 627.5 L99.5 629.1 L99.9 629.6 L100.4 629.9 L100.8 630.1 L101.3 630.4 L101.7 630.6 L102.2 630.7 L102.6 630.8 L103.1 630.7 L103.5 630.8 L104 630.4 L104.4 630 L104.9 629.8 L105.3 629.4 L105.7 629.1 L106.2 628.8 L106.6 628.6 L107.1 628.3 L107.5 627.9 L108 627.4 L108.4 626.5 L108.9 626.2 L109.3 625.8 L109.8 625.4 L110.2 624.8 L110.7 624.7 L111.1 624.7 L111.5 625 L112 625.3 L112.4 625.7 L112.9 626 L113.3 626.4 L113.8 626.4 L114.2 627.2 L114.7 628.5 L115.1 629.9 L115.6 631.4 L116 632.6 L116.4 633.8 L116.9 634.9 L117.3 636.2 L117.8 637.1 L118.2 637.7 L118.7 638.1 L119.1 638.5 L119.6 638.8 L120 639.1 L120.5 639.3 L120.9 639.4 L121.4 639.4 L121.8 639.4 L122.2 639.4 L122.7 639.4 L123.1 639.4 L123.6 639.4 L124 639.4 L124.5 639.4 L124.9 639.4 L125.4 639.4 L125.8 639.4 L126.3 639.4 L126.7 639.4 L127.2 639.4 L127.6 639.4" fill="none" stroke="#2f78c0" stroke-width="0.75" stroke-linejoin="round"/>
<path d="M38.4 639.4 L38.8 639.4 L39.3 639.4 L39.7 639.4 L40.2 639.4 L40.6 639.4 L41.1 639.4 L41.5 639.4 L42 639.4 L42.4 639.4 L42.9 639.4 L43.3 639.4 L43.8 639.4 L44.2 639.4 L44.6 639.4 L45.1 639.4 L45.5 639.4 L46 639.4 L46.4 639.4 L46.9 639.4 L47.3 639.4 L47.8 639.4 L48.2 639.4 L48.7 639.4 L49.1 639.4 L49.5 639.4 L50 639.4 L50.4 639.4 L50.9 639.4 L51.3 639.4 L51.8 639.4 L52.2 639.4 L52.7 639.4 L53.1 639.4 L53.6 639.4 L54 639.4 L54.5 639.4 L54.9 639.4 L55.3 639.4 L55.8 639.4 L56.2 639.4 L56.7 639.4 L57.1 639.4 L57.6 639.4 L58 639.4 L58.5 639.4 L58.9 639.4 L59.4 639.4 L59.8 639.4 L60.3 639.4 L60.7 639.4 L61.1 639.4 L61.6 639.4 L62 639.4 L62.5 639.4 L62.9 639.4 L63.4 639.4 L63.8 639.4 L64.3 639.4 L64.7 639.4 L65.2 639.4 L65.6 639.4 L66.1 639.4 L66.5 639.4 L66.9 639.4 L67.4 639.4 L67.8 639.4 L68.3 639.4 L68.7 639.4 L69.2 639.4 L69.6 639.4 L70.1 639.4 L70.5 639.4 L71 639.4 L71.4 639.4 L71.8 639.4 L72.3 639.4 L72.7 639.4 L73.2 639.4 L73.6 639.4 L74.1 639.4 L74.5 639.4 L75 639.4 L75.4 639.4 L75.9 639.4 L76.3 639.4 L76.8 639.4 L77.2 639.4 L77.6 639.4 L78.1 639.4 L78.5 639.4 L79 639.4 L79.4 639.4 L79.9 639.3 L80.3 639.2 L80.8 639.1 L81.2 639 L81.7 638.8 L82.1 638.6 L82.6 638.4 L83 638.2 L83.4 637.9 L83.9 637.5 L84.3 637 L84.8 636.3 L85.2 635.6 L85.7 635 L86.1 634.1 L86.6 633.3 L87 632 L87.5 630.7 L87.9 629.5 L88.4 627.8 L88.8 626.5 L89.2 624.6 L89.7 622.8 L90.1 620.9 L90.6 617.5 L91 615.4 L91.5 611.3 L91.9 607.5 L92.4 602.9 L92.8 598.9 L93.3 592.8 L93.7 586.8 L94.1 580.7 L94.6 574.1 L95 568.6 L95.5 563.6 L95.9 559.9 L96.4 556.3 L96.8 556.4 L97.3 559.3 L97.7 564 L98.2 568.5 L98.6 574.3 L99.1 579.5 L99.5 584.4 L99.9 588.1 L100.4 591.9 L100.8 594.6 L101.3 597.2 L101.7 599.4 L102.2 601.1 L102.6 602 L103.1 600.9 L103.5 601.2 L104 600.4 L104.4 600.9 L104.9 600.5 L105.3 600.7 L105.7 600.6 L106.2 599.8 L106.6 599.5 L107.1 598.7 L107.5 599.3 L108 599.4 L108.4 599.7 L108.9 599.5 L109.3 598 L109.8 597.8 L110.2 597.6 L110.7 597.6 L111.1 596.8 L111.5 596.2 L112 596.4 L112.4 596.4 L112.9 596.1 L113.3 594.8 L113.8 594.3 L114.2 595.6 L114.7 597.7 L115.1 600.2 L115.6 604 L116 609.3 L116.4 615.5 L116.9 620 L117.3 624 L117.8 627 L118.2 630.3 L118.7 632.6 L119.1 634.6 L119.6 636 L120 637.3 L120.5 638.2 L120.9 638.8 L121.4 639.1 L121.8 639.2 L122.2 639.3 L122.7 639.4 L123.1 639.4 L123.6 639.4 L124 639.4 L124.5 639.4 L124.9 639.4 L125.4 639.4 L125.8 639.4 L126.3 639.4 L126.7 639.4 L127.2 639.4 L127.6 639.4" fill="none" stroke="#e9a23b" stroke-width="0.75" stroke-linejoin="round"/>
<path d="M38.4 639.4 L38.8 639.4 L39.3 639.4 L39.7 639.4 L40.2 639.4 L40.6 639.4 L41.1 639.4 L41.5 639.4 L42 639.4 L42.4 639.4 L42.9 639.4 L43.3 639.4 L43.8 639.4 L44.2 639.4 L44.6 639.4 L45.1 639.4 L45.5 639.4 L46 639.4 L46.4 639.4 L46.9 639.4 L47.3 639.4 L47.8 639.4 L48.2 639.4 L48.7 639.4 L49.1 639.4 L49.5 639.4 L50 639.4 L50.4 639.4 L50.9 639.4 L51.3 639.4 L51.8 639.4 L52.2 639.4 L52.7 639.4 L53.1 639.4 L53.6 639.4 L54 639.4 L54.5 639.4 L54.9 639.4 L55.3 639.4 L55.8 639.4 L56.2 639.4 L56.7 639.4 L57.1 639.4 L57.6 639.4 L58 639.4 L58.5 639.4 L58.9 639.4 L59.4 639.4 L59.8 639.4 L60.3 639.4 L60.7 639.4 L61.1 639.4 L61.6 639.4 L62 639.4 L62.5 639.4 L62.9 639.4 L63.4 639.4 L63.8 639.4 L64.3 639.4 L64.7 639.4 L65.2 639.4 L65.6 639.4 L66.1 639.4 L66.5 639.4 L66.9 639.4 L67.4 639.4 L67.8 639.4 L68.3 639.4 L68.7 639.4 L69.2 639.4 L69.6 639.4 L70.1 639.4 L70.5 639.4 L71 639.4 L71.4 639.4 L71.8 639.4 L72.3 639.4 L72.7 639.4 L73.2 639.4 L73.6 639.4 L74.1 639.4 L74.5 639.4 L75 639.4 L75.4 639.4 L75.9 639.4 L76.3 639.4 L76.8 639.4 L77.2 639.4 L77.6 639.4 L78.1 639.4 L78.5 639.4 L79 639.4 L79.4 639.4 L79.9 639.4 L80.3 639.4 L80.8 639.4 L81.2 639.4 L81.7 639.4 L82.1 639.4 L82.6 639.4 L83 639.3 L83.4 639.3 L83.9 639.2 L84.3 639.1 L84.8 638.9 L85.2 638.8 L85.7 638.7 L86.1 638.6 L86.6 638.4 L87 638.2 L87.5 637.9 L87.9 637.7 L88.4 637.4 L88.8 637 L89.2 636.5 L89.7 636.3 L90.1 636 L90.6 635.3 L91 634.9 L91.5 634.5 L91.9 633.7 L92.4 633.2 L92.8 632.1 L93.3 631 L93.7 630.1 L94.1 628.8 L94.6 627.5 L95 625.4 L95.5 624.1 L95.9 622.4 L96.4 619.2 L96.8 616.9 L97.3 613.9 L97.7 610.5 L98.2 607.5 L98.6 602.9 L99.1 598.2 L99.5 594.7 L99.9 593.1 L100.4 591.5 L100.8 591.6 L101.3 591.3 L101.7 591.7 L102.2 591.8 L102.6 592.5 L103.1 592.9 L103.5 592.1 L104 592.1 L104.4 592.7 L104.9 592.5 L105.3 590.9 L105.7 588.4 L106.2 585.7 L106.6 582.6 L107.1 580.2 L107.5 578.8 L108 575.6 L108.4 573.4 L108.9 571.3 L109.3 568.9 L109.8 567.9 L110.2 565.4 L110.7 563.2 L111.1 561.3 L111.5 561.3 L112 558.8 L112.4 556.3 L112.9 556.3 L113.3 555.3 L113.8 556.2 L114.2 559.8 L114.7 561.9 L115.1 565.6 L115.6 570.6 L116 577.4 L116.4 582.9 L116.9 591.5 L117.3 599.2 L117.8 604.1 L118.2 610.2 L118.7 616.2 L119.1 620.4 L119.6 624 L120 627.8 L120.5 630.4 L120.9 632.9 L121.4 634.7 L121.8 636.2 L122.2 637.4 L122.7 638.3 L123.1 638.9 L123.6 639.1 L124 639.2 L124.5 639.4 L124.9 639.4 L125.4 639.4 L125.8 639.4 L126.3 639.4 L126.7 639.4 L127.2 639.4 L127.6 639.4" fill="none" stroke="#cc2a2a" stroke-width="0.75" stroke-linejoin="round"/>
<path d="M38.4 639.4 L38.8 639.4 L39.3 639.4 L39.7 639.4 L40.2 639.4 L40.6 639.4 L41.1 639.4 L41.5 639.4 L42 639.4 L42.4 639.4 L42.9 639.4 L43.3 639.4 L43.8 639.4 L44.2 639.4 L44.6 639.4 L45.1 639.4 L45.5 639.4 L46 639.4 L46.4 639.4 L46.9 639.4 L47.3 639.4 L47.8 639.4 L48.2 639.4 L48.7 639.4 L49.1 639.4 L49.5 639.4 L50 639.4 L50.4 639.4 L50.9 639.4 L51.3 639.4 L51.8 639.4 L52.2 639.4 L52.7 639.4 L53.1 639.4 L53.6 639.4 L54 639.4 L54.5 639.4 L54.9 639.4 L55.3 639.4 L55.8 639.4 L56.2 639.4 L56.7 639.4 L57.1 639.4 L57.6 639.4 L58 639.4 L58.5 639.4 L58.9 639.4 L59.4 639.4 L59.8 639.4 L60.3 639.4 L60.7 639.4 L61.1 639.4 L61.6 639.4 L62 639.4 L62.5 639.4 L62.9 639.4 L63.4 639.4 L63.8 639.4 L64.3 639.4 L64.7 639.4 L65.2 639.4 L65.6 639.4 L66.1 639.4 L66.5 639.4 L66.9 639.4 L67.4 639.4 L67.8 639.4 L68.3 639.4 L68.7 639.4 L69.2 639.4 L69.6 639.4 L70.1 639.4 L70.5 639.4 L71 639.4 L71.4 639.4 L71.8 639.4 L72.3 639.4 L72.7 639.4 L73.2 639.4 L73.6 639.4 L74.1 639.4 L74.5 639.4 L75 639.4 L75.4 639.4 L75.9 639.4 L76.3 639.4 L76.8 639.4 L77.2 639.4 L77.6 639.4 L78.1 639.4 L78.5 639.4 L79 639.4 L79.4 639.4 L79.9 639.4 L80.3 639.4 L80.8 639.4 L81.2 639.4 L81.7 639.4 L82.1 639.4 L82.6 639.4 L83 639.4 L83.4 639.4 L83.9 639.4 L84.3 639.3 L84.8 639.2 L85.2 639.1 L85.7 639 L86.1 638.9 L86.6 638.8 L87 638.7 L87.5 638.6 L87.9 638.4 L88.4 638.2 L88.8 638 L89.2 637.7 L89.7 637.4 L90.1 637.1 L90.6 636.7 L91 636.3 L91.5 635.9 L91.9 635.3 L92.4 635.1 L92.8 634.7 L93.3 634.2 L93.7 633.7 L94.1 632.9 L94.6 631.9 L95 630.9 L95.5 629.4 L95.9 628.4 L96.4 626.2 L96.8 624.2 L97.3 623.1 L97.7 621.1 L98.2 617.5 L98.6 615.2 L99.1 611.4 L99.5 609.3 L99.9 605.4 L100.4 601.7 L100.8 599 L101.3 596.5 L101.7 594.2 L102.2 592.3 L102.6 592.3 L103.1 590.5 L103.5 589.5 L104 586.8 L104.4 585.5 L104.9 584.1 L105.3 582.7 L105.7 581.3 L106.2 579.2 L106.6 577.5 L107.1 575.1 L107.5 572.5 L108 570.5 L108.4 569.4 L108.9 568.3 L109.3 565.9 L109.8 565 L110.2 563.2 L110.7 560.8 L111.1 559.4 L111.5 558.3 L112 558.1 L112.4 557.6 L112.9 556.4 L113.3 557.9 L113.8 559.2 L114.2 560.9 L114.7 566 L115.1 571.8 L115.6 578.3 L116 584.9 L116.4 591.8 L116.9 597.6 L117.3 603.3 L117.8 610.4 L118.2 615.1 L118.7 619.1 L119.1 623.4 L119.6 627.6 L120 630.9 L120.5 632.8 L120.9 634.7 L121.4 636.3 L121.8 637.5 L122.2 638.3 L122.7 638.9 L123.1 639.1 L123.6 639.3 L124 639.4 L124.5 639.4 L124.9 639.4 L125.4 639.4 L125.8 639.4 L126.3 639.4 L126.7 639.4 L127.2 639.4 L127.6 639.4" fill="none" stroke="#111111" stroke-width="0.85" stroke-linejoin="round"/>
<rect x="37.9" y="551.2" width="90.2" height="89.4" fill="none" stroke="#9a9a9a" stroke-width="0.8"/>
<text x="35.5" y="640.3" font-size="2.8" text-anchor="end" font-weight="normal" fill="#555" >0</text>
<text x="35.5" y="623.1" font-size="2.8" text-anchor="end" font-weight="normal" fill="#555" >20</text>
<text x="35.5" y="605.9" font-size="2.8" text-anchor="end" font-weight="normal" fill="#555" >40</text>
<text x="35.5" y="588.6" font-size="2.8" text-anchor="end" font-weight="normal" fill="#555" >60</text>
<text x="35.5" y="571.4" font-size="2.8" text-anchor="end" font-weight="normal" fill="#555" >80</text>
<text x="35.5" y="554.2" font-size="2.8" text-anchor="end" font-weight="normal" fill="#555" >100</text>
<text x="42.6" y="647.6" font-size="3.0" text-anchor="middle" font-weight="normal" fill="#666" >10<tspan font-size="2.2" dy="-1.3">0</tspan></text>
<text x="53.7" y="647.6" font-size="3.0" text-anchor="middle" font-weight="normal" fill="#666" >10<tspan font-size="2.2" dy="-1.3">1</tspan></text>
<text x="66.2" y="647.6" font-size="3.0" text-anchor="middle" font-weight="normal" fill="#666" >10<tspan font-size="2.2" dy="-1.3">2</tspan></text>
<text x="79.6" y="647.6" font-size="3.0" text-anchor="middle" font-weight="normal" fill="#666" >10<tspan font-size="2.2" dy="-1.3">3</tspan></text>
<text x="91.7" y="647.6" font-size="3.0" text-anchor="middle" font-weight="normal" fill="#666" >10<tspan font-size="2.2" dy="-1.3">4</tspan></text>
<text x="104.5" y="647.6" font-size="3.0" text-anchor="middle" font-weight="normal" fill="#666" >10<tspan font-size="2.2" dy="-1.3">5</tspan></text>
<text x="117.2" y="647.6" font-size="3.0" text-anchor="middle" font-weight="normal" fill="#666" >10<tspan font-size="2.2" dy="-1.3">6</tspan></text>
<path d="M38.3 639.6H127.7" stroke="#2a2a2a" stroke-width="0.9" fill="none"/>
<path d="M37.9 551.2V640.6H128.1" stroke="#555" stroke-width="0.7" fill="none"/>
<path d="M37.9 639.4h-1.6M37.9 622.2h-1.6M37.9 605h-1.6M37.9 587.7h-1.6M37.9 570.5h-1.6M37.9 553.3h-1.6M42.3 640.6v1.8M45.6 640.6v0.9M47.6 640.6v0.9M49 640.6v0.9M50.1 640.6v0.9M51 640.6v0.9M51.7 640.6v0.9M52.4 640.6v0.9M53 640.6v0.9M53.4 640.6v1.8M57.1 640.6v0.9M59.4 640.6v0.9M60.9 640.6v0.9M62.1 640.6v0.9M63.1 640.6v0.9M64 640.6v0.9M64.8 640.6v0.9M65.4 640.6v0.9M65.9 640.6v1.8M69.9 640.6v0.9M72.3 640.6v0.9M73.9 640.6v0.9M75.3 640.6v0.9M76.4 640.6v0.9M77.3 640.6v0.9M78.1 640.6v0.9M78.8 640.6v0.9M79.3 640.6v1.8M82.9 640.6v0.9M85.1 640.6v0.9M86.6 640.6v0.9M87.8 640.6v0.9M88.7 640.6v0.9M89.6 640.6v0.9M90.3 640.6v0.9M90.9 640.6v0.9M91.4 640.6v1.8M95.2 640.6v0.9M97.5 640.6v0.9M99.1 640.6v0.9M100.4 640.6v0.9M101.4 640.6v0.9M102.3 640.6v0.9M103 640.6v0.9M103.7 640.6v0.9M104.2 640.6v1.8M108 640.6v0.9M110.3 640.6v0.9M111.8 640.6v0.9M113.1 640.6v0.9M114.1 640.6v0.9M115 640.6v0.9M115.8 640.6v0.9M116.4 640.6v0.9M116.9 640.6v1.8" stroke="#333" stroke-width="0.5" fill="none"/>
<text x="41.3" y="559.2" font-size="7.8" text-anchor="start" font-weight="normal" fill="#111" stroke="#111" stroke-width="0.15">SK-N-BE(2)C</text>
<rect x="137.8" y="551.2" width="89.6" height="89.4" fill="#fff" stroke="#9a9a9a" stroke-width="0.8"/>
<path d="M138.3 639.4 L138.7 639.4 L139.2 639.4 L139.6 639.4 L140.1 639.4 L140.5 639.4 L141 639.4 L141.4 639.4 L141.8 639.4 L142.3 639.4 L142.7 639.4 L143.2 639.4 L143.6 639.4 L144.1 639.4 L144.5 639.4 L144.9 639.4 L145.4 639.4 L145.8 639.4 L146.3 639.4 L146.7 639.4 L147.2 639.4 L147.6 639.4 L148 639.4 L148.5 639.4 L148.9 639.4 L149.4 639.4 L149.8 639.4 L150.3 639.4 L150.7 639.4 L151.1 639.4 L151.6 639.4 L152 639.4 L152.5 639.4 L152.9 639.4 L153.4 639.4 L153.8 639.4 L154.2 639.4 L154.7 639.4 L155.1 639.4 L155.6 639.4 L156 639.4 L156.5 639.4 L156.9 639.4 L157.3 639.4 L157.8 639.4 L158.2 639.4 L158.7 639.4 L159.1 639.4 L159.6 639.4 L160 639.4 L160.5 639.4 L160.9 639.3 L161.3 639.1 L161.8 638.9 L162.2 638.6 L162.7 638.3 L163.1 638 L163.6 637.6 L164 637.1 L164.4 636.7 L164.9 636.2 L165.3 635.7 L165.8 635.2 L166.2 634.6 L166.7 633.9 L167.1 633.4 L167.5 632.7 L168 631.7 L168.4 630.5 L168.9 629.2 L169.3 628.1 L169.8 626.7 L170.2 625.4 L170.6 623.8 L171.1 622.4 L171.5 620.4 L172 618.3 L172.4 616.2 L172.9 614.4 L173.3 612.1 L173.7 610.5 L174.2 608.2 L174.6 605 L175.1 602.2 L175.5 599.6 L176 596.3 L176.4 593.3 L176.8 590.1 L177.3 587 L177.7 583.4 L178.2 579.3 L178.6 575.5 L179.1 571.6 L179.5 567.5 L179.9 564.6 L180.4 561.5 L180.8 558.7 L181.3 556.8 L181.7 556.5 L182.2 560.3 L182.6 566.5 L183 573.9 L183.5 580.4 L183.9 589.9 L184.4 599.9 L184.8 608.2 L185.3 615.2 L185.7 621.2 L186.1 625.3 L186.6 628.8 L187 631.8 L187.5 634.2 L187.9 636.1 L188.4 637.2 L188.8 637.8 L189.2 638.3 L189.7 638.8 L190.1 639.1 L190.6 639.3 L191 639.4 L191.5 639.4 L191.9 639.4 L192.3 639.4 L192.8 639.4 L193.2 639.4 L193.7 639.4 L194.1 639.4 L194.6 639.4 L195 639.4 L195.4 639.4 L195.9 639.4 L196.3 639.4 L196.8 639.4 L197.2 639.4 L197.7 639.4 L198.1 639.4 L198.5 639.4 L199 639.4 L199.4 639.4 L199.9 639.4 L200.3 639.4 L200.8 639.4 L201.2 639.4 L201.6 639.4 L202.1 639.4 L202.5 639.4 L203 639.4 L203.4 639.4 L203.9 639.4 L204.3 639.4 L204.8 639.4 L205.2 639.4 L205.6 639.4 L206.1 639.4 L206.5 639.4 L207 639.4 L207.4 639.4 L207.9 639.4 L208.3 639.4 L208.7 639.4 L209.2 639.4 L209.6 639.4 L210.1 639.4 L210.5 639.4 L211 639.4 L211.4 639.4 L211.8 639.4 L212.3 639.4 L212.7 639.4 L213.2 639.4 L213.6 639.4 L214.1 639.4 L214.5 639.4 L214.9 639.4 L215.4 639.4 L215.8 639.4 L216.3 639.4 L216.7 639.4 L217.2 639.4 L217.6 639.4 L218 639.4 L218.5 639.4 L218.9 639.4 L219.4 639.4 L219.8 639.4 L220.3 639.4 L220.7 639.4 L221.1 639.4 L221.6 639.4 L222 639.4 L222.5 639.4 L222.9 639.4 L223.4 639.4 L223.8 639.4 L224.2 639.4 L224.7 639.4 L225.1 639.4 L225.6 639.4 L226 639.4 L226.5 639.4 L226.9 639.4 L226.9 639.4 L138.3 639.4 Z" fill="#e6e6e6" stroke="none"/>
<path d="M138.3 639.4 L138.7 639.4 L139.2 639.4 L139.6 639.4 L140.1 639.4 L140.5 639.4 L141 639.4 L141.4 639.4 L141.8 639.4 L142.3 639.4 L142.7 639.4 L143.2 639.4 L143.6 639.4 L144.1 639.4 L144.5 639.4 L144.9 639.4 L145.4 639.4 L145.8 639.4 L146.3 639.4 L146.7 639.4 L147.2 639.4 L147.6 639.4 L148 639.4 L148.5 639.4 L148.9 639.4 L149.4 639.4 L149.8 639.4 L150.3 639.4 L150.7 639.4 L151.1 639.4 L151.6 639.4 L152 639.4 L152.5 639.4 L152.9 639.4 L153.4 639.4 L153.8 639.4 L154.2 639.4 L154.7 639.4 L155.1 639.4 L155.6 639.4 L156 639.4 L156.5 639.4 L156.9 639.4 L157.3 639.4 L157.8 639.4 L158.2 639.4 L158.7 639.4 L159.1 639.4 L159.6 639.4 L160 639.4 L160.5 639.4 L160.9 639.3 L161.3 639.1 L161.8 638.9 L162.2 638.6 L162.7 638.3 L163.1 638 L163.6 637.6 L164 637.1 L164.4 636.7 L164.9 636.2 L165.3 635.7 L165.8 635.2 L166.2 634.6 L166.7 633.9 L167.1 633.4 L167.5 632.7 L168 631.7 L168.4 630.5 L168.9 629.2 L169.3 628.1 L169.8 626.7 L170.2 625.4 L170.6 623.8 L171.1 622.4 L171.5 620.4 L172 618.3 L172.4 616.2 L172.9 614.4 L173.3 612.1 L173.7 610.5 L174.2 608.2 L174.6 605 L175.1 602.2 L175.5 599.6 L176 596.3 L176.4 593.3 L176.8 590.1 L177.3 587 L177.7 583.4 L178.2 579.3 L178.6 575.5 L179.1 571.6 L179.5 567.5 L179.9 564.6 L180.4 561.5 L180.8 558.7 L181.3 556.8 L181.7 556.5 L182.2 560.3 L182.6 566.5 L183 573.9 L183.5 580.4 L183.9 589.9 L184.4 599.9 L184.8 608.2 L185.3 615.2 L185.7 621.2 L186.1 625.3 L186.6 628.8 L187 631.8 L187.5 634.2 L187.9 636.1 L188.4 637.2 L188.8 637.8 L189.2 638.3 L189.7 638.8 L190.1 639.1 L190.6 639.3 L191 639.4 L191.5 639.4 L191.9 639.4 L192.3 639.4 L192.8 639.4 L193.2 639.4 L193.7 639.4 L194.1 639.4 L194.6 639.4 L195 639.4 L195.4 639.4 L195.9 639.4 L196.3 639.4 L196.8 639.4 L197.2 639.4 L197.7 639.4 L198.1 639.4 L198.5 639.4 L199 639.4 L199.4 639.4 L199.9 639.4 L200.3 639.4 L200.8 639.4 L201.2 639.4 L201.6 639.4 L202.1 639.4 L202.5 639.4 L203 639.4 L203.4 639.4 L203.9 639.4 L204.3 639.4 L204.8 639.4 L205.2 639.4 L205.6 639.4 L206.1 639.4 L206.5 639.4 L207 639.4 L207.4 639.4 L207.9 639.4 L208.3 639.4 L208.7 639.4 L209.2 639.4 L209.6 639.4 L210.1 639.4 L210.5 639.4 L211 639.4 L211.4 639.4 L211.8 639.4 L212.3 639.4 L212.7 639.4 L213.2 639.4 L213.6 639.4 L214.1 639.4 L214.5 639.4 L214.9 639.4 L215.4 639.4 L215.8 639.4 L216.3 639.4 L216.7 639.4 L217.2 639.4 L217.6 639.4 L218 639.4 L218.5 639.4 L218.9 639.4 L219.4 639.4 L219.8 639.4 L220.3 639.4 L220.7 639.4 L221.1 639.4 L221.6 639.4 L222 639.4 L222.5 639.4 L222.9 639.4 L223.4 639.4 L223.8 639.4 L224.2 639.4 L224.7 639.4 L225.1 639.4 L225.6 639.4 L226 639.4 L226.5 639.4 L226.9 639.4" fill="none" stroke="#b4b4b4" stroke-width="0.6" stroke-linejoin="round"/>
<path d="M138.3 639.4 L138.7 639.4 L139.2 639.4 L139.6 639.4 L140.1 639.4 L140.5 639.4 L141 639.4 L141.4 639.4 L141.8 639.4 L142.3 639.4 L142.7 639.4 L143.2 639.4 L143.6 639.4 L144.1 639.4 L144.5 639.4 L144.9 639.4 L145.4 639.4 L145.8 639.4 L146.3 639.4 L146.7 639.4 L147.2 639.4 L147.6 639.4 L148 639.4 L148.5 639.4 L148.9 639.4 L149.4 639.4 L149.8 639.4 L150.3 639.4 L150.7 639.4 L151.1 639.4 L151.6 639.4 L152 639.4 L152.5 639.4 L152.9 639.4 L153.4 639.4 L153.8 639.4 L154.2 639.4 L154.7 639.4 L155.1 639.4 L155.6 639.4 L156 639.4 L156.5 639.4 L156.9 639.4 L157.3 639.4 L157.8 639.4 L158.2 639.4 L158.7 639.4 L159.1 639.4 L159.6 639.4 L160 639.4 L160.5 639.4 L160.9 639.4 L161.3 639.4 L161.8 639.4 L162.2 639.4 L162.7 639.4 L163.1 639.3 L163.6 639.3 L164 639.2 L164.4 639.1 L164.9 639 L165.3 638.9 L165.8 638.8 L166.2 638.7 L166.7 638.5 L167.1 638.4 L167.5 638.2 L168 638.1 L168.4 637.9 L168.9 637.8 L169.3 637.6 L169.8 637.4 L170.2 637.1 L170.6 636.8 L171.1 636.5 L171.5 636.3 L172 636 L172.4 635.6 L172.9 635.3 L173.3 635 L173.7 634.5 L174.2 634 L174.6 633.6 L175.1 633.1 L175.5 632.6 L176 632 L176.4 631 L176.8 630 L177.3 629.2 L177.7 628.5 L178.2 627.3 L178.6 625.8 L179.1 624.7 L179.5 623.7 L179.9 622.5 L180.4 620.4 L180.8 618.4 L181.3 616.7 L181.7 614.4 L182.2 611.8 L182.6 609 L183 606.5 L183.5 604.4 L183.9 601.3 L184.4 598 L184.8 594.6 L185.3 591.2 L185.7 587.8 L186.1 584.5 L186.6 580.3 L187 576 L187.5 571.6 L187.9 568.1 L188.4 565.2 L188.8 562.5 L189.2 559.5 L189.7 557.2 L190.1 556.4 L190.6 556.7 L191 557.4 L191.5 560.2 L191.9 562 L192.3 564.3 L192.8 567.6 L193.2 570.7 L193.7 574.3 L194.1 578.4 L194.6 580.7 L195 584 L195.4 586.4 L195.9 588.8 L196.3 591.4 L196.8 593.1 L197.2 594.3 L197.7 594.5 L198.1 595.8 L198.5 599.8 L199 604.2 L199.4 607 L199.9 608.9 L200.3 610.6 L200.8 611.2 L201.2 610.9 L201.6 610.7 L202.1 610.2 L202.5 610.7 L203 610.8 L203.4 609.6 L203.9 609 L204.3 608.9 L204.8 609.7 L205.2 610.7 L205.6 611.8 L206.1 612.3 L206.5 612.7 L207 613.3 L207.4 613.9 L207.9 614.2 L208.3 614.7 L208.7 615.3 L209.2 615.7 L209.6 616.9 L210.1 617.4 L210.5 618.7 L211 620.3 L211.4 622 L211.8 624.7 L212.3 627.4 L212.7 629.9 L213.2 631.8 L213.6 633.3 L214.1 634.9 L214.5 636.3 L214.9 637.4 L215.4 638.1 L215.8 638.5 L216.3 638.9 L216.7 639.2 L217.2 639.3 L217.6 639.4 L218 639.4 L218.5 639.4 L218.9 639.4 L219.4 639.4 L219.8 639.4 L220.3 639.4 L220.7 639.4 L221.1 639.4 L221.6 639.4 L222 639.4 L222.5 639.4 L222.9 639.4 L223.4 639.4 L223.8 639.4 L224.2 639.4 L224.7 639.4 L225.1 639.4 L225.6 639.4 L226 639.4 L226.5 639.4 L226.9 639.4" fill="none" stroke="#2f78c0" stroke-width="0.75" stroke-linejoin="round"/>
<path d="M138.3 639.4 L138.7 639.4 L139.2 639.4 L139.6 639.4 L140.1 639.4 L140.5 639.4 L141 639.4 L141.4 639.4 L141.8 639.4 L142.3 639.4 L142.7 639.4 L143.2 639.4 L143.6 639.4 L144.1 639.4 L144.5 639.4 L144.9 639.4 L145.4 639.4 L145.8 639.4 L146.3 639.4 L146.7 639.4 L147.2 639.4 L147.6 639.4 L148 639.4 L148.5 639.4 L148.9 639.4 L149.4 639.4 L149.8 639.4 L150.3 639.4 L150.7 639.4 L151.1 639.4 L151.6 639.4 L152 639.4 L152.5 639.4 L152.9 639.4 L153.4 639.4 L153.8 639.4 L154.2 639.4 L154.7 639.4 L155.1 639.4 L155.6 639.4 L156 639.4 L156.5 639.4 L156.9 639.4 L157.3 639.4 L157.8 639.4 L158.2 639.4 L158.7 639.4 L159.1 639.4 L159.6 639.4 L160 639.4 L160.5 639.4 L160.9 639.4 L161.3 639.4 L161.8 639.4 L162.2 639.4 L162.7 639.4 L163.1 639.4 L163.6 639.4 L164 639.4 L164.4 639.4 L164.9 639.4 L165.3 639.4 L165.8 639.4 L166.2 639.4 L166.7 639.4 L167.1 639.4 L167.5 639.4 L168 639.4 L168.4 639.4 L168.9 639.4 L169.3 639.4 L169.8 639.4 L170.2 639.4 L170.6 639.4 L171.1 639.4 L171.5 639.4 L172 639.4 L172.4 639.4 L172.9 639.4 L173.3 639.4 L173.7 639.4 L174.2 639.4 L174.6 639.4 L175.1 639.4 L175.5 639.4 L176 639.4 L176.4 639.4 L176.8 639.4 L177.3 639.4 L177.7 639.4 L178.2 639.4 L178.6 639.4 L179.1 639.4 L179.5 639.4 L179.9 639.4 L180.4 639.4 L180.8 639.4 L181.3 639.4 L181.7 639.4 L182.2 639.4 L182.6 639.4 L183 639.4 L183.5 639.4 L183.9 639.3 L184.4 639.3 L184.8 639.2 L185.3 639 L185.7 638.9 L186.1 638.8 L186.6 638.6 L187 638.5 L187.5 638.3 L187.9 638.2 L188.4 638 L188.8 637.7 L189.2 637.5 L189.7 637.3 L190.1 637 L190.6 636.5 L191 636.2 L191.5 635.6 L191.9 635.1 L192.3 634.7 L192.8 634.3 L193.2 633.4 L193.7 632.1 L194.1 630.9 L194.6 629.1 L195 627.1 L195.4 625 L195.9 623.4 L196.3 621.3 L196.8 618.2 L197.2 614.9 L197.7 611.1 L198.1 607.7 L198.5 602.8 L199 598.3 L199.4 594.2 L199.9 588.6 L200.3 583.5 L200.8 577.8 L201.2 572.7 L201.6 568.1 L202.1 564.1 L202.5 561.6 L203 558.8 L203.4 558.2 L203.9 556.9 L204.3 556.2 L204.8 556.8 L205.2 559.5 L205.6 561.9 L206.1 564.5 L206.5 567.4 L207 571.4 L207.4 574.3 L207.9 576.2 L208.3 576.5 L208.7 577.2 L209.2 577.2 L209.6 577.1 L210.1 577.8 L210.5 578.1 L211 580 L211.4 583.1 L211.8 587.5 L212.3 591.3 L212.7 596.4 L213.2 601.1 L213.6 605.2 L214.1 609.5 L214.5 614.6 L214.9 620.9 L215.4 624.8 L215.8 628.6 L216.3 631.4 L216.7 634.1 L217.2 636 L217.6 637.2 L218 638 L218.5 638.6 L218.9 639 L219.4 639.3 L219.8 639.4 L220.3 639.4 L220.7 639.4 L221.1 639.4 L221.6 639.4 L222 639.4 L222.5 639.4 L222.9 639.4 L223.4 639.4 L223.8 639.4 L224.2 639.4 L224.7 639.4 L225.1 639.4 L225.6 639.4 L226 639.4 L226.5 639.4 L226.9 639.4" fill="none" stroke="#e9a23b" stroke-width="0.75" stroke-linejoin="round"/>
<path d="M138.3 639.4 L138.7 639.4 L139.2 639.4 L139.6 639.4 L140.1 639.4 L140.5 639.4 L141 639.4 L141.4 639.4 L141.8 639.4 L142.3 639.4 L142.7 639.4 L143.2 639.4 L143.6 639.4 L144.1 639.4 L144.5 639.4 L144.9 639.4 L145.4 639.4 L145.8 639.4 L146.3 639.4 L146.7 639.4 L147.2 639.4 L147.6 639.4 L148 639.4 L148.5 639.4 L148.9 639.4 L149.4 639.4 L149.8 639.4 L150.3 639.4 L150.7 639.4 L151.1 639.4 L151.6 639.4 L152 639.4 L152.5 639.4 L152.9 639.4 L153.4 639.4 L153.8 639.4 L154.2 639.4 L154.7 639.4 L155.1 639.4 L155.6 639.4 L156 639.4 L156.5 639.4 L156.9 639.4 L157.3 639.4 L157.8 639.4 L158.2 639.4 L158.7 639.4 L159.1 639.4 L159.6 639.4 L160 639.4 L160.5 639.4 L160.9 639.4 L161.3 639.4 L161.8 639.4 L162.2 639.4 L162.7 639.4 L163.1 639.4 L163.6 639.4 L164 639.4 L164.4 639.4 L164.9 639.4 L165.3 639.4 L165.8 639.4 L166.2 639.4 L166.7 639.4 L167.1 639.4 L167.5 639.4 L168 639.4 L168.4 639.4 L168.9 639.4 L169.3 639.4 L169.8 639.4 L170.2 639.4 L170.6 639.4 L171.1 639.4 L171.5 639.4 L172 639.4 L172.4 639.4 L172.9 639.4 L173.3 639.4 L173.7 639.4 L174.2 639.4 L174.6 639.4 L175.1 639.4 L175.5 639.4 L176 639.4 L176.4 639.4 L176.8 639.4 L177.3 639.4 L177.7 639.4 L178.2 639.4 L178.6 639.4 L179.1 639.4 L179.5 639.4 L179.9 639.4 L180.4 639.4 L180.8 639.4 L181.3 639.4 L181.7 639.4 L182.2 639.4 L182.6 639.4 L183 639.4 L183.5 639.4 L183.9 639.4 L184.4 639.4 L184.8 639.4 L185.3 639.4 L185.7 639.4 L186.1 639.4 L186.6 639.4 L187 639.3 L187.5 639.3 L187.9 639.2 L188.4 639.1 L188.8 639 L189.2 638.9 L189.7 638.8 L190.1 638.7 L190.6 638.5 L191 638.4 L191.5 638.1 L191.9 637.9 L192.3 637.7 L192.8 637.4 L193.2 637 L193.7 636.7 L194.1 636.2 L194.6 635.7 L195 635.1 L195.4 634.5 L195.9 633.7 L196.3 633.2 L196.8 632.3 L197.2 631.1 L197.7 629.4 L198.1 627.2 L198.5 625.1 L199 623.7 L199.4 620.8 L199.9 618.4 L200.3 615.3 L200.8 611.1 L201.2 607 L201.6 601.4 L202.1 597.1 L202.5 592.9 L203 588 L203.4 584.2 L203.9 580.1 L204.3 575.4 L204.8 573.3 L205.2 570.6 L205.6 567.7 L206.1 566.5 L206.5 565.2 L207 563.8 L207.4 562.8 L207.9 562.7 L208.3 562.5 L208.7 562.7 L209.2 561.2 L209.6 561.2 L210.1 560.2 L210.5 559.8 L211 557.5 L211.4 556.3 L211.8 556.8 L212.3 557.9 L212.7 561.6 L213.2 565 L213.6 569.8 L214.1 575.5 L214.5 582.6 L214.9 590.2 L215.4 597.8 L215.8 605 L216.3 610.9 L216.7 618.3 L217.2 624.1 L217.6 628.9 L218 631.5 L218.5 633 L218.9 634.2 L219.4 634.7 L219.8 635 L220.3 635.1 L220.7 635.6 L221.1 636.7 L221.6 637.9 L222 638.7 L222.5 639.1 L222.9 639.3 L223.4 639.4 L223.8 639.4 L224.2 639.4 L224.7 639.4 L225.1 639.4 L225.6 639.4 L226 639.4 L226.5 639.4 L226.9 639.4" fill="none" stroke="#cc2a2a" stroke-width="0.75" stroke-linejoin="round"/>
<path d="M138.3 639.4 L138.7 639.4 L139.2 639.4 L139.6 639.4 L140.1 639.4 L140.5 639.4 L141 639.4 L141.4 639.4 L141.8 639.4 L142.3 639.4 L142.7 639.4 L143.2 639.4 L143.6 639.4 L144.1 639.4 L144.5 639.4 L144.9 639.4 L145.4 639.4 L145.8 639.4 L146.3 639.4 L146.7 639.4 L147.2 639.4 L147.6 639.4 L148 639.4 L148.5 639.4 L148.9 639.4 L149.4 639.4 L149.8 639.4 L150.3 639.4 L150.7 639.4 L151.1 639.4 L151.6 639.4 L152 639.4 L152.5 639.4 L152.9 639.4 L153.4 639.4 L153.8 639.4 L154.2 639.4 L154.7 639.4 L155.1 639.4 L155.6 639.4 L156 639.4 L156.5 639.4 L156.9 639.4 L157.3 639.4 L157.8 639.4 L158.2 639.4 L158.7 639.4 L159.1 639.4 L159.6 639.4 L160 639.4 L160.5 639.4 L160.9 639.4 L161.3 639.4 L161.8 639.4 L162.2 639.4 L162.7 639.4 L163.1 639.4 L163.6 639.4 L164 639.4 L164.4 639.4 L164.9 639.4 L165.3 639.4 L165.8 639.4 L166.2 639.4 L166.7 639.4 L167.1 639.4 L167.5 639.4 L168 639.4 L168.4 639.4 L168.9 639.4 L169.3 639.4 L169.8 639.4 L170.2 639.4 L170.6 639.4 L171.1 639.4 L171.5 639.4 L172 639.4 L172.4 639.4 L172.9 639.4 L173.3 639.4 L173.7 639.4 L174.2 639.4 L174.6 639.4 L175.1 639.4 L175.5 639.4 L176 639.4 L176.4 639.4 L176.8 639.4 L177.3 639.4 L177.7 639.4 L178.2 639.4 L178.6 639.4 L179.1 639.4 L179.5 639.4 L179.9 639.4 L180.4 639.4 L180.8 639.4 L181.3 639.4 L181.7 639.4 L182.2 639.4 L182.6 639.4 L183 639.4 L183.5 639.4 L183.9 639.4 L184.4 639.4 L184.8 639.4 L185.3 639.4 L185.7 639.4 L186.1 639.4 L186.6 639.4 L187 639.4 L187.5 639.3 L187.9 639.3 L188.4 639.2 L188.8 639.1 L189.2 639 L189.7 638.9 L190.1 638.8 L190.6 638.7 L191 638.5 L191.5 638.4 L191.9 638.1 L192.3 637.9 L192.8 637.6 L193.2 637.2 L193.7 636.8 L194.1 636.5 L194.6 636 L195 635.5 L195.4 635.2 L195.9 634.5 L196.3 633.8 L196.8 633.1 L197.2 632.1 L197.7 630.7 L198.1 629.3 L198.5 627.3 L199 625.6 L199.4 622.3 L199.9 619.7 L200.3 616.8 L200.8 613.6 L201.2 611.1 L201.6 607 L202.1 602 L202.5 597.2 L203 592.6 L203.4 587.6 L203.9 582.6 L204.3 578.2 L204.8 574.9 L205.2 572.7 L205.6 569.6 L206.1 567.4 L206.5 565.6 L207 566.5 L207.4 565.4 L207.9 565.5 L208.3 563.6 L208.7 561.9 L209.2 561.2 L209.6 561.3 L210.1 559.6 L210.5 559 L211 557.5 L211.4 556.9 L211.8 556.4 L212.3 555 L212.7 556.3 L213.2 560.4 L213.6 565.4 L214.1 570.6 L214.5 575.9 L214.9 583.9 L215.4 590.2 L215.8 598.2 L216.3 604.4 L216.7 611.9 L217.2 617.8 L217.6 624.5 L218 629.3 L218.5 631.6 L218.9 633.3 L219.4 634.5 L219.8 634.9 L220.3 634.9 L220.7 634.9 L221.1 635.4 L221.6 636.7 L222 638.1 L222.5 638.8 L222.9 639 L223.4 639.3 L223.8 639.4 L224.2 639.4 L224.7 639.4 L225.1 639.4 L225.6 639.4 L226 639.4 L226.5 639.4 L226.9 639.4" fill="none" stroke="#111111" stroke-width="0.85" stroke-linejoin="round"/>
<rect x="137.8" y="551.2" width="89.6" height="89.4" fill="none" stroke="#9a9a9a" stroke-width="0.8"/>
<text x="135.4" y="640.3" font-size="2.8" text-anchor="end" font-weight="normal" fill="#555" >0</text>
<text x="135.4" y="623.1" font-size="2.8" text-anchor="end" font-weight="normal" fill="#555" >20</text>
<text x="135.4" y="605.9" font-size="2.8" text-anchor="end" font-weight="normal" fill="#555" >40</text>
<text x="135.4" y="588.6" font-size="2.8" text-anchor="end" font-weight="normal" fill="#555" >60</text>
<text x="135.4" y="571.4" font-size="2.8" text-anchor="end" font-weight="normal" fill="#555" >80</text>
<text x="135.4" y="554.2" font-size="2.8" text-anchor="end" font-weight="normal" fill="#555" >100</text>
<text x="142.5" y="647.6" font-size="3.0" text-anchor="middle" font-weight="normal" fill="#666" >10<tspan font-size="2.2" dy="-1.3">0</tspan></text>
<text x="153.6" y="647.6" font-size="3.0" text-anchor="middle" font-weight="normal" fill="#666" >10<tspan font-size="2.2" dy="-1.3">1</tspan></text>
<text x="166.1" y="647.6" font-size="3.0" text-anchor="middle" font-weight="normal" fill="#666" >10<tspan font-size="2.2" dy="-1.3">2</tspan></text>
<text x="179.5" y="647.6" font-size="3.0" text-anchor="middle" font-weight="normal" fill="#666" >10<tspan font-size="2.2" dy="-1.3">3</tspan></text>
<text x="191.6" y="647.6" font-size="3.0" text-anchor="middle" font-weight="normal" fill="#666" >10<tspan font-size="2.2" dy="-1.3">4</tspan></text>
<text x="204.4" y="647.6" font-size="3.0" text-anchor="middle" font-weight="normal" fill="#666" >10<tspan font-size="2.2" dy="-1.3">5</tspan></text>
<text x="217.1" y="647.6" font-size="3.0" text-anchor="middle" font-weight="normal" fill="#666" >10<tspan font-size="2.2" dy="-1.3">6</tspan></text>
<path d="M138.2 639.6H227" stroke="#2a2a2a" stroke-width="0.9" fill="none"/>
<path d="M137.8 551.2V640.6H227.4" stroke="#555" stroke-width="0.7" fill="none"/>
<path d="M137.8 639.4h-1.6M137.8 622.2h-1.6M137.8 605h-1.6M137.8 587.7h-1.6M137.8 570.5h-1.6M137.8 553.3h-1.6M142.2 640.6v1.8M145.5 640.6v0.9M147.5 640.6v0.9M148.9 640.6v0.9M150 640.6v0.9M150.9 640.6v0.9M151.6 640.6v0.9M152.3 640.6v0.9M152.9 640.6v0.9M153.3 640.6v1.8M157.1 640.6v0.9M159.3 640.6v0.9M160.8 640.6v0.9M162.1 640.6v0.9M163.1 640.6v0.9M163.9 640.6v0.9M164.7 640.6v0.9M165.3 640.6v0.9M165.8 640.6v1.8M169.8 640.6v0.9M172.2 640.6v0.9M173.8 640.6v0.9M175.2 640.6v0.9M176.3 640.6v0.9M177.2 640.6v0.9M178 640.6v0.9M178.7 640.6v0.9M179.2 640.6v1.8M182.8 640.6v0.9M185 640.6v0.9M186.5 640.6v0.9M187.7 640.6v0.9M188.6 640.6v0.9M189.5 640.6v0.9M190.2 640.6v0.9M190.8 640.6v0.9M191.3 640.6v1.8M195.1 640.6v0.9M197.4 640.6v0.9M199 640.6v0.9M200.3 640.6v0.9M201.3 640.6v0.9M202.2 640.6v0.9M202.9 640.6v0.9M203.6 640.6v0.9M204.1 640.6v1.8M207.9 640.6v0.9M210.2 640.6v0.9M211.7 640.6v0.9M213 640.6v0.9M214 640.6v0.9M214.9 640.6v0.9M215.7 640.6v0.9M216.3 640.6v0.9M216.8 640.6v1.8" stroke="#333" stroke-width="0.5" fill="none"/>
<text x="141.2" y="559" font-size="7.2" text-anchor="start" font-weight="normal" fill="#111" stroke="#111" stroke-width="0.15">NGP</text>
<text x="23.4" y="492.6" font-size="9.7" text-anchor="middle" font-weight="normal" fill="#111" transform="rotate(-90 23.4 492.6)" >Count</text>
<text x="23.4" y="593.8" font-size="9.7" text-anchor="middle" font-weight="normal" fill="#111" transform="rotate(-90 23.4 593.8)" >Count</text>
<text x="77.5" y="660" font-size="9.7" text-anchor="middle" font-weight="normal" fill="#111" >Ki67</text>
<text x="180.5" y="660" font-size="9.7" text-anchor="middle" font-weight="normal" fill="#111" >Ki67</text>
<path d="M231.9 585.8H245.2" stroke="#111" stroke-width="1.4"/>
<circle cx="238.5" cy="585.8" r="1.8" fill="#111"/>
<text x="249.7" y="588.8" font-size="8.45" text-anchor="start" font-weight="normal" fill="#111" >Vehicle</text>
<path d="M231.9 598H245.2" stroke="#dc9a30" stroke-width="1.4"/>
<circle cx="238.5" cy="598" r="1.8" fill="#dc9a30"/>
<text x="249.7" y="600.8" font-size="8.45" text-anchor="start" font-weight="normal" fill="#111" >Ribociclib</text>
<path d="M231.9 610.4H245.2" stroke="#b8222b" stroke-width="1.4"/>
<circle cx="238.5" cy="610.4" r="1.8" fill="#b8222b"/>
<text x="249.7" y="613" font-size="8.45" text-anchor="start" font-weight="normal" fill="#111" >Binimetinib</text>
<path d="M231.9 626.2H245.2" stroke="#1f55a6" stroke-width="1.4"/>
<circle cx="238.5" cy="626.2" r="1.8" fill="#1f55a6"/>
<text x="249.7" y="623.8" font-size="8.45" text-anchor="start" font-weight="normal" fill="#111" >Ribociclib +</text>
<text x="249.7" y="634.6" font-size="8.45" text-anchor="start" font-weight="normal" fill="#111" >binimetinib</text>
<text x="244.6" y="450.6" font-size="13.5" text-anchor="start" font-weight="bold" fill="#000" >D</text>
<text x="303.3" y="471.4" font-size="10.55" text-anchor="middle" font-weight="normal" fill="#111" >Vehicle</text>
<text x="363.3" y="471.4" font-size="10.55" text-anchor="middle" font-weight="normal" fill="#111" >Ribociclib</text>
<text x="424.6" y="471.4" font-size="10.55" text-anchor="middle" font-weight="normal" fill="#111" >Binimetinib</text>
<text x="488.2" y="458.2" font-size="10.4" text-anchor="middle" font-weight="normal" fill="#111" >Ribociclib</text>
<text x="487.6" y="470.8" font-size="10.4" text-anchor="middle" font-weight="normal" fill="#111" >+binimetinib</text>
<text x="269.2" y="497.2" font-size="10.4" text-anchor="middle" font-weight="normal" fill="#111" transform="rotate(-90 269.2 497.2)" >0 Days</text>
<text x="269.2" y="545" font-size="10.4" text-anchor="middle" font-weight="normal" fill="#111" transform="rotate(-90 269.2 545)" >6 Days</text>
<rect x="274.6" y="476.4" width="57" height="42.2" fill="#dadada"/>
<filter id="nz1" x="0" y="0" width="100%" height="100%"><feTurbulence type="fractalNoise" baseFrequency="0.33" numOctaves="2" seed="5" result="n"/><feColorMatrix in="n" type="matrix" values="0 0 0 0 0.35  0 0 0 0 0.35  0 0 0 0 0.35  1.6 0 0 0 -0.78"/><feComposite in2="SourceGraphic" operator="in"/></filter>
<filter id="nw1" x="0" y="0" width="100%" height="100%"><feTurbulence type="fractalNoise" baseFrequency="0.2" numOctaves="2" seed="8" result="n"/><feColorMatrix in="n" type="matrix" values="0 0 0 0 1  0 0 0 0 1  0 0 0 0 1  0 1.5 0 0 -0.74"/><feComposite in2="SourceGraphic" operator="in"/></filter>
<rect x="274.6" y="476.4" width="57" height="42.2" fill="#000" filter="url(#nw1)"/>
<rect x="274.6" y="476.4" width="57" height="42.2" fill="#000" filter="url(#nz1)"/>
<rect x="274.6" y="476.4" width="57" height="42.2" fill="none" stroke="#5c5c5c" stroke-width="1.0"/>
<rect x="335.6" y="476.4" width="57.2" height="42.2" fill="#dbdbdb"/>
<filter id="nz2" x="0" y="0" width="100%" height="100%"><feTurbulence type="fractalNoise" baseFrequency="0.33" numOctaves="2" seed="10" result="n"/><feColorMatrix in="n" type="matrix" values="0 0 0 0 0.35  0 0 0 0 0.35  0 0 0 0 0.35  1.6 0 0 0 -0.78"/><feComposite in2="SourceGraphic" operator="in"/></filter>
<filter id="nw2" x="0" y="0" width="100%" height="100%"><feTurbulence type="fractalNoise" baseFrequency="0.2" numOctaves="2" seed="15" result="n"/><feColorMatrix in="n" type="matrix" values="0 0 0 0 1  0 0 0 0 1  0 0 0 0 1  0 1.5 0 0 -0.74"/><feComposite in2="SourceGraphic" operator="in"/></filter>
<rect x="335.6" y="476.4" width="57.2" height="42.2" fill="#000" filter="url(#nw2)"/>
<rect x="335.6" y="476.4" width="57.2" height="42.2" fill="#000" filter="url(#nz2)"/>
<rect x="335.6" y="476.4" width="57.2" height="42.2" fill="none" stroke="#5c5c5c" stroke-width="1.0"/>
<rect x="396.8" y="476.4" width="57.8" height="42.2" fill="#dddddd"/>
<filter id="nz3" x="0" y="0" width="100%" height="100%"><feTurbulence type="fractalNoise" baseFrequency="0.33" numOctaves="2" seed="15" result="n"/><feColorMatrix in="n" type="matrix" values="0 0 0 0 0.35  0 0 0 0 0.35  0 0 0 0 0.35  1.6 0 0 0 -0.78"/><feComposite in2="SourceGraphic" operator="in"/></filter>
<filter id="nw3" x="0" y="0" width="100%" height="100%"><feTurbulence type="fractalNoise" baseFrequency="0.2" numOctaves="2" seed="22" result="n"/><feColorMatrix in="n" type="matrix" values="0 0 0 0 1  0 0 0 0 1  0 0 0 0 1  0 1.5 0 0 -0.74"/><feComposite in2="SourceGraphic" operator="in"/></filter>
<rect x="396.8" y="476.4" width="57.8" height="42.2" fill="#000" filter="url(#nw3)"/>
<rect x="396.8" y="476.4" width="57.8" height="42.2" fill="#000" filter="url(#nz3)"/>
<rect x="396.8" y="476.4" width="57.8" height="42.2" fill="none" stroke="#5c5c5c" stroke-width="1.0"/>
<rect x="459" y="476.4" width="57.6" height="42.2" fill="#e0e0e0"/>
<filter id="nz4" x="0" y="0" width="100%" height="100%"><feTurbulence type="fractalNoise" baseFrequency="0.33" numOctaves="2" seed="20" result="n"/><feColorMatrix in="n" type="matrix" values="0 0 0 0 0.35  0 0 0 0 0.35  0 0 0 0 0.35  1.6 0 0 0 -0.78"/><feComposite in2="SourceGraphic" operator="in"/></filter>
<filter id="nw4" x="0" y="0" width="100%" height="100%"><feTurbulence type="fractalNoise" baseFrequency="0.2" numOctaves="2" seed="29" result="n"/><feColorMatrix in="n" type="matrix" values="0 0 0 0 1  0 0 0 0 1  0 0 0 0 1  0 1.5 0 0 -0.74"/><feComposite in2="SourceGraphic" operator="in"/></filter>
<rect x="459" y="476.4" width="57.6" height="42.2" fill="#000" filter="url(#nw4)"/>
<rect x="459" y="476.4" width="57.6" height="42.2" fill="#000" filter="url(#nz4)"/>
<rect x="459" y="476.4" width="57.6" height="42.2" fill="none" stroke="#5c5c5c" stroke-width="1.0"/>
<rect x="274.6" y="524.4" width="57" height="42.8" fill="#d3d3d3"/>
<filter id="nz5" x="0" y="0" width="100%" height="100%"><feTurbulence type="fractalNoise" baseFrequency="0.33" numOctaves="2" seed="25" result="n"/><feColorMatrix in="n" type="matrix" values="0 0 0 0 0.35  0 0 0 0 0.35  0 0 0 0 0.35  1.6 0 0 0 -0.78"/><feComposite in2="SourceGraphic" operator="in"/></filter>
<filter id="nw5" x="0" y="0" width="100%" height="100%"><feTurbulence type="fractalNoise" baseFrequency="0.2" numOctaves="2" seed="36" result="n"/><feColorMatrix in="n" type="matrix" values="0 0 0 0 1  0 0 0 0 1  0 0 0 0 1  0 1.5 0 0 -0.74"/><feComposite in2="SourceGraphic" operator="in"/></filter>
<rect x="274.6" y="524.4" width="57" height="42.8" fill="#000" filter="url(#nw5)"/>
<rect x="274.6" y="524.4" width="57" height="42.8" fill="#000" filter="url(#nz5)"/>
<circle cx="287" cy="537" r="5" fill="#555" opacity="0.22" filter="url(#blur1)"/>
<circle cx="298" cy="533" r="4.5" fill="#555" opacity="0.18" filter="url(#blur1)"/>
<circle cx="309" cy="530" r="4" fill="#555" opacity="0.2" filter="url(#blur1)"/>
<circle cx="293" cy="546" r="4" fill="#555" opacity="0.14" filter="url(#blur1)"/>
<circle cx="311" cy="552" r="3.5" fill="#555" opacity="0.12" filter="url(#blur1)"/>
<rect x="274.6" y="524.4" width="57" height="42.8" fill="none" stroke="#5c5c5c" stroke-width="1.0"/>
<rect x="335.6" y="524.4" width="57.2" height="42.8" fill="#d8d8d8"/>
<filter id="nz6" x="0" y="0" width="100%" height="100%"><feTurbulence type="fractalNoise" baseFrequency="0.33" numOctaves="2" seed="30" result="n"/><feColorMatrix in="n" type="matrix" values="0 0 0 0 0.35  0 0 0 0 0.35  0 0 0 0 0.35  1.6 0 0 0 -0.78"/><feComposite in2="SourceGraphic" operator="in"/></filter>
<filter id="nw6" x="0" y="0" width="100%" height="100%"><feTurbulence type="fractalNoise" baseFrequency="0.2" numOctaves="2" seed="43" result="n"/><feColorMatrix in="n" type="matrix" values="0 0 0 0 1  0 0 0 0 1  0 0 0 0 1  0 1.5 0 0 -0.74"/><feComposite in2="SourceGraphic" operator="in"/></filter>
<rect x="335.6" y="524.4" width="57.2" height="42.8" fill="#000" filter="url(#nw6)"/>
<rect x="335.6" y="524.4" width="57.2" height="42.8" fill="#000" filter="url(#nz6)"/>
<circle cx="356.2" cy="555" r="3.4" fill="#555" opacity="0.55" filter="url(#blur1)"/>
<circle cx="366.2" cy="543.8" r="3.2" fill="#555" opacity="0.4" filter="url(#blur1)"/>
<circle cx="350" cy="536" r="3" fill="#555" opacity="0.1" filter="url(#blur1)"/>
<rect x="335.6" y="524.4" width="57.2" height="42.8" fill="none" stroke="#5c5c5c" stroke-width="1.0"/>
<rect x="396.8" y="524.4" width="57.8" height="42.8" fill="#d5d5d5"/>
<filter id="nz7" x="0" y="0" width="100%" height="100%"><feTurbulence type="fractalNoise" baseFrequency="0.33" numOctaves="2" seed="35" result="n"/><feColorMatrix in="n" type="matrix" values="0 0 0 0 0.35  0 0 0 0 0.35  0 0 0 0 0.35  1.6 0 0 0 -0.78"/><feComposite in2="SourceGraphic" operator="in"/></filter>
<filter id="nw7" x="0" y="0" width="100%" height="100%"><feTurbulence type="fractalNoise" baseFrequency="0.2" numOctaves="2" seed="50" result="n"/><feColorMatrix in="n" type="matrix" values="0 0 0 0 1  0 0 0 0 1  0 0 0 0 1  0 1.5 0 0 -0.74"/><feComposite in2="SourceGraphic" operator="in"/></filter>
<rect x="396.8" y="524.4" width="57.8" height="42.8" fill="#000" filter="url(#nw7)"/>
<rect x="396.8" y="524.4" width="57.8" height="42.8" fill="#000" filter="url(#nz7)"/>
<rect x="396.8" y="524.4" width="57.8" height="42.8" fill="none" stroke="#5c5c5c" stroke-width="1.0"/>
<rect x="459" y="524.4" width="57.6" height="42.8" fill="#dcdcdc"/>
<filter id="nz8" x="0" y="0" width="100%" height="100%"><feTurbulence type="fractalNoise" baseFrequency="0.33" numOctaves="2" seed="40" result="n"/><feColorMatrix in="n" type="matrix" values="0 0 0 0 0.35  0 0 0 0 0.35  0 0 0 0 0.35  1.6 0 0 0 -0.78"/><feComposite in2="SourceGraphic" operator="in"/></filter>
<filter id="nw8" x="0" y="0" width="100%" height="100%"><feTurbulence type="fractalNoise" baseFrequency="0.2" numOctaves="2" seed="57" result="n"/><feColorMatrix in="n" type="matrix" values="0 0 0 0 1  0 0 0 0 1  0 0 0 0 1  0 1.5 0 0 -0.74"/><feComposite in2="SourceGraphic" operator="in"/></filter>
<rect x="459" y="524.4" width="57.6" height="42.8" fill="#000" filter="url(#nw8)"/>
<rect x="459" y="524.4" width="57.6" height="42.8" fill="#000" filter="url(#nz8)"/>
<rect x="459" y="524.4" width="57.6" height="42.8" fill="none" stroke="#5c5c5c" stroke-width="1.0"/>
</svg>
</body></html>
